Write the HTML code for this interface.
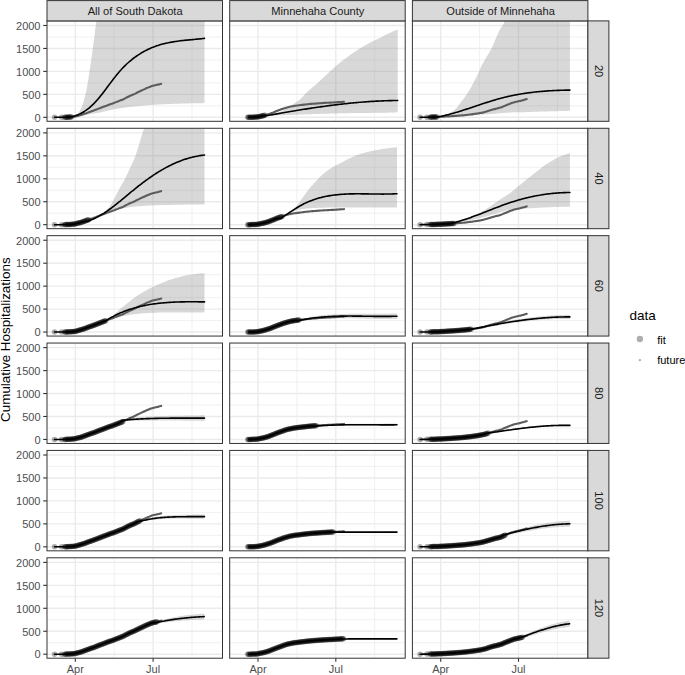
<!DOCTYPE html>
<html><head><meta charset="utf-8"><style>
html,body{margin:0;padding:0;background:#fff;width:685px;height:675px;overflow:hidden}
svg{display:block}
text{font-family:"Liberation Sans",sans-serif}
.st{font-size:11.1px;fill:#1A1A1A}
.ax{font-size:11px;fill:#4D4D4D}
.ti{font-size:13.4px;fill:#000}
.lt{font-size:13.5px;fill:#000}
.lx{font-size:11px;fill:#000}
</style></head><body>
<svg width="685" height="675" viewBox="0 0 685 675">
<defs><clipPath id="cp00"><rect x="47" y="20.9" width="175.5" height="100.4"/></clipPath><clipPath id="cp01"><rect x="229.7" y="20.9" width="175.5" height="100.4"/></clipPath><clipPath id="cp02"><rect x="412.4" y="20.9" width="175.5" height="100.4"/></clipPath><clipPath id="cp10"><rect x="47" y="128.28" width="175.5" height="100.4"/></clipPath><clipPath id="cp11"><rect x="229.7" y="128.28" width="175.5" height="100.4"/></clipPath><clipPath id="cp12"><rect x="412.4" y="128.28" width="175.5" height="100.4"/></clipPath><clipPath id="cp20"><rect x="47" y="235.66" width="175.5" height="100.4"/></clipPath><clipPath id="cp21"><rect x="229.7" y="235.66" width="175.5" height="100.4"/></clipPath><clipPath id="cp22"><rect x="412.4" y="235.66" width="175.5" height="100.4"/></clipPath><clipPath id="cp30"><rect x="47" y="343.04" width="175.5" height="100.4"/></clipPath><clipPath id="cp31"><rect x="229.7" y="343.04" width="175.5" height="100.4"/></clipPath><clipPath id="cp32"><rect x="412.4" y="343.04" width="175.5" height="100.4"/></clipPath><clipPath id="cp40"><rect x="47" y="450.42" width="175.5" height="100.4"/></clipPath><clipPath id="cp41"><rect x="229.7" y="450.42" width="175.5" height="100.4"/></clipPath><clipPath id="cp42"><rect x="412.4" y="450.42" width="175.5" height="100.4"/></clipPath><clipPath id="cp50"><rect x="47" y="557.8" width="175.5" height="100.4"/></clipPath><clipPath id="cp51"><rect x="229.7" y="557.8" width="175.5" height="100.4"/></clipPath><clipPath id="cp52"><rect x="412.4" y="557.8" width="175.5" height="100.4"/></clipPath></defs>
<rect width="685" height="675" fill="#fff"/>
<g clip-path="url(#cp00)">
<line x1="47" x2="222.5" y1="105.82" y2="105.82" stroke="#EBEBEB" stroke-width="0.7"/>
<line x1="47" x2="222.5" y1="82.87" y2="82.87" stroke="#EBEBEB" stroke-width="0.7"/>
<line x1="47" x2="222.5" y1="59.92" y2="59.92" stroke="#EBEBEB" stroke-width="0.7"/>
<line x1="47" x2="222.5" y1="36.97" y2="36.97" stroke="#EBEBEB" stroke-width="0.7"/>
<line x1="114.2" x2="114.2" y1="20.9" y2="121.3" stroke="#EBEBEB" stroke-width="0.7"/>
<line x1="192.01" x2="192.01" y1="20.9" y2="121.3" stroke="#EBEBEB" stroke-width="0.7"/>
<line x1="47" x2="222.5" y1="117.3" y2="117.3" stroke="#EBEBEB" stroke-width="1.4"/>
<line x1="47" x2="222.5" y1="94.35" y2="94.35" stroke="#EBEBEB" stroke-width="1.4"/>
<line x1="47" x2="222.5" y1="71.39" y2="71.39" stroke="#EBEBEB" stroke-width="1.4"/>
<line x1="47" x2="222.5" y1="48.44" y2="48.44" stroke="#EBEBEB" stroke-width="1.4"/>
<line x1="47" x2="222.5" y1="25.49" y2="25.49" stroke="#EBEBEB" stroke-width="1.4"/>
<line x1="75.3" x2="75.3" y1="20.9" y2="121.3" stroke="#EBEBEB" stroke-width="1.4"/>
<line x1="153.1" x2="153.1" y1="20.9" y2="121.3" stroke="#EBEBEB" stroke-width="1.4"/>
<path d="M71.5,116.9 L72.2,116.87 L72.91,116.78 L73.61,116.63 L74.31,116.44 L75.02,116.19 L75.72,115.91 L76.43,115.59 L77.13,115.09 L77.83,114.19 L78.54,113.06 L79.24,111.9 L79.94,110.56 L80.65,109.07 L81.35,107.48 L82.06,105.85 L82.76,104.1 L83.46,102.13 L84.17,99.82 L84.87,97.09 L85.57,94.04 L86.28,90.79 L86.98,87.22 L87.69,83.33 L88.39,79.15 L89.09,74.45 L89.8,69.51 L90.5,64.74 L91.2,59.96 L91.91,55.01 L92.61,49.89 L93.31,44.61 L94.02,39.15 L94.72,33.64 L95.43,27.99 L96.13,23.28 L96.83,11.81 L97.54,10 L98.24,10 L98.94,10 L99.65,10 L100.35,10 L101.06,10 L101.76,10 L102.46,10 L103.17,10 L103.87,10 L104.57,10 L105.28,10 L105.98,10 L106.69,10 L107.39,10 L108.09,10 L108.8,10 L109.5,10 L110.2,10 L110.91,10 L111.61,10 L112.31,10 L113.02,10 L113.72,10 L114.43,10 L115.13,10 L115.83,10 L116.54,10 L117.24,10 L117.94,10 L118.65,10 L119.35,10 L120.06,10 L120.76,10 L121.46,10 L122.17,10 L122.87,10 L123.57,10 L124.28,10 L124.98,10 L125.69,10 L126.39,10 L127.09,10 L127.8,10 L128.5,10 L129.2,10 L129.91,10 L130.61,10 L131.31,10 L132.02,10 L132.72,10 L133.43,10 L134.13,10 L134.83,10 L135.54,10 L136.24,10 L136.94,10 L137.65,10 L138.35,10 L139.06,10 L139.76,10 L140.46,10 L141.17,10 L141.87,10 L142.57,10 L143.28,10 L143.98,10 L144.69,10 L145.39,10 L146.09,10 L146.8,10 L147.5,10 L148.2,10 L148.91,10 L149.61,10 L150.31,10 L151.02,10 L151.72,10 L152.43,10 L153.13,10 L153.83,10 L154.54,10 L155.24,10 L155.94,10 L156.65,10 L157.35,10 L158.06,10 L158.76,10 L159.46,10 L160.17,10 L160.87,10 L161.57,10 L162.28,10 L162.98,10 L163.69,10 L164.39,10 L165.09,10 L165.8,10 L166.5,10 L167.2,10 L167.91,10 L168.61,10 L169.31,10 L170.02,10 L170.72,10 L171.43,10 L172.13,10 L172.83,10 L173.54,10 L174.24,10 L174.94,10 L175.65,10 L176.35,10 L177.06,10 L177.76,10 L178.46,10 L179.17,10 L179.87,10 L180.57,10 L181.28,10 L181.98,10 L182.69,10 L183.39,10 L184.09,10 L184.8,10 L185.5,10 L186.2,10 L186.91,10 L187.61,10 L188.31,10 L189.02,10 L189.72,10 L190.43,10 L191.13,10 L191.83,10 L192.54,10 L193.24,10 L193.94,10 L194.65,10 L195.35,10 L196.06,10 L196.76,10 L197.46,10 L198.17,10 L198.87,10 L199.57,10 L200.28,10 L200.98,10 L201.69,10 L202.39,10 L203.09,10 L203.8,10 L204.5,10 L204.5,103.1 L203.8,103.11 L203.09,103.12 L202.39,103.13 L201.69,103.14 L200.98,103.15 L200.28,103.16 L199.57,103.17 L198.87,103.18 L198.17,103.19 L197.46,103.21 L196.76,103.22 L196.06,103.23 L195.35,103.24 L194.65,103.26 L193.94,103.27 L193.24,103.29 L192.54,103.3 L191.83,103.32 L191.13,103.33 L190.43,103.35 L189.72,103.36 L189.02,103.38 L188.31,103.4 L187.61,103.42 L186.91,103.43 L186.2,103.45 L185.5,103.47 L184.8,103.49 L184.09,103.51 L183.39,103.53 L182.69,103.55 L181.98,103.57 L181.28,103.59 L180.57,103.62 L179.87,103.64 L179.17,103.66 L178.46,103.68 L177.76,103.71 L177.06,103.73 L176.35,103.75 L175.65,103.78 L174.94,103.8 L174.24,103.83 L173.54,103.85 L172.83,103.88 L172.13,103.9 L171.43,103.93 L170.72,103.96 L170.02,103.98 L169.31,104.01 L168.61,104.04 L167.91,104.06 L167.2,104.09 L166.5,104.12 L165.8,104.15 L165.09,104.18 L164.39,104.21 L163.69,104.25 L162.98,104.28 L162.28,104.31 L161.57,104.34 L160.87,104.38 L160.17,104.41 L159.46,104.45 L158.76,104.48 L158.06,104.52 L157.35,104.56 L156.65,104.6 L155.94,104.64 L155.24,104.68 L154.54,104.72 L153.83,104.76 L153.13,104.81 L152.43,104.85 L151.72,104.9 L151.02,104.95 L150.31,105 L149.61,105.06 L148.91,105.12 L148.2,105.18 L147.5,105.25 L146.8,105.31 L146.09,105.38 L145.39,105.45 L144.69,105.52 L143.98,105.58 L143.28,105.65 L142.57,105.71 L141.87,105.78 L141.17,105.85 L140.46,105.92 L139.76,105.98 L139.06,106.05 L138.35,106.12 L137.65,106.19 L136.94,106.26 L136.24,106.32 L135.54,106.39 L134.83,106.45 L134.13,106.52 L133.43,106.58 L132.72,106.64 L132.02,106.71 L131.31,106.77 L130.61,106.85 L129.91,106.92 L129.2,107 L128.5,107.09 L127.8,107.18 L127.09,107.28 L126.39,107.39 L125.69,107.5 L124.98,107.61 L124.28,107.72 L123.57,107.84 L122.87,107.95 L122.17,108.06 L121.46,108.17 L120.76,108.27 L120.06,108.37 L119.35,108.47 L118.65,108.57 L117.94,108.67 L117.24,108.78 L116.54,108.88 L115.83,108.99 L115.13,109.11 L114.43,109.23 L113.72,109.36 L113.02,109.49 L112.31,109.63 L111.61,109.77 L110.91,109.91 L110.2,110.06 L109.5,110.21 L108.8,110.37 L108.09,110.52 L107.39,110.68 L106.69,110.84 L105.98,111.02 L105.28,111.2 L104.57,111.38 L103.87,111.57 L103.17,111.75 L102.46,111.94 L101.76,112.11 L101.06,112.28 L100.35,112.43 L99.65,112.57 L98.94,112.7 L98.24,112.82 L97.54,112.93 L96.83,113.04 L96.13,113.15 L95.43,113.26 L94.72,113.36 L94.02,113.46 L93.31,113.57 L92.61,113.68 L91.91,113.8 L91.2,113.92 L90.5,114.04 L89.8,114.16 L89.09,114.29 L88.39,114.41 L87.69,114.54 L86.98,114.67 L86.28,114.79 L85.57,114.92 L84.87,115.05 L84.17,115.17 L83.46,115.3 L82.76,115.42 L82.06,115.55 L81.35,115.68 L80.65,115.81 L79.94,115.94 L79.24,116.06 L78.54,116.18 L77.83,116.3 L77.13,116.41 L76.43,116.51 L75.72,116.61 L75.02,116.7 L74.31,116.79 L73.61,116.87 L72.91,116.95 L72.2,117.03 L71.5,117.1 Z" fill="#7F7F7F" fill-opacity="0.3"/><path d="M71.62,116.95 C71.91,116.92 72.76,116.85 73.33,116.8 C73.9,116.74 74.47,116.74 75.04,116.64 C75.61,116.53 76.18,116.33 76.75,116.17 C77.32,116.01 77.89,115.84 78.46,115.68 C79.03,115.52 79.6,115.36 80.17,115.2 C80.74,115.04 81.31,114.89 81.88,114.72 C82.45,114.54 83.02,114.35 83.59,114.15 C84.16,113.96 84.73,113.76 85.3,113.55 C85.87,113.34 86.44,113.12 87.01,112.9 C87.58,112.69 88.15,112.46 88.72,112.26 C89.29,112.05 89.86,111.85 90.43,111.65 C91,111.45 91.57,111.26 92.14,111.06 C92.71,110.86 93.28,110.68 93.85,110.47 C94.42,110.27 94.99,110.07 95.56,109.85 C96.13,109.62 96.7,109.37 97.27,109.14 C97.84,108.92 98.41,108.7 98.98,108.48 C99.55,108.26 100.12,108.05 100.69,107.83 C101.26,107.61 101.83,107.39 102.4,107.17 C102.97,106.95 103.54,106.74 104.11,106.52 C104.68,106.31 105.25,106.12 105.82,105.9 C106.39,105.69 106.96,105.47 107.53,105.25 C108.1,105.02 108.67,104.76 109.24,104.55 C109.81,104.34 110.38,104.18 110.95,104 C111.52,103.82 112.09,103.66 112.66,103.46 C113.23,103.26 113.8,103.03 114.37,102.81 C114.94,102.59 115.51,102.37 116.08,102.14 C116.65,101.92 117.22,101.7 117.79,101.47 C118.36,101.24 118.93,101 119.5,100.77 C120.07,100.55 120.64,100.32 121.21,100.11 C121.78,99.9 122.35,99.78 122.92,99.52 C123.49,99.26 124.06,98.87 124.63,98.55 C125.2,98.24 125.77,97.94 126.34,97.65 C126.91,97.36 127.48,97.09 128.05,96.8 C128.62,96.52 129.19,96.2 129.76,95.94 C130.33,95.69 130.9,95.48 131.47,95.24 C132.04,95.01 132.61,94.79 133.18,94.55 C133.75,94.32 134.32,94.11 134.89,93.83 C135.46,93.55 136.03,93.18 136.6,92.88 C137.17,92.59 137.74,92.33 138.31,92.06 C138.88,91.79 139.45,91.52 140.02,91.25 C140.59,90.98 141.16,90.71 141.73,90.45 C142.3,90.18 142.87,89.91 143.44,89.65 C144.01,89.38 144.58,89.12 145.15,88.86 C145.72,88.59 146.29,88.32 146.86,88.07 C147.43,87.82 148,87.6 148.57,87.36 C149.14,87.13 149.71,86.88 150.28,86.66 C150.85,86.44 151.42,86.23 151.99,86.05 C152.56,85.86 153.13,85.7 153.7,85.56 C154.27,85.42 154.84,85.31 155.41,85.19 C155.98,85.07 156.55,84.97 157.12,84.84 C157.69,84.7 158.26,84.54 158.83,84.39 C159.4,84.23 160.14,84.03 160.54,83.93 C160.94,83.82 161.11,83.77 161.23,83.74" fill="none" stroke="#5C5C5C" stroke-width="2.1" stroke-linejoin="round" stroke-linecap="round"/><path d="M54.52,117.3 C54.95,117.3 56.23,117.3 57.09,117.3 C57.94,117.3 58.8,117.3 59.65,117.3 C60.51,117.3 61.36,117.3 62.22,117.29 C63.07,117.28 63.93,117.28 64.78,117.26 C65.64,117.24 66.26,117.24 67.35,117.16 C68.43,117.09 70.38,116.93 71.3,116.81 C72.22,116.69 72.34,116.58 72.85,116.46 C73.36,116.33 73.86,116.19 74.35,116.05 C74.85,115.9 75.34,115.75 75.82,115.59 C76.31,115.42 76.78,115.25 77.25,115.07 C77.72,114.89 78.19,114.7 78.65,114.5 C79.11,114.3 79.56,114.09 80.01,113.88 C80.46,113.66 80.9,113.44 81.34,113.21 C81.77,112.98 82.21,112.74 82.63,112.5 C83.06,112.25 83.48,112 83.9,111.74 C84.31,111.48 84.73,111.22 85.13,110.95 C85.54,110.67 85.94,110.39 86.34,110.11 C86.74,109.82 87.13,109.53 87.52,109.23 C87.91,108.94 88.3,108.63 88.68,108.32 C89.06,108.01 89.44,107.7 89.81,107.38 C90.19,107.06 90.56,106.73 90.92,106.4 C91.29,106.07 91.65,105.74 92.01,105.4 C92.37,105.06 92.73,104.71 93.08,104.37 C93.43,104.02 93.78,103.66 94.13,103.31 C94.48,102.95 94.82,102.59 95.16,102.23 C95.5,101.86 95.84,101.49 96.18,101.12 C96.52,100.75 96.85,100.38 97.18,100 C97.52,99.62 97.84,99.24 98.17,98.86 C98.5,98.48 98.83,98.09 99.15,97.7 C99.47,97.32 99.8,96.93 100.12,96.53 C100.44,96.14 100.76,95.75 101.07,95.35 C101.39,94.96 101.71,94.56 102.02,94.16 C102.34,93.76 102.65,93.36 102.96,92.95 C103.28,92.55 103.59,92.14 103.9,91.74 C104.21,91.33 104.52,90.92 104.83,90.52 C105.14,90.11 105.45,89.7 105.75,89.29 C106.06,88.88 106.37,88.47 106.68,88.06 C106.98,87.65 107.29,87.23 107.6,86.82 C107.9,86.41 108.21,86 108.52,85.58 C108.82,85.17 109.13,84.76 109.44,84.34 C109.74,83.93 110.05,83.52 110.36,83.11 C110.67,82.69 110.97,82.28 111.28,81.87 C111.59,81.46 111.9,81.05 112.21,80.64 C112.52,80.23 112.83,79.82 113.14,79.41 C113.45,79 113.77,78.6 114.08,78.19 C114.39,77.79 114.71,77.38 115.03,76.98 C115.34,76.57 115.66,76.17 115.98,75.77 C116.3,75.37 116.62,74.98 116.94,74.58 C117.26,74.18 117.59,73.79 117.91,73.4 C118.24,73.01 118.57,72.62 118.9,72.23 C119.23,71.84 119.56,71.46 119.9,71.07 C120.23,70.69 120.57,70.31 120.91,69.94 C121.24,69.56 121.59,69.19 121.93,68.81 C122.28,68.44 122.62,68.08 122.97,67.71 C123.32,67.35 123.67,66.99 124.03,66.63 C124.38,66.27 124.74,65.91 125.1,65.56 C125.46,65.21 125.82,64.86 126.19,64.52 C126.55,64.17 126.92,63.83 127.29,63.49 C127.66,63.15 128.03,62.82 128.41,62.49 C128.78,62.15 129.16,61.82 129.54,61.5 C129.92,61.17 130.31,60.85 130.69,60.53 C131.08,60.22 131.46,59.9 131.85,59.59 C132.24,59.28 132.64,58.97 133.03,58.66 C133.42,58.36 133.82,58.06 134.22,57.76 C134.62,57.46 135.02,57.17 135.43,56.88 C135.83,56.59 136.24,56.3 136.65,56.02 C137.06,55.74 137.47,55.46 137.88,55.18 C138.29,54.91 138.71,54.63 139.13,54.37 C139.54,54.1 139.97,53.83 140.39,53.57 C140.81,53.31 141.23,53.05 141.66,52.8 C142.09,52.55 142.52,52.3 142.95,52.05 C143.38,51.81 143.81,51.56 144.25,51.33 C144.68,51.09 145.12,50.85 145.56,50.62 C146,50.39 146.44,50.17 146.89,49.94 C147.33,49.72 147.78,49.5 148.23,49.29 C148.68,49.07 149.13,48.86 149.58,48.66 C150.03,48.45 150.49,48.25 150.94,48.05 C151.4,47.85 151.86,47.66 152.32,47.47 C152.78,47.28 153.24,47.09 153.71,46.91 C154.17,46.73 154.64,46.55 155.11,46.38 C155.57,46.2 156.05,46.04 156.52,45.87 C156.99,45.71 157.46,45.54 157.94,45.39 C158.42,45.23 158.9,45.08 159.38,44.93 C159.86,44.78 160.34,44.64 160.82,44.5 C161.3,44.36 161.79,44.23 162.28,44.1 C162.76,43.97 163.25,43.84 163.74,43.72 C164.23,43.59 164.73,43.48 165.22,43.36 C165.71,43.24 166.21,43.13 166.71,43.03 C167.2,42.92 167.7,42.81 168.2,42.71 C168.7,42.61 169.2,42.51 169.7,42.42 C170.2,42.32 170.7,42.23 171.2,42.14 C171.71,42.05 172.21,41.97 172.72,41.89 C173.22,41.8 173.73,41.72 174.23,41.64 C174.74,41.57 175.25,41.49 175.76,41.42 C176.26,41.34 176.77,41.27 177.28,41.21 C177.79,41.14 178.3,41.07 178.81,41.01 C179.32,40.94 179.83,40.88 180.34,40.82 C180.85,40.76 181.36,40.7 181.87,40.64 C182.38,40.58 182.89,40.53 183.4,40.47 C183.91,40.42 184.42,40.36 184.93,40.31 C185.45,40.26 185.96,40.21 186.47,40.16 C186.98,40.11 187.49,40.06 188,40.01 C188.5,39.96 189.01,39.91 189.52,39.86 C190.03,39.82 190.54,39.77 191.05,39.72 C191.55,39.68 192.06,39.63 192.57,39.58 C193.07,39.54 193.58,39.49 194.08,39.45 C194.59,39.4 195.09,39.35 195.59,39.31 C196.09,39.26 196.6,39.21 197.1,39.17 C197.6,39.12 198.1,39.07 198.59,39.02 C199.09,38.98 199.59,38.93 200.08,38.88 C200.58,38.83 201.07,38.78 201.56,38.73 C202.06,38.68 202.55,38.62 203.04,38.57 C203.53,38.52 204.26,38.43 204.5,38.4" fill="none" stroke="#000" stroke-width="1.6" stroke-linejoin="round" stroke-linecap="round"/><g fill="#000" fill-opacity="0.32"><circle cx="54.52" cy="117.3" r="2.75"/><circle cx="61.62" cy="117.3" r="2.75"/><circle cx="64.61" cy="117.26" r="2.75"/><circle cx="65.47" cy="117.24" r="2.75"/><circle cx="66.32" cy="117.2" r="2.75"/><circle cx="67.18" cy="117.17" r="2.75"/><circle cx="68.03" cy="117.13" r="2.75"/><circle cx="68.89" cy="117.09" r="2.75"/><circle cx="69.74" cy="117.05" r="2.75"/><circle cx="70.6" cy="117" r="2.75"/><circle cx="71.45" cy="116.96" r="2.75"/></g>
</g>
<rect x="47" y="20.9" width="175.5" height="100.4" fill="none" stroke="#333333" stroke-width="1.0"/>
<g clip-path="url(#cp01)">
<line x1="229.7" x2="405.2" y1="105.82" y2="105.82" stroke="#EBEBEB" stroke-width="0.7"/>
<line x1="229.7" x2="405.2" y1="82.87" y2="82.87" stroke="#EBEBEB" stroke-width="0.7"/>
<line x1="229.7" x2="405.2" y1="59.92" y2="59.92" stroke="#EBEBEB" stroke-width="0.7"/>
<line x1="229.7" x2="405.2" y1="36.97" y2="36.97" stroke="#EBEBEB" stroke-width="0.7"/>
<line x1="296.9" x2="296.9" y1="20.9" y2="121.3" stroke="#EBEBEB" stroke-width="0.7"/>
<line x1="374.71" x2="374.71" y1="20.9" y2="121.3" stroke="#EBEBEB" stroke-width="0.7"/>
<line x1="229.7" x2="405.2" y1="117.3" y2="117.3" stroke="#EBEBEB" stroke-width="1.4"/>
<line x1="229.7" x2="405.2" y1="94.35" y2="94.35" stroke="#EBEBEB" stroke-width="1.4"/>
<line x1="229.7" x2="405.2" y1="71.39" y2="71.39" stroke="#EBEBEB" stroke-width="1.4"/>
<line x1="229.7" x2="405.2" y1="48.44" y2="48.44" stroke="#EBEBEB" stroke-width="1.4"/>
<line x1="229.7" x2="405.2" y1="25.49" y2="25.49" stroke="#EBEBEB" stroke-width="1.4"/>
<line x1="258" x2="258" y1="20.9" y2="121.3" stroke="#EBEBEB" stroke-width="1.4"/>
<line x1="335.81" x2="335.81" y1="20.9" y2="121.3" stroke="#EBEBEB" stroke-width="1.4"/>
<path d="M265,116.6 L265.71,116.48 L266.41,116.35 L267.12,116.21 L267.82,116.06 L268.53,115.9 L269.24,115.73 L269.94,115.56 L270.65,115.37 L271.35,115.18 L272.06,114.98 L272.76,114.78 L273.47,114.56 L274.18,114.32 L274.88,114.08 L275.59,113.82 L276.29,113.56 L277,113.28 L277.71,112.99 L278.41,112.7 L279.12,112.39 L279.82,112.08 L280.53,111.75 L281.23,111.4 L281.94,111.02 L282.65,110.63 L283.35,110.22 L284.06,109.81 L284.76,109.39 L285.47,108.98 L286.18,108.56 L286.88,108.15 L287.59,107.73 L288.29,107.3 L289,106.87 L289.7,106.43 L290.41,105.99 L291.12,105.54 L291.82,105.09 L292.53,104.62 L293.23,104.15 L293.94,103.67 L294.65,103.18 L295.35,102.68 L296.06,102.19 L296.76,101.68 L297.47,101.19 L298.18,100.69 L298.88,100.18 L299.59,99.64 L300.29,99.05 L301,98.39 L301.7,97.69 L302.41,96.94 L303.12,96.18 L303.82,95.4 L304.53,94.63 L305.23,93.87 L305.94,93.14 L306.65,92.46 L307.35,91.81 L308.06,91.18 L308.76,90.56 L309.47,89.96 L310.17,89.36 L310.88,88.77 L311.59,88.19 L312.29,87.6 L313,87.02 L313.7,86.43 L314.41,85.84 L315.12,85.24 L315.82,84.62 L316.53,84 L317.23,83.36 L317.94,82.71 L318.64,82.06 L319.35,81.4 L320.06,80.74 L320.76,80.08 L321.47,79.42 L322.17,78.75 L322.88,78.09 L323.59,77.43 L324.29,76.76 L325,76.09 L325.7,75.42 L326.41,74.74 L327.11,74.07 L327.82,73.4 L328.53,72.73 L329.23,72.07 L329.94,71.42 L330.64,70.78 L331.35,70.14 L332.06,69.51 L332.76,68.88 L333.47,68.25 L334.17,67.63 L334.88,67.02 L335.59,66.4 L336.29,65.8 L337,65.19 L337.7,64.6 L338.41,64.01 L339.11,63.42 L339.82,62.84 L340.53,62.27 L341.23,61.7 L341.94,61.14 L342.64,60.58 L343.35,60.03 L344.06,59.49 L344.76,58.95 L345.47,58.43 L346.17,57.9 L346.88,57.38 L347.58,56.86 L348.29,56.35 L349,55.84 L349.7,55.33 L350.41,54.83 L351.11,54.34 L351.82,53.84 L352.53,53.35 L353.23,52.87 L353.94,52.39 L354.64,51.92 L355.35,51.45 L356.05,50.98 L356.76,50.53 L357.47,50.07 L358.17,49.62 L358.88,49.17 L359.58,48.73 L360.29,48.29 L361,47.85 L361.7,47.42 L362.41,46.99 L363.11,46.57 L363.82,46.15 L364.52,45.74 L365.23,45.33 L365.94,44.93 L366.64,44.53 L367.35,44.13 L368.05,43.74 L368.76,43.36 L369.47,42.98 L370.17,42.62 L370.88,42.25 L371.58,41.9 L372.29,41.55 L373,41.2 L373.7,40.85 L374.41,40.51 L375.11,40.17 L375.82,39.83 L376.52,39.49 L377.23,39.15 L377.94,38.81 L378.64,38.47 L379.35,38.12 L380.05,37.77 L380.76,37.42 L381.47,37.06 L382.17,36.7 L382.88,36.33 L383.58,35.96 L384.29,35.6 L384.99,35.23 L385.7,34.87 L386.41,34.51 L387.11,34.15 L387.82,33.8 L388.52,33.46 L389.23,33.13 L389.94,32.8 L390.64,32.48 L391.35,32.16 L392.05,31.85 L392.76,31.54 L393.46,31.23 L394.17,30.93 L394.88,30.64 L395.58,30.35 L396.29,30.06 L396.99,29.78 L397.7,29.5 L397.7,112.3 L396.99,112.33 L396.29,112.35 L395.58,112.38 L394.88,112.4 L394.17,112.43 L393.46,112.45 L392.76,112.48 L392.05,112.5 L391.35,112.53 L390.64,112.55 L389.94,112.57 L389.23,112.59 L388.52,112.61 L387.82,112.63 L387.11,112.65 L386.41,112.67 L385.7,112.69 L384.99,112.71 L384.29,112.73 L383.58,112.74 L382.88,112.76 L382.17,112.77 L381.47,112.78 L380.76,112.79 L380.05,112.8 L379.35,112.81 L378.64,112.82 L377.94,112.83 L377.23,112.84 L376.52,112.84 L375.82,112.85 L375.11,112.86 L374.41,112.86 L373.7,112.87 L373,112.87 L372.29,112.88 L371.58,112.88 L370.88,112.89 L370.17,112.89 L369.47,112.9 L368.76,112.9 L368.05,112.91 L367.35,112.91 L366.64,112.92 L365.94,112.92 L365.23,112.92 L364.52,112.93 L363.82,112.93 L363.11,112.94 L362.41,112.95 L361.7,112.95 L361,112.96 L360.29,112.96 L359.58,112.97 L358.88,112.98 L358.17,112.98 L357.47,112.99 L356.76,113 L356.05,113.01 L355.35,113.02 L354.64,113.03 L353.94,113.04 L353.23,113.05 L352.53,113.06 L351.82,113.08 L351.11,113.09 L350.41,113.1 L349.7,113.11 L349,113.13 L348.29,113.14 L347.58,113.16 L346.88,113.17 L346.17,113.19 L345.47,113.2 L344.76,113.22 L344.06,113.24 L343.35,113.25 L342.64,113.27 L341.94,113.29 L341.23,113.3 L340.53,113.32 L339.82,113.34 L339.11,113.36 L338.41,113.37 L337.7,113.39 L337,113.41 L336.29,113.43 L335.59,113.45 L334.88,113.46 L334.17,113.48 L333.47,113.5 L332.76,113.52 L332.06,113.53 L331.35,113.55 L330.64,113.57 L329.94,113.59 L329.23,113.61 L328.53,113.63 L327.82,113.65 L327.11,113.67 L326.41,113.69 L325.7,113.71 L325,113.73 L324.29,113.75 L323.59,113.77 L322.88,113.79 L322.17,113.81 L321.47,113.83 L320.76,113.85 L320.06,113.88 L319.35,113.9 L318.64,113.92 L317.94,113.94 L317.23,113.97 L316.53,113.99 L315.82,114.01 L315.12,114.03 L314.41,114.06 L313.7,114.08 L313,114.1 L312.29,114.13 L311.59,114.15 L310.88,114.17 L310.17,114.2 L309.47,114.22 L308.76,114.25 L308.06,114.27 L307.35,114.3 L306.65,114.32 L305.94,114.35 L305.23,114.37 L304.53,114.4 L303.82,114.43 L303.12,114.45 L302.41,114.48 L301.7,114.51 L301,114.54 L300.29,114.56 L299.59,114.59 L298.88,114.62 L298.18,114.65 L297.47,114.67 L296.76,114.7 L296.06,114.73 L295.35,114.76 L294.65,114.79 L293.94,114.82 L293.23,114.84 L292.53,114.87 L291.82,114.9 L291.12,114.93 L290.41,114.96 L289.7,114.98 L289,115.01 L288.29,115.04 L287.59,115.07 L286.88,115.09 L286.18,115.12 L285.47,115.14 L284.76,115.16 L284.06,115.19 L283.35,115.2 L282.65,115.22 L281.94,115.24 L281.23,115.25 L280.53,115.27 L279.82,115.29 L279.12,115.3 L278.41,115.32 L277.71,115.33 L277,115.35 L276.29,115.37 L275.59,115.39 L274.88,115.42 L274.18,115.44 L273.47,115.47 L272.76,115.5 L272.06,115.53 L271.35,115.57 L270.65,115.61 L269.94,115.66 L269.24,115.7 L268.53,115.76 L267.82,115.82 L267.12,115.98 L266.41,116.23 L265.71,116.52 L265,116.8 Z" fill="#7F7F7F" fill-opacity="0.3"/><path d="M264.84,115.37 C265.12,115.28 265.98,115.01 266.55,114.83 C267.12,114.65 267.69,114.48 268.26,114.29 C268.83,114.1 269.4,113.91 269.97,113.7 C270.54,113.49 271.11,113.26 271.68,113.04 C272.25,112.82 272.82,112.59 273.39,112.36 C273.96,112.13 274.53,111.89 275.1,111.66 C275.67,111.43 276.24,111.2 276.81,110.98 C277.38,110.76 277.95,110.56 278.52,110.35 C279.09,110.14 279.66,109.93 280.23,109.73 C280.8,109.52 281.37,109.31 281.94,109.11 C282.51,108.9 283.08,108.68 283.65,108.49 C284.22,108.3 284.79,108.13 285.36,107.96 C285.93,107.79 286.5,107.63 287.07,107.46 C287.64,107.3 288.21,107.11 288.78,106.97 C289.35,106.83 289.92,106.73 290.49,106.6 C291.06,106.48 291.63,106.35 292.2,106.24 C292.77,106.13 293.34,106.03 293.91,105.94 C294.48,105.85 295.05,105.79 295.62,105.71 C296.19,105.63 296.76,105.55 297.33,105.48 C297.9,105.4 298.47,105.33 299.04,105.26 C299.61,105.19 300.18,105.12 300.75,105.05 C301.32,104.98 301.89,104.91 302.46,104.84 C303.03,104.77 303.6,104.7 304.17,104.63 C304.74,104.56 305.31,104.51 305.88,104.45 C306.45,104.39 307.02,104.32 307.59,104.26 C308.16,104.2 308.73,104.14 309.3,104.08 C309.87,104.02 310.44,103.97 311.01,103.92 C311.58,103.87 312.15,103.83 312.72,103.79 C313.29,103.74 313.86,103.7 314.43,103.65 C315,103.61 315.57,103.56 316.14,103.52 C316.71,103.48 317.28,103.43 317.85,103.39 C318.42,103.34 318.99,103.29 319.56,103.25 C320.13,103.21 320.7,103.18 321.27,103.14 C321.84,103.1 322.41,103.07 322.98,103.03 C323.55,102.99 324.12,102.95 324.69,102.92 C325.26,102.88 325.83,102.84 326.4,102.8 C326.97,102.77 327.54,102.74 328.11,102.71 C328.68,102.68 329.25,102.65 329.82,102.63 C330.39,102.6 330.96,102.57 331.53,102.54 C332.1,102.52 332.67,102.49 333.24,102.46 C333.81,102.44 334.38,102.41 334.95,102.38 C335.52,102.35 336.09,102.31 336.66,102.27 C337.23,102.23 337.8,102.19 338.37,102.16 C338.94,102.12 339.51,102.08 340.08,102.04 C340.65,102.01 341.22,101.97 341.79,101.93 C342.36,101.89 343.13,101.84 343.5,101.82 C343.87,101.79 343.93,101.79 344.01,101.78" fill="none" stroke="#5C5C5C" stroke-width="2.1" stroke-linejoin="round" stroke-linecap="round"/><path d="M248.59,117.28 C249.02,117.28 250.31,117.26 251.16,117.24 C252.01,117.22 252.87,117.2 253.72,117.16 C254.58,117.13 255.44,117.11 256.29,117.02 C257.15,116.94 258,116.79 258.86,116.63 C259.71,116.48 260.43,116.22 261.42,116.12 C262.41,116.01 263.99,116.07 264.8,116 C265.61,115.94 265.8,115.82 266.3,115.73 C266.8,115.64 267.3,115.55 267.8,115.47 C268.3,115.38 268.8,115.29 269.29,115.2 C269.79,115.11 270.29,115.02 270.79,114.93 C271.29,114.84 271.79,114.75 272.29,114.66 C272.79,114.58 273.29,114.49 273.79,114.4 C274.29,114.31 274.79,114.22 275.29,114.13 C275.79,114.05 276.29,113.96 276.79,113.87 C277.29,113.78 277.79,113.69 278.29,113.61 C278.79,113.52 279.29,113.43 279.79,113.34 C280.29,113.26 280.79,113.17 281.29,113.08 C281.79,113 282.29,112.91 282.79,112.82 C283.29,112.74 283.79,112.65 284.29,112.56 C284.79,112.48 285.29,112.39 285.79,112.31 C286.29,112.22 286.79,112.14 287.29,112.05 C287.79,111.97 288.29,111.88 288.79,111.8 C289.29,111.71 289.79,111.63 290.29,111.54 C290.79,111.46 291.29,111.37 291.8,111.29 C292.3,111.21 292.8,111.12 293.3,111.04 C293.8,110.96 294.3,110.87 294.8,110.79 C295.3,110.71 295.8,110.62 296.3,110.54 C296.8,110.46 297.3,110.38 297.81,110.3 C298.31,110.21 298.81,110.13 299.31,110.05 C299.81,109.97 300.31,109.89 300.81,109.81 C301.31,109.73 301.81,109.65 302.31,109.57 C302.82,109.49 303.32,109.41 303.82,109.33 C304.32,109.25 304.82,109.17 305.32,109.09 C305.82,109.01 306.33,108.93 306.83,108.86 C307.33,108.78 307.83,108.7 308.33,108.62 C308.83,108.55 309.33,108.47 309.84,108.39 C310.34,108.32 310.84,108.24 311.34,108.16 C311.84,108.09 312.35,108.01 312.85,107.94 C313.35,107.86 313.85,107.79 314.35,107.71 C314.86,107.64 315.36,107.56 315.86,107.49 C316.36,107.42 316.86,107.34 317.37,107.27 C317.87,107.2 318.37,107.13 318.87,107.05 C319.37,106.98 319.88,106.91 320.38,106.84 C320.88,106.77 321.38,106.7 321.89,106.63 C322.39,106.56 322.89,106.49 323.39,106.42 C323.9,106.35 324.4,106.28 324.9,106.21 C325.4,106.14 325.91,106.07 326.41,106.01 C326.91,105.94 327.42,105.87 327.92,105.8 C328.42,105.74 328.92,105.67 329.43,105.61 C329.93,105.54 330.43,105.47 330.94,105.41 C331.44,105.35 331.94,105.28 332.45,105.22 C332.95,105.15 333.45,105.09 333.96,105.03 C334.46,104.96 334.96,104.9 335.47,104.84 C335.97,104.78 336.47,104.72 336.98,104.66 C337.48,104.6 337.98,104.54 338.49,104.48 C338.99,104.42 339.49,104.36 340,104.3 C340.5,104.24 341.01,104.18 341.51,104.12 C342.01,104.07 342.52,104.01 343.02,103.95 C343.53,103.9 344.03,103.84 344.53,103.79 C345.04,103.73 345.54,103.68 346.05,103.62 C346.55,103.57 347.05,103.52 347.56,103.46 C348.06,103.41 348.57,103.36 349.07,103.31 C349.58,103.25 350.08,103.2 350.59,103.15 C351.09,103.1 351.6,103.05 352.1,103 C352.6,102.95 353.11,102.9 353.61,102.86 C354.12,102.81 354.62,102.76 355.13,102.71 C355.63,102.67 356.14,102.62 356.64,102.58 C357.15,102.53 357.65,102.49 358.16,102.44 C358.66,102.4 359.17,102.35 359.68,102.31 C360.18,102.27 360.69,102.23 361.19,102.19 C361.7,102.14 362.2,102.1 362.71,102.06 C363.21,102.02 363.72,101.98 364.23,101.95 C364.73,101.91 365.24,101.87 365.74,101.83 C366.25,101.79 366.75,101.76 367.26,101.72 C367.77,101.69 368.27,101.65 368.78,101.62 C369.28,101.58 369.79,101.55 370.3,101.51 C370.8,101.48 371.31,101.45 371.82,101.42 C372.32,101.39 372.83,101.36 373.33,101.33 C373.84,101.3 374.35,101.27 374.85,101.24 C375.36,101.21 375.87,101.18 376.37,101.15 C376.88,101.13 377.39,101.1 377.9,101.08 C378.4,101.05 378.91,101.03 379.42,101 C379.92,100.98 380.43,100.96 380.94,100.93 C381.44,100.91 381.95,100.89 382.46,100.87 C382.97,100.85 383.47,100.83 383.98,100.81 C384.49,100.79 385,100.77 385.5,100.75 C386.01,100.74 386.52,100.72 387.03,100.71 C387.53,100.69 388.04,100.67 388.55,100.66 C389.06,100.65 389.57,100.63 390.07,100.62 C390.58,100.61 391.09,100.6 391.6,100.59 C392.11,100.58 392.62,100.57 393.12,100.56 C393.63,100.55 394.14,100.54 394.65,100.53 C395.16,100.53 395.67,100.52 396.17,100.52 C396.68,100.51 397.45,100.5 397.7,100.5" fill="none" stroke="#000" stroke-width="1.6" stroke-linejoin="round" stroke-linecap="round"/><g fill="#000" fill-opacity="0.32"><circle cx="247.74" cy="117.3" r="2.75"/><circle cx="248.59" cy="117.28" r="2.75"/><circle cx="249.45" cy="117.27" r="2.75"/><circle cx="250.31" cy="117.25" r="2.75"/><circle cx="251.16" cy="117.24" r="2.75"/><circle cx="252.01" cy="117.22" r="2.75"/><circle cx="252.87" cy="117.21" r="2.75"/><circle cx="253.72" cy="117.16" r="2.75"/><circle cx="254.58" cy="117.12" r="2.75"/><circle cx="255.44" cy="117.07" r="2.75"/><circle cx="256.29" cy="117.02" r="2.75"/><circle cx="257.14" cy="116.98" r="2.75"/><circle cx="258" cy="116.81" r="2.75"/><circle cx="258.86" cy="116.63" r="2.75"/><circle cx="259.71" cy="116.46" r="2.75"/><circle cx="260.56" cy="116.29" r="2.75"/><circle cx="261.42" cy="116.12" r="2.75"/><circle cx="262.27" cy="115.94" r="2.75"/><circle cx="263.13" cy="115.75" r="2.75"/><circle cx="263.99" cy="115.56" r="2.75"/><circle cx="264.84" cy="115.37" r="2.75"/></g>
</g>
<rect x="229.7" y="20.9" width="175.5" height="100.4" fill="none" stroke="#333333" stroke-width="1.0"/>
<g clip-path="url(#cp02)">
<line x1="412.4" x2="587.9" y1="105.82" y2="105.82" stroke="#EBEBEB" stroke-width="0.7"/>
<line x1="412.4" x2="587.9" y1="82.87" y2="82.87" stroke="#EBEBEB" stroke-width="0.7"/>
<line x1="412.4" x2="587.9" y1="59.92" y2="59.92" stroke="#EBEBEB" stroke-width="0.7"/>
<line x1="412.4" x2="587.9" y1="36.97" y2="36.97" stroke="#EBEBEB" stroke-width="0.7"/>
<line x1="479.6" x2="479.6" y1="20.9" y2="121.3" stroke="#EBEBEB" stroke-width="0.7"/>
<line x1="557.41" x2="557.41" y1="20.9" y2="121.3" stroke="#EBEBEB" stroke-width="0.7"/>
<line x1="412.4" x2="587.9" y1="117.3" y2="117.3" stroke="#EBEBEB" stroke-width="1.4"/>
<line x1="412.4" x2="587.9" y1="94.35" y2="94.35" stroke="#EBEBEB" stroke-width="1.4"/>
<line x1="412.4" x2="587.9" y1="71.39" y2="71.39" stroke="#EBEBEB" stroke-width="1.4"/>
<line x1="412.4" x2="587.9" y1="48.44" y2="48.44" stroke="#EBEBEB" stroke-width="1.4"/>
<line x1="412.4" x2="587.9" y1="25.49" y2="25.49" stroke="#EBEBEB" stroke-width="1.4"/>
<line x1="440.7" x2="440.7" y1="20.9" y2="121.3" stroke="#EBEBEB" stroke-width="1.4"/>
<line x1="518.5" x2="518.5" y1="20.9" y2="121.3" stroke="#EBEBEB" stroke-width="1.4"/>
<path d="M440,117 L440.71,116.73 L441.41,116.46 L442.12,116.19 L442.82,115.92 L443.53,115.64 L444.24,115.36 L444.94,115.08 L445.65,114.81 L446.35,114.54 L447.06,114.28 L447.77,114.01 L448.47,113.72 L449.18,113.4 L449.88,113.06 L450.59,112.68 L451.3,112.27 L452,111.83 L452.71,111.35 L453.41,110.84 L454.12,110.29 L454.83,109.69 L455.53,109.01 L456.24,108.23 L456.94,107.38 L457.65,106.49 L458.36,105.57 L459.06,104.66 L459.77,103.76 L460.47,102.87 L461.18,101.95 L461.89,101.03 L462.59,100.09 L463.3,99.13 L464,98.15 L464.71,97.17 L465.42,96.17 L466.12,95.16 L466.83,94.13 L467.53,93.08 L468.24,92 L468.95,90.88 L469.65,89.71 L470.36,88.5 L471.06,87.23 L471.77,85.93 L472.48,84.6 L473.18,83.26 L473.89,81.9 L474.59,80.54 L475.3,79.18 L476,77.79 L476.71,76.38 L477.42,74.94 L478.12,73.47 L478.83,71.95 L479.53,70.33 L480.24,68.69 L480.95,67.09 L481.65,65.59 L482.36,64.22 L483.06,62.93 L483.77,61.68 L484.48,60.46 L485.18,59.23 L485.89,58.02 L486.59,56.85 L487.3,55.71 L488.01,54.58 L488.71,53.44 L489.42,52.27 L490.12,51.06 L490.83,49.78 L491.54,48.43 L492.24,46.95 L492.95,45.35 L493.65,43.67 L494.36,41.95 L495.07,40.23 L495.77,38.57 L496.48,36.98 L497.18,35.42 L497.89,33.87 L498.6,32.35 L499.3,30.89 L500.01,29.48 L500.71,28.28 L501.42,27.3 L502.13,26.35 L502.83,25.28 L503.54,23.91 L504.24,22.07 L504.95,17.25 L505.66,11.09 L506.36,10 L507.07,10 L507.77,10 L508.48,10 L509.19,10 L509.89,10 L510.6,10 L511.3,10 L512.01,10 L512.72,10 L513.42,10 L514.13,10 L514.83,10 L515.54,10 L516.25,10 L516.95,10 L517.66,10 L518.36,10 L519.07,10 L519.78,10 L520.48,10 L521.19,10 L521.89,10 L522.6,10 L523.31,10 L524.01,10 L524.72,10 L525.42,10 L526.13,10 L526.84,10 L527.54,10 L528.25,10 L528.95,10 L529.66,10 L530.37,10 L531.07,10 L531.78,10 L532.48,10 L533.19,10 L533.9,10 L534.6,10 L535.31,10 L536.01,10 L536.72,10 L537.42,10 L538.13,10 L538.84,10 L539.54,10 L540.25,10 L540.95,10 L541.66,10 L542.37,10 L543.07,10 L543.78,10 L544.48,10 L545.19,10 L545.9,10 L546.6,10 L547.31,10 L548.01,10 L548.72,10 L549.43,10 L550.13,10 L550.84,10 L551.54,10 L552.25,10 L552.96,10 L553.66,10 L554.37,10 L555.07,10 L555.78,10 L556.49,10 L557.19,10 L557.9,10 L558.6,10 L559.31,10 L560.02,10 L560.72,10 L561.43,10 L562.13,10 L562.84,10 L563.55,10 L564.25,10 L564.96,10 L565.66,10 L566.37,10 L567.08,10 L567.78,10 L568.49,10 L569.19,10 L569.9,10 L569.9,110.8 L569.19,110.82 L568.49,110.84 L567.78,110.86 L567.08,110.88 L566.37,110.9 L565.66,110.92 L564.96,110.94 L564.25,110.96 L563.55,110.98 L562.84,111 L562.13,111.02 L561.43,111.04 L560.72,111.06 L560.02,111.08 L559.31,111.1 L558.6,111.11 L557.9,111.13 L557.19,111.15 L556.49,111.17 L555.78,111.19 L555.07,111.21 L554.37,111.23 L553.66,111.24 L552.96,111.26 L552.25,111.28 L551.54,111.3 L550.84,111.32 L550.13,111.33 L549.43,111.35 L548.72,111.37 L548.01,111.38 L547.31,111.4 L546.6,111.41 L545.9,111.43 L545.19,111.45 L544.48,111.46 L543.78,111.48 L543.07,111.49 L542.37,111.51 L541.66,111.53 L540.95,111.55 L540.25,111.57 L539.54,111.59 L538.84,111.61 L538.13,111.63 L537.42,111.66 L536.72,111.69 L536.01,111.72 L535.31,111.75 L534.6,111.78 L533.9,111.81 L533.19,111.85 L532.48,111.88 L531.78,111.91 L531.07,111.95 L530.37,111.98 L529.66,112 L528.95,112.03 L528.25,112.06 L527.54,112.08 L526.84,112.1 L526.13,112.11 L525.42,112.13 L524.72,112.14 L524.01,112.15 L523.31,112.16 L522.6,112.17 L521.89,112.18 L521.19,112.19 L520.48,112.2 L519.78,112.2 L519.07,112.21 L518.36,112.22 L517.66,112.23 L516.95,112.24 L516.25,112.26 L515.54,112.27 L514.83,112.29 L514.13,112.3 L513.42,112.33 L512.72,112.35 L512.01,112.39 L511.3,112.42 L510.6,112.46 L509.89,112.51 L509.19,112.55 L508.48,112.6 L507.77,112.65 L507.07,112.71 L506.36,112.76 L505.66,112.81 L504.95,112.87 L504.24,112.92 L503.54,112.98 L502.83,113.03 L502.13,113.08 L501.42,113.13 L500.71,113.19 L500.01,113.24 L499.3,113.3 L498.6,113.36 L497.89,113.42 L497.18,113.48 L496.48,113.54 L495.77,113.6 L495.07,113.66 L494.36,113.72 L493.65,113.78 L492.95,113.84 L492.24,113.9 L491.54,113.95 L490.83,114.01 L490.12,114.06 L489.42,114.11 L488.71,114.15 L488.01,114.19 L487.3,114.24 L486.59,114.28 L485.89,114.31 L485.18,114.35 L484.48,114.39 L483.77,114.43 L483.06,114.46 L482.36,114.5 L481.65,114.54 L480.95,114.57 L480.24,114.61 L479.53,114.65 L478.83,114.69 L478.12,114.73 L477.42,114.78 L476.71,114.83 L476,114.88 L475.3,114.93 L474.59,114.98 L473.89,115.04 L473.18,115.1 L472.48,115.16 L471.77,115.22 L471.06,115.28 L470.36,115.34 L469.65,115.4 L468.95,115.46 L468.24,115.52 L467.53,115.58 L466.83,115.64 L466.12,115.69 L465.42,115.74 L464.71,115.79 L464,115.84 L463.3,115.88 L462.59,115.93 L461.89,115.97 L461.18,116.01 L460.47,116.05 L459.77,116.09 L459.06,116.13 L458.36,116.17 L457.65,116.21 L456.94,116.25 L456.24,116.29 L455.53,116.33 L454.83,116.36 L454.12,116.4 L453.41,116.44 L452.71,116.47 L452,116.51 L451.3,116.55 L450.59,116.58 L449.88,116.62 L449.18,116.66 L448.47,116.69 L447.77,116.73 L447.06,116.76 L446.35,116.8 L445.65,116.83 L444.94,116.87 L444.24,116.9 L443.53,116.94 L442.82,116.97 L442.12,117 L441.41,117.04 L440.71,117.07 L440,117.1 Z" fill="#7F7F7F" fill-opacity="0.3"/><path d="M437.19,116.96 C437.48,116.95 438.33,116.92 438.9,116.9 C439.47,116.87 440.04,116.84 440.61,116.82 C441.18,116.79 441.75,116.76 442.32,116.74 C442.89,116.71 443.46,116.68 444.03,116.66 C444.6,116.63 445.17,116.6 445.74,116.56 C446.31,116.53 446.88,116.49 447.45,116.45 C448.02,116.41 448.59,116.38 449.16,116.34 C449.73,116.3 450.3,116.27 450.87,116.23 C451.44,116.19 452.01,116.15 452.58,116.11 C453.15,116.07 453.72,116.03 454.29,115.99 C454.86,115.95 455.43,115.91 456,115.87 C456.57,115.83 457.14,115.79 457.71,115.75 C458.28,115.7 458.85,115.65 459.42,115.61 C459.99,115.56 460.56,115.52 461.13,115.47 C461.7,115.42 462.27,115.38 462.84,115.33 C463.41,115.29 463.98,115.25 464.55,115.2 C465.12,115.14 465.69,115.06 466.26,114.99 C466.83,114.92 467.4,114.85 467.97,114.79 C468.54,114.72 469.11,114.65 469.68,114.58 C470.25,114.51 470.82,114.45 471.39,114.37 C471.96,114.3 472.53,114.21 473.1,114.12 C473.67,114.04 474.24,113.96 474.81,113.87 C475.38,113.78 475.95,113.7 476.52,113.61 C477.09,113.52 477.66,113.44 478.23,113.35 C478.8,113.26 479.37,113.19 479.94,113.09 C480.51,112.99 481.08,112.85 481.65,112.73 C482.22,112.61 482.79,112.49 483.36,112.36 C483.93,112.23 484.5,112.08 485.07,111.92 C485.64,111.76 486.21,111.57 486.78,111.4 C487.35,111.22 487.92,111.04 488.49,110.86 C489.06,110.69 489.63,110.5 490.2,110.33 C490.77,110.15 491.34,109.98 491.91,109.81 C492.48,109.64 493.05,109.47 493.62,109.31 C494.19,109.16 494.76,109.01 495.33,108.87 C495.9,108.74 496.47,108.64 497.04,108.5 C497.61,108.37 498.18,108.23 498.75,108.07 C499.32,107.91 499.89,107.73 500.46,107.55 C501.03,107.37 501.6,107.22 502.17,106.99 C502.74,106.75 503.31,106.42 503.88,106.16 C504.45,105.91 505.02,105.68 505.59,105.45 C506.16,105.22 506.73,105 507.3,104.78 C507.87,104.56 508.44,104.33 509.01,104.11 C509.58,103.89 510.15,103.68 510.72,103.47 C511.29,103.25 511.86,103.04 512.43,102.83 C513,102.61 513.57,102.35 514.14,102.18 C514.71,102.01 515.28,101.93 515.85,101.8 C516.42,101.68 516.99,101.56 517.56,101.43 C518.13,101.31 518.7,101.18 519.27,101.05 C519.84,100.93 520.41,100.82 520.98,100.68 C521.55,100.54 522.12,100.38 522.69,100.22 C523.26,100.06 523.83,99.88 524.4,99.71 C524.97,99.54 525.73,99.32 526.11,99.21 C526.5,99.09 526.61,99.06 526.71,99.03" fill="none" stroke="#5C5C5C" stroke-width="2.1" stroke-linejoin="round" stroke-linecap="round"/><path d="M420.09,117.3 C420.52,117.29 421.8,117.28 422.66,117.27 C423.51,117.25 424.37,117.24 425.22,117.23 C426.08,117.22 426.93,117.21 427.79,117.19 C428.64,117.18 429.5,117.17 430.35,117.15 C431.21,117.13 432.06,117.12 432.92,117.09 C433.77,117.07 434.54,117.06 435.48,117.01 C436.43,116.97 437.83,116.89 438.6,116.81 C439.37,116.72 439.6,116.61 440.1,116.5 C440.6,116.4 441.09,116.3 441.59,116.19 C442.09,116.08 442.58,115.97 443.08,115.86 C443.57,115.74 444.07,115.63 444.56,115.51 C445.06,115.39 445.55,115.27 446.05,115.15 C446.54,115.03 447.03,114.91 447.53,114.78 C448.02,114.66 448.51,114.53 449,114.4 C449.5,114.27 449.99,114.14 450.48,114.01 C450.97,113.87 451.46,113.74 451.95,113.6 C452.44,113.47 452.93,113.33 453.42,113.19 C453.91,113.05 454.4,112.91 454.89,112.77 C455.38,112.62 455.87,112.48 456.36,112.34 C456.84,112.19 457.33,112.04 457.82,111.9 C458.31,111.75 458.79,111.6 459.28,111.45 C459.77,111.3 460.26,111.15 460.74,111 C461.23,110.84 461.72,110.69 462.2,110.54 C462.69,110.38 463.17,110.23 463.66,110.07 C464.15,109.91 464.63,109.76 465.12,109.6 C465.6,109.44 466.09,109.28 466.57,109.13 C467.06,108.97 467.55,108.81 468.03,108.65 C468.52,108.49 469,108.33 469.48,108.17 C469.97,108.01 470.45,107.84 470.94,107.68 C471.42,107.52 471.91,107.36 472.39,107.2 C472.88,107.03 473.36,106.87 473.85,106.71 C474.33,106.55 474.82,106.39 475.3,106.22 C475.79,106.06 476.27,105.9 476.75,105.74 C477.24,105.57 477.72,105.41 478.21,105.25 C478.69,105.09 479.18,104.93 479.66,104.76 C480.15,104.6 480.63,104.44 481.12,104.28 C481.6,104.12 482.09,103.96 482.57,103.8 C483.06,103.64 483.54,103.48 484.03,103.32 C484.51,103.16 485,103 485.49,102.85 C485.97,102.69 486.46,102.53 486.94,102.38 C487.43,102.22 487.92,102.07 488.4,101.91 C488.89,101.76 489.38,101.61 489.86,101.45 C490.35,101.3 490.84,101.15 491.33,101 C491.81,100.85 492.3,100.7 492.79,100.56 C493.28,100.41 493.77,100.26 494.26,100.12 C494.74,99.97 495.23,99.83 495.72,99.69 C496.21,99.55 496.7,99.4 497.19,99.27 C497.68,99.13 498.17,98.99 498.66,98.85 C499.15,98.72 499.65,98.58 500.14,98.45 C500.63,98.32 501.12,98.19 501.61,98.06 C502.11,97.93 502.6,97.8 503.09,97.68 C503.59,97.55 504.08,97.43 504.58,97.31 C505.07,97.19 505.56,97.07 506.06,96.95 C506.56,96.83 507.05,96.72 507.55,96.6 C508.04,96.49 508.54,96.38 509.04,96.27 C509.53,96.16 510.03,96.05 510.53,95.94 C511.03,95.84 511.52,95.73 512.02,95.63 C512.52,95.52 513.02,95.42 513.52,95.32 C514.02,95.22 514.52,95.12 515.02,95.03 C515.52,94.93 516.02,94.84 516.52,94.74 C517.02,94.65 517.52,94.56 518.02,94.47 C518.52,94.38 519.02,94.29 519.52,94.2 C520.03,94.12 520.53,94.03 521.03,93.95 C521.53,93.87 522.04,93.79 522.54,93.71 C523.04,93.62 523.55,93.55 524.05,93.47 C524.55,93.39 525.06,93.32 525.56,93.24 C526.07,93.17 526.57,93.1 527.08,93.03 C527.58,92.95 528.09,92.89 528.59,92.82 C529.1,92.75 529.6,92.68 530.11,92.62 C530.61,92.55 531.12,92.49 531.63,92.43 C532.13,92.37 532.64,92.31 533.15,92.25 C533.65,92.19 534.16,92.13 534.67,92.07 C535.18,92.02 535.68,91.96 536.19,91.91 C536.7,91.85 537.21,91.8 537.71,91.75 C538.22,91.7 538.73,91.65 539.24,91.6 C539.75,91.55 540.26,91.51 540.77,91.46 C541.27,91.42 541.78,91.37 542.29,91.33 C542.8,91.28 543.31,91.24 543.82,91.2 C544.33,91.16 544.84,91.12 545.35,91.08 C545.86,91.05 546.37,91.01 546.88,90.97 C547.39,90.94 547.9,90.9 548.41,90.87 C548.92,90.84 549.43,90.8 549.94,90.77 C550.45,90.74 550.97,90.71 551.48,90.68 C551.99,90.66 552.5,90.63 553.01,90.6 C553.52,90.58 554.03,90.55 554.54,90.53 C555.06,90.5 555.57,90.48 556.08,90.46 C556.59,90.43 557.1,90.41 557.61,90.39 C558.12,90.37 558.64,90.36 559.15,90.34 C559.66,90.32 560.17,90.3 560.68,90.29 C561.2,90.27 561.71,90.26 562.22,90.24 C562.73,90.23 563.24,90.22 563.76,90.2 C564.27,90.19 564.78,90.18 565.29,90.17 C565.8,90.16 566.32,90.15 566.83,90.14 C567.34,90.14 567.85,90.13 568.36,90.12 C568.88,90.12 569.64,90.11 569.9,90.11" fill="none" stroke="#000" stroke-width="1.6" stroke-linejoin="round" stroke-linecap="round"/><g fill="#000" fill-opacity="0.32"><circle cx="420.09" cy="117.3" r="2.75"/><circle cx="427.02" cy="117.21" r="2.75"/><circle cx="430.01" cy="117.15" r="2.75"/><circle cx="430.87" cy="117.14" r="2.75"/><circle cx="431.72" cy="117.12" r="2.75"/><circle cx="432.58" cy="117.1" r="2.75"/><circle cx="433.43" cy="117.08" r="2.75"/><circle cx="434.29" cy="117.05" r="2.75"/><circle cx="435.14" cy="117.02" r="2.75"/><circle cx="436" cy="117" r="2.75"/><circle cx="436.85" cy="116.97" r="2.75"/></g>
</g>
<rect x="412.4" y="20.9" width="175.5" height="100.4" fill="none" stroke="#333333" stroke-width="1.0"/>
<g clip-path="url(#cp10)">
<line x1="47" x2="222.5" y1="213.2" y2="213.2" stroke="#EBEBEB" stroke-width="0.7"/>
<line x1="47" x2="222.5" y1="190.25" y2="190.25" stroke="#EBEBEB" stroke-width="0.7"/>
<line x1="47" x2="222.5" y1="167.3" y2="167.3" stroke="#EBEBEB" stroke-width="0.7"/>
<line x1="47" x2="222.5" y1="144.35" y2="144.35" stroke="#EBEBEB" stroke-width="0.7"/>
<line x1="114.2" x2="114.2" y1="128.28" y2="228.68" stroke="#EBEBEB" stroke-width="0.7"/>
<line x1="192.01" x2="192.01" y1="128.28" y2="228.68" stroke="#EBEBEB" stroke-width="0.7"/>
<line x1="47" x2="222.5" y1="224.68" y2="224.68" stroke="#EBEBEB" stroke-width="1.4"/>
<line x1="47" x2="222.5" y1="201.73" y2="201.73" stroke="#EBEBEB" stroke-width="1.4"/>
<line x1="47" x2="222.5" y1="178.78" y2="178.78" stroke="#EBEBEB" stroke-width="1.4"/>
<line x1="47" x2="222.5" y1="155.82" y2="155.82" stroke="#EBEBEB" stroke-width="1.4"/>
<line x1="47" x2="222.5" y1="132.87" y2="132.87" stroke="#EBEBEB" stroke-width="1.4"/>
<line x1="75.3" x2="75.3" y1="128.28" y2="228.68" stroke="#EBEBEB" stroke-width="1.4"/>
<line x1="153.1" x2="153.1" y1="128.28" y2="228.68" stroke="#EBEBEB" stroke-width="1.4"/>
<path d="M88,221.3 L88.71,221.02 L89.41,220.73 L90.12,220.44 L90.82,220.13 L91.53,219.81 L92.24,219.49 L92.94,219.16 L93.65,218.82 L94.35,218.47 L95.06,218.11 L95.77,217.73 L96.47,217.32 L97.18,216.89 L97.88,216.43 L98.59,215.96 L99.3,215.51 L100,215.07 L100.71,214.62 L101.42,214.17 L102.12,213.69 L102.83,213.2 L103.53,212.69 L104.24,212.17 L104.95,211.62 L105.65,211.01 L106.36,210.35 L107.06,209.6 L107.77,208.77 L108.48,207.88 L109.18,206.94 L109.89,205.98 L110.59,204.96 L111.3,203.89 L112.01,202.75 L112.71,201.57 L113.42,200.34 L114.12,199.04 L114.83,197.63 L115.54,196.17 L116.24,194.7 L116.95,193.28 L117.65,191.94 L118.36,190.64 L119.07,189.37 L119.77,188.11 L120.48,186.85 L121.18,185.6 L121.89,184.37 L122.6,183.16 L123.3,181.95 L124.01,180.69 L124.72,179.37 L125.42,177.96 L126.13,176.47 L126.83,174.95 L127.54,173.43 L128.25,171.93 L128.95,170.44 L129.66,168.93 L130.36,167.4 L131.07,165.86 L131.78,164.36 L132.48,162.85 L133.19,161.32 L133.89,159.72 L134.6,158.04 L135.31,156.25 L136.01,154.28 L136.72,152.11 L137.42,149.82 L138.13,147.47 L138.84,145.13 L139.54,142.83 L140.25,140.49 L140.95,138.13 L141.66,135.8 L142.37,133.64 L143.07,131.48 L143.78,128.99 L144.48,124.96 L145.19,120.63 L145.9,120 L146.6,120 L147.31,120 L148.02,120 L148.72,120 L149.43,120 L150.13,120 L150.84,120 L151.55,120 L152.25,120 L152.96,120 L153.66,120 L154.37,120 L155.08,120 L155.78,120 L156.49,120 L157.19,120 L157.9,120 L158.61,120 L159.31,120 L160.02,120 L160.72,120 L161.43,120 L162.14,120 L162.84,120 L163.55,120 L164.25,120 L164.96,120 L165.67,120 L166.37,120 L167.08,120 L167.78,120 L168.49,120 L169.2,120 L169.9,120 L170.61,120 L171.32,120 L172.02,120 L172.73,120 L173.43,120 L174.14,120 L174.85,120 L175.55,120 L176.26,120 L176.96,120 L177.67,120 L178.38,120 L179.08,120 L179.79,120 L180.49,120 L181.2,120 L181.91,120 L182.61,120 L183.32,120 L184.02,120 L184.73,120 L185.44,120 L186.14,120 L186.85,120 L187.55,120 L188.26,120 L188.97,120 L189.67,120 L190.38,120 L191.08,120 L191.79,120 L192.5,120 L193.2,120 L193.91,120 L194.62,120 L195.32,120 L196.03,120 L196.73,120 L197.44,120 L198.15,120 L198.85,120 L199.56,120 L200.26,120 L200.97,120 L201.68,120 L202.38,120 L203.09,120 L203.79,120 L204.5,120 L204.5,204.5 L203.79,204.5 L203.09,204.5 L202.38,204.5 L201.68,204.5 L200.97,204.5 L200.26,204.5 L199.56,204.5 L198.85,204.5 L198.15,204.5 L197.44,204.5 L196.73,204.5 L196.03,204.5 L195.32,204.5 L194.62,204.5 L193.91,204.5 L193.2,204.5 L192.5,204.5 L191.79,204.5 L191.08,204.5 L190.38,204.51 L189.67,204.51 L188.97,204.52 L188.26,204.53 L187.55,204.54 L186.85,204.55 L186.14,204.56 L185.44,204.58 L184.73,204.59 L184.02,204.61 L183.32,204.62 L182.61,204.64 L181.91,204.66 L181.2,204.67 L180.49,204.69 L179.79,204.71 L179.08,204.73 L178.38,204.75 L177.67,204.77 L176.96,204.78 L176.26,204.8 L175.55,204.82 L174.85,204.84 L174.14,204.86 L173.43,204.87 L172.73,204.89 L172.02,204.9 L171.32,204.92 L170.61,204.93 L169.9,204.95 L169.2,204.96 L168.49,204.98 L167.78,204.99 L167.08,205.01 L166.37,205.02 L165.67,205.03 L164.96,205.05 L164.25,205.06 L163.55,205.08 L162.84,205.09 L162.14,205.11 L161.43,205.12 L160.72,205.14 L160.02,205.16 L159.31,205.17 L158.61,205.19 L157.9,205.21 L157.19,205.23 L156.49,205.25 L155.78,205.27 L155.08,205.29 L154.37,205.31 L153.66,205.33 L152.96,205.36 L152.25,205.38 L151.55,205.41 L150.84,205.43 L150.13,205.46 L149.43,205.5 L148.72,205.53 L148.02,205.57 L147.31,205.61 L146.6,205.65 L145.9,205.7 L145.19,205.74 L144.48,205.79 L143.78,205.84 L143.07,205.89 L142.37,205.94 L141.66,205.99 L140.95,206.04 L140.25,206.1 L139.54,206.15 L138.84,206.21 L138.13,206.27 L137.42,206.34 L136.72,206.4 L136.01,206.47 L135.31,206.54 L134.6,206.62 L133.89,206.69 L133.19,206.77 L132.48,206.86 L131.78,206.94 L131.07,207.03 L130.36,207.12 L129.66,207.22 L128.95,207.33 L128.25,207.44 L127.54,207.55 L126.83,207.67 L126.13,207.79 L125.42,207.92 L124.72,208.05 L124.01,208.19 L123.3,208.33 L122.6,208.48 L121.89,208.63 L121.18,208.78 L120.48,208.94 L119.77,209.11 L119.07,209.29 L118.36,209.47 L117.65,209.66 L116.95,209.86 L116.24,210.07 L115.54,210.28 L114.83,210.5 L114.12,210.73 L113.42,210.95 L112.71,211.19 L112.01,211.42 L111.3,211.66 L110.59,211.91 L109.89,212.16 L109.18,212.42 L108.48,212.69 L107.77,212.97 L107.06,213.26 L106.36,213.56 L105.65,213.85 L104.95,214.16 L104.24,214.46 L103.53,214.77 L102.83,215.08 L102.12,215.39 L101.42,215.69 L100.71,216 L100,216.3 L99.3,216.61 L98.59,216.92 L97.88,217.24 L97.18,217.56 L96.47,217.88 L95.77,218.2 L95.06,218.52 L94.35,218.84 L93.65,219.16 L92.94,219.48 L92.24,219.8 L91.53,220.11 L90.82,220.42 L90.12,220.72 L89.41,221.02 L88.71,221.31 L88,221.6 Z" fill="#7F7F7F" fill-opacity="0.3"/><path d="M88.72,219.64 C89.01,219.54 89.86,219.23 90.43,219.03 C91,218.83 91.57,218.64 92.14,218.44 C92.71,218.24 93.28,218.06 93.85,217.85 C94.42,217.65 94.99,217.45 95.56,217.23 C96.13,217 96.7,216.75 97.27,216.52 C97.84,216.3 98.41,216.08 98.98,215.86 C99.55,215.64 100.12,215.43 100.69,215.21 C101.26,214.99 101.83,214.77 102.4,214.55 C102.97,214.33 103.54,214.12 104.11,213.9 C104.68,213.69 105.25,213.5 105.82,213.28 C106.39,213.07 106.96,212.85 107.53,212.63 C108.1,212.4 108.67,212.14 109.24,211.93 C109.81,211.72 110.38,211.56 110.95,211.38 C111.52,211.2 112.09,211.04 112.66,210.84 C113.23,210.64 113.8,210.41 114.37,210.19 C114.94,209.97 115.51,209.75 116.08,209.52 C116.65,209.3 117.22,209.08 117.79,208.85 C118.36,208.62 118.93,208.38 119.5,208.15 C120.07,207.93 120.64,207.7 121.21,207.49 C121.78,207.28 122.35,207.16 122.92,206.9 C123.49,206.64 124.06,206.25 124.63,205.93 C125.2,205.62 125.77,205.32 126.34,205.03 C126.91,204.74 127.48,204.47 128.05,204.18 C128.62,203.9 129.19,203.58 129.76,203.32 C130.33,203.07 130.9,202.86 131.47,202.62 C132.04,202.39 132.61,202.17 133.18,201.93 C133.75,201.7 134.32,201.49 134.89,201.21 C135.46,200.93 136.03,200.56 136.6,200.26 C137.17,199.97 137.74,199.71 138.31,199.44 C138.88,199.17 139.45,198.9 140.02,198.63 C140.59,198.36 141.16,198.09 141.73,197.83 C142.3,197.56 142.87,197.29 143.44,197.03 C144.01,196.76 144.58,196.5 145.15,196.24 C145.72,195.97 146.29,195.7 146.86,195.45 C147.43,195.2 148,194.98 148.57,194.74 C149.14,194.51 149.71,194.26 150.28,194.04 C150.85,193.82 151.42,193.61 151.99,193.43 C152.56,193.24 153.13,193.08 153.7,192.94 C154.27,192.8 154.84,192.69 155.41,192.57 C155.98,192.45 156.55,192.35 157.12,192.22 C157.69,192.08 158.26,191.92 158.83,191.77 C159.4,191.61 160.14,191.41 160.54,191.31 C160.94,191.2 161.11,191.15 161.23,191.12" fill="none" stroke="#5C5C5C" stroke-width="2.1" stroke-linejoin="round" stroke-linecap="round"/><path d="M54.52,224.68 C54.95,224.68 56.23,224.68 57.09,224.68 C57.94,224.68 58.8,224.68 59.65,224.68 C60.51,224.68 61.36,224.68 62.22,224.67 C63.07,224.66 63.93,224.66 64.78,224.64 C65.64,224.62 66.49,224.58 67.35,224.54 C68.2,224.5 69.06,224.47 69.91,224.42 C70.77,224.37 71.62,224.32 72.48,224.26 C73.33,224.19 74.19,224.18 75.04,224.02 C75.9,223.86 76.75,223.54 77.61,223.3 C78.46,223.06 79.32,222.83 80.17,222.58 C81.03,222.34 81.47,222.03 82.74,221.81 C84.01,221.6 86.72,221.48 87.8,221.3 C88.89,221.12 88.77,220.94 89.25,220.75 C89.73,220.57 90.2,220.37 90.68,220.18 C91.15,219.98 91.62,219.78 92.09,219.57 C92.55,219.37 93.02,219.16 93.48,218.94 C93.94,218.73 94.4,218.51 94.86,218.29 C95.31,218.06 95.77,217.84 96.22,217.61 C96.67,217.38 97.12,217.14 97.56,216.9 C98.01,216.66 98.45,216.42 98.9,216.17 C99.34,215.93 99.78,215.68 100.21,215.43 C100.65,215.17 101.08,214.92 101.52,214.66 C101.95,214.4 102.38,214.13 102.81,213.87 C103.24,213.6 103.66,213.33 104.09,213.06 C104.51,212.78 104.94,212.51 105.36,212.23 C105.78,211.95 106.2,211.67 106.62,211.39 C107.03,211.1 107.45,210.82 107.87,210.53 C108.28,210.24 108.69,209.95 109.1,209.65 C109.52,209.36 109.93,209.06 110.34,208.76 C110.74,208.47 111.15,208.17 111.56,207.86 C111.96,207.56 112.37,207.26 112.77,206.95 C113.18,206.64 113.58,206.33 113.98,206.02 C114.38,205.71 114.78,205.4 115.18,205.09 C115.58,204.78 115.98,204.46 116.38,204.15 C116.78,203.83 117.18,203.51 117.58,203.19 C117.97,202.88 118.37,202.56 118.76,202.23 C119.16,201.91 119.55,201.59 119.95,201.27 C120.34,200.95 120.74,200.62 121.13,200.3 C121.53,199.97 121.92,199.65 122.31,199.32 C122.71,199 123.1,198.67 123.49,198.34 C123.88,198.02 124.28,197.69 124.67,197.36 C125.06,197.04 125.46,196.71 125.85,196.38 C126.24,196.05 126.63,195.73 127.03,195.4 C127.42,195.07 127.81,194.74 128.21,194.42 C128.6,194.09 128.99,193.76 129.39,193.44 C129.78,193.11 130.18,192.78 130.57,192.46 C130.97,192.13 131.36,191.81 131.76,191.48 C132.16,191.16 132.55,190.83 132.95,190.51 C133.35,190.19 133.75,189.87 134.14,189.54 C134.54,189.22 134.94,188.9 135.34,188.58 C135.74,188.26 136.14,187.94 136.54,187.62 C136.94,187.3 137.34,186.99 137.74,186.67 C138.15,186.35 138.55,186.04 138.95,185.72 C139.36,185.41 139.76,185.09 140.16,184.78 C140.57,184.47 140.97,184.16 141.38,183.85 C141.79,183.54 142.19,183.23 142.6,182.92 C143.01,182.61 143.42,182.31 143.83,182 C144.23,181.69 144.64,181.39 145.05,181.09 C145.47,180.78 145.88,180.48 146.29,180.18 C146.7,179.88 147.11,179.58 147.53,179.29 C147.94,178.99 148.36,178.69 148.77,178.4 C149.19,178.11 149.6,177.81 150.02,177.52 C150.44,177.23 150.86,176.94 151.28,176.65 C151.7,176.37 152.12,176.08 152.54,175.8 C152.96,175.51 153.38,175.23 153.8,174.95 C154.23,174.67 154.65,174.39 155.07,174.11 C155.5,173.84 155.93,173.56 156.35,173.29 C156.78,173.02 157.21,172.75 157.64,172.48 C158.07,172.21 158.5,171.94 158.93,171.68 C159.36,171.41 159.79,171.15 160.22,170.89 C160.66,170.63 161.09,170.37 161.53,170.11 C161.96,169.86 162.4,169.61 162.84,169.35 C163.28,169.1 163.71,168.85 164.16,168.61 C164.6,168.36 165.04,168.12 165.48,167.87 C165.92,167.63 166.37,167.39 166.81,167.16 C167.26,166.92 167.7,166.68 168.15,166.45 C168.6,166.22 169.05,165.99 169.5,165.77 C169.95,165.54 170.4,165.32 170.85,165.09 C171.3,164.87 171.76,164.65 172.21,164.44 C172.67,164.22 173.13,164.01 173.59,163.8 C174.04,163.59 174.5,163.38 174.96,163.18 C175.42,162.98 175.89,162.77 176.35,162.58 C176.81,162.38 177.28,162.18 177.75,161.99 C178.21,161.8 178.68,161.61 179.15,161.42 C179.62,161.24 180.09,161.06 180.56,160.88 C181.04,160.7 181.51,160.52 181.99,160.35 C182.46,160.17 182.94,160 183.42,159.84 C183.9,159.67 184.38,159.51 184.86,159.35 C185.34,159.19 185.82,159.03 186.31,158.88 C186.79,158.73 187.28,158.58 187.77,158.43 C188.26,158.29 188.75,158.14 189.24,158.01 C189.73,157.87 190.22,157.73 190.72,157.6 C191.21,157.47 191.71,157.34 192.21,157.22 C192.71,157.1 193.21,156.98 193.71,156.86 C194.21,156.74 194.71,156.63 195.22,156.52 C195.72,156.41 196.23,156.31 196.74,156.21 C197.25,156.11 197.76,156.01 198.27,155.92 C198.78,155.83 199.3,155.74 199.81,155.65 C200.33,155.57 200.85,155.49 201.37,155.41 C201.88,155.34 202.41,155.26 202.93,155.2 C203.45,155.13 204.24,155.04 204.51,155.01" fill="none" stroke="#000" stroke-width="1.6" stroke-linejoin="round" stroke-linecap="round"/><g fill="#000" fill-opacity="0.32"><circle cx="54.52" cy="224.68" r="2.75"/><circle cx="61.62" cy="224.68" r="2.75"/><circle cx="64.61" cy="224.64" r="2.75"/><circle cx="65.47" cy="224.62" r="2.75"/><circle cx="66.32" cy="224.58" r="2.75"/><circle cx="67.18" cy="224.55" r="2.75"/><circle cx="68.03" cy="224.51" r="2.75"/><circle cx="68.89" cy="224.47" r="2.75"/><circle cx="69.74" cy="224.43" r="2.75"/><circle cx="70.6" cy="224.38" r="2.75"/><circle cx="71.45" cy="224.34" r="2.75"/><circle cx="72.31" cy="224.27" r="2.75"/><circle cx="73.16" cy="224.19" r="2.75"/><circle cx="74.02" cy="224.11" r="2.75"/><circle cx="74.87" cy="224.03" r="2.75"/><circle cx="75.73" cy="223.86" r="2.75"/><circle cx="76.58" cy="223.6" r="2.75"/><circle cx="77.44" cy="223.35" r="2.75"/><circle cx="78.29" cy="223.11" r="2.75"/><circle cx="79.15" cy="222.87" r="2.75"/><circle cx="80" cy="222.63" r="2.75"/><circle cx="80.86" cy="222.39" r="2.75"/><circle cx="81.71" cy="222.16" r="2.75"/><circle cx="82.57" cy="221.87" r="2.75"/><circle cx="83.42" cy="221.59" r="2.75"/><circle cx="84.28" cy="221.3" r="2.75"/><circle cx="85.13" cy="221" r="2.75"/><circle cx="85.99" cy="220.67" r="2.75"/><circle cx="86.84" cy="220.35" r="2.75"/><circle cx="87.7" cy="220.02" r="2.75"/><circle cx="88.55" cy="219.7" r="2.75"/></g>
</g>
<rect x="47" y="128.28" width="175.5" height="100.4" fill="none" stroke="#333333" stroke-width="1.0"/>
<g clip-path="url(#cp11)">
<line x1="229.7" x2="405.2" y1="213.2" y2="213.2" stroke="#EBEBEB" stroke-width="0.7"/>
<line x1="229.7" x2="405.2" y1="190.25" y2="190.25" stroke="#EBEBEB" stroke-width="0.7"/>
<line x1="229.7" x2="405.2" y1="167.3" y2="167.3" stroke="#EBEBEB" stroke-width="0.7"/>
<line x1="229.7" x2="405.2" y1="144.35" y2="144.35" stroke="#EBEBEB" stroke-width="0.7"/>
<line x1="296.9" x2="296.9" y1="128.28" y2="228.68" stroke="#EBEBEB" stroke-width="0.7"/>
<line x1="374.71" x2="374.71" y1="128.28" y2="228.68" stroke="#EBEBEB" stroke-width="0.7"/>
<line x1="229.7" x2="405.2" y1="224.68" y2="224.68" stroke="#EBEBEB" stroke-width="1.4"/>
<line x1="229.7" x2="405.2" y1="201.73" y2="201.73" stroke="#EBEBEB" stroke-width="1.4"/>
<line x1="229.7" x2="405.2" y1="178.78" y2="178.78" stroke="#EBEBEB" stroke-width="1.4"/>
<line x1="229.7" x2="405.2" y1="155.82" y2="155.82" stroke="#EBEBEB" stroke-width="1.4"/>
<line x1="229.7" x2="405.2" y1="132.87" y2="132.87" stroke="#EBEBEB" stroke-width="1.4"/>
<line x1="258" x2="258" y1="128.28" y2="228.68" stroke="#EBEBEB" stroke-width="1.4"/>
<line x1="335.81" x2="335.81" y1="128.28" y2="228.68" stroke="#EBEBEB" stroke-width="1.4"/>
<path d="M281,218 L281.71,217.88 L282.41,217.72 L283.12,217.52 L283.83,217.29 L284.54,217.02 L285.24,216.68 L285.95,216.3 L286.66,215.87 L287.37,215.4 L288.07,214.89 L288.78,214.36 L289.49,213.81 L290.2,213.24 L290.9,212.61 L291.61,211.92 L292.32,211.17 L293.02,210.38 L293.73,209.54 L294.44,208.67 L295.15,207.78 L295.85,206.87 L296.56,205.95 L297.27,205.04 L297.98,204.13 L298.68,203.21 L299.39,202.26 L300.1,201.28 L300.8,200.27 L301.51,199.25 L302.22,198.23 L302.93,197.2 L303.63,196.18 L304.34,195.18 L305.05,194.2 L305.76,193.25 L306.46,192.33 L307.17,191.43 L307.88,190.55 L308.59,189.67 L309.29,188.81 L310,187.95 L310.71,187.11 L311.41,186.28 L312.12,185.46 L312.83,184.64 L313.54,183.84 L314.24,183.04 L314.95,182.24 L315.66,181.45 L316.37,180.67 L317.07,179.9 L317.78,179.14 L318.49,178.39 L319.2,177.67 L319.9,176.97 L320.61,176.3 L321.32,175.65 L322.02,175.01 L322.73,174.39 L323.44,173.79 L324.15,173.2 L324.85,172.62 L325.56,172.06 L326.27,171.52 L326.98,171 L327.68,170.49 L328.39,169.99 L329.1,169.5 L329.8,169.03 L330.51,168.57 L331.22,168.12 L331.93,167.68 L332.63,167.26 L333.34,166.84 L334.05,166.44 L334.76,166.06 L335.46,165.68 L336.17,165.31 L336.88,164.95 L337.59,164.6 L338.29,164.24 L339,163.89 L339.71,163.53 L340.41,163.16 L341.12,162.79 L341.83,162.42 L342.54,162.03 L343.24,161.64 L343.95,161.25 L344.66,160.86 L345.37,160.47 L346.07,160.09 L346.78,159.72 L347.49,159.36 L348.2,159.01 L348.9,158.66 L349.61,158.32 L350.32,157.99 L351.02,157.66 L351.73,157.34 L352.44,157.03 L353.15,156.72 L353.85,156.42 L354.56,156.13 L355.27,155.84 L355.98,155.55 L356.68,155.27 L357.39,155 L358.1,154.73 L358.8,154.48 L359.51,154.23 L360.22,153.99 L360.93,153.77 L361.63,153.55 L362.34,153.33 L363.05,153.13 L363.76,152.93 L364.46,152.73 L365.17,152.54 L365.88,152.36 L366.59,152.18 L367.29,152.01 L368,151.84 L368.71,151.68 L369.41,151.52 L370.12,151.36 L370.83,151.21 L371.54,151.06 L372.24,150.91 L372.95,150.77 L373.66,150.63 L374.37,150.48 L375.07,150.34 L375.78,150.21 L376.49,150.07 L377.2,149.94 L377.9,149.81 L378.61,149.69 L379.32,149.56 L380.02,149.44 L380.73,149.32 L381.44,149.21 L382.15,149.09 L382.85,148.98 L383.56,148.87 L384.27,148.76 L384.98,148.66 L385.68,148.56 L386.39,148.46 L387.1,148.37 L387.8,148.28 L388.51,148.19 L389.22,148.1 L389.93,148.01 L390.63,147.93 L391.34,147.84 L392.05,147.76 L392.76,147.68 L393.46,147.59 L394.17,147.51 L394.88,147.43 L395.59,147.35 L396.29,147.28 L397,147.2 L397,207.4 L396.29,207.4 L395.59,207.4 L394.88,207.4 L394.17,207.4 L393.46,207.4 L392.76,207.4 L392.05,207.4 L391.34,207.4 L390.63,207.4 L389.93,207.4 L389.22,207.4 L388.51,207.4 L387.8,207.4 L387.1,207.4 L386.39,207.4 L385.68,207.4 L384.98,207.4 L384.27,207.4 L383.56,207.4 L382.85,207.4 L382.15,207.4 L381.44,207.4 L380.73,207.4 L380.02,207.4 L379.32,207.4 L378.61,207.4 L377.9,207.4 L377.2,207.4 L376.49,207.4 L375.78,207.4 L375.07,207.4 L374.37,207.4 L373.66,207.4 L372.95,207.4 L372.24,207.4 L371.54,207.4 L370.83,207.4 L370.12,207.4 L369.41,207.4 L368.71,207.4 L368,207.4 L367.29,207.4 L366.59,207.4 L365.88,207.4 L365.17,207.4 L364.46,207.4 L363.76,207.4 L363.05,207.4 L362.34,207.4 L361.63,207.4 L360.93,207.4 L360.22,207.4 L359.51,207.4 L358.8,207.4 L358.1,207.4 L357.39,207.4 L356.68,207.4 L355.98,207.4 L355.27,207.4 L354.56,207.4 L353.85,207.4 L353.15,207.4 L352.44,207.4 L351.73,207.4 L351.02,207.4 L350.32,207.4 L349.61,207.4 L348.9,207.4 L348.2,207.4 L347.49,207.4 L346.78,207.4 L346.07,207.4 L345.37,207.4 L344.66,207.4 L343.95,207.4 L343.24,207.4 L342.54,207.4 L341.83,207.4 L341.12,207.4 L340.41,207.4 L339.71,207.4 L339,207.4 L338.29,207.4 L337.59,207.41 L336.88,207.41 L336.17,207.42 L335.46,207.42 L334.76,207.43 L334.05,207.44 L333.34,207.45 L332.63,207.46 L331.93,207.47 L331.22,207.48 L330.51,207.49 L329.8,207.51 L329.1,207.52 L328.39,207.54 L327.68,207.55 L326.98,207.57 L326.27,207.59 L325.56,207.61 L324.85,207.63 L324.15,207.65 L323.44,207.67 L322.73,207.69 L322.02,207.71 L321.32,207.73 L320.61,207.76 L319.9,207.78 L319.2,207.81 L318.49,207.83 L317.78,207.86 L317.07,207.88 L316.37,207.91 L315.66,207.94 L314.95,207.97 L314.24,207.99 L313.54,208.02 L312.83,208.06 L312.12,208.1 L311.41,208.15 L310.71,208.2 L310,208.26 L309.29,208.32 L308.59,208.39 L307.88,208.46 L307.17,208.53 L306.46,208.62 L305.76,208.7 L305.05,208.79 L304.34,208.88 L303.63,208.98 L302.93,209.08 L302.22,209.19 L301.51,209.3 L300.8,209.42 L300.1,209.57 L299.39,209.74 L298.68,209.92 L297.98,210.12 L297.27,210.34 L296.56,210.56 L295.85,210.79 L295.15,211.02 L294.44,211.26 L293.73,211.51 L293.02,211.78 L292.32,212.06 L291.61,212.36 L290.9,212.68 L290.2,213.01 L289.49,213.35 L288.78,213.72 L288.07,214.13 L287.37,214.59 L286.66,215.07 L285.95,215.57 L285.24,216.05 L284.54,216.51 L283.83,216.95 L283.12,217.37 L282.41,217.79 L281.71,218.2 L281,218.6 Z" fill="#7F7F7F" fill-opacity="0.3"/><path d="M281.94,216.49 C282.23,216.38 283.08,216.06 283.65,215.87 C284.22,215.68 284.79,215.51 285.36,215.34 C285.93,215.17 286.5,215.01 287.07,214.84 C287.64,214.68 288.21,214.49 288.78,214.35 C289.35,214.21 289.92,214.11 290.49,213.98 C291.06,213.86 291.63,213.73 292.2,213.62 C292.77,213.51 293.34,213.41 293.91,213.32 C294.48,213.23 295.05,213.17 295.62,213.09 C296.19,213.01 296.76,212.93 297.33,212.86 C297.9,212.78 298.47,212.71 299.04,212.64 C299.61,212.57 300.18,212.5 300.75,212.43 C301.32,212.36 301.89,212.29 302.46,212.22 C303.03,212.15 303.6,212.08 304.17,212.01 C304.74,211.94 305.31,211.89 305.88,211.83 C306.45,211.77 307.02,211.7 307.59,211.64 C308.16,211.58 308.73,211.52 309.3,211.46 C309.87,211.4 310.44,211.35 311.01,211.3 C311.58,211.25 312.15,211.21 312.72,211.17 C313.29,211.12 313.86,211.08 314.43,211.03 C315,210.99 315.57,210.94 316.14,210.9 C316.71,210.86 317.28,210.81 317.85,210.77 C318.42,210.72 318.99,210.67 319.56,210.63 C320.13,210.59 320.7,210.56 321.27,210.52 C321.84,210.48 322.41,210.45 322.98,210.41 C323.55,210.37 324.12,210.33 324.69,210.3 C325.26,210.26 325.83,210.22 326.4,210.18 C326.97,210.15 327.54,210.12 328.11,210.09 C328.68,210.06 329.25,210.03 329.82,210.01 C330.39,209.98 330.96,209.95 331.53,209.92 C332.1,209.9 332.67,209.87 333.24,209.84 C333.81,209.82 334.38,209.79 334.95,209.76 C335.52,209.73 336.09,209.69 336.66,209.65 C337.23,209.61 337.8,209.57 338.37,209.54 C338.94,209.5 339.51,209.46 340.08,209.42 C340.65,209.39 341.22,209.35 341.79,209.31 C342.36,209.27 343.13,209.22 343.5,209.2 C343.87,209.17 343.93,209.17 344.01,209.16" fill="none" stroke="#5C5C5C" stroke-width="2.1" stroke-linejoin="round" stroke-linecap="round"/><path d="M248.59,224.66 C249.02,224.66 250.31,224.64 251.16,224.62 C252.01,224.6 252.87,224.58 253.72,224.54 C254.58,224.51 255.44,224.49 256.29,224.4 C257.15,224.32 258,224.17 258.86,224.01 C259.71,223.86 260.56,223.68 261.42,223.5 C262.28,223.32 263.13,223.16 263.99,222.94 C264.84,222.73 265.69,222.47 266.55,222.21 C267.41,221.96 268.26,221.7 269.12,221.4 C269.97,221.1 270.82,220.75 271.68,220.42 C272.54,220.08 273.39,219.73 274.25,219.39 C275.1,219.05 275.75,218.51 276.81,218.36 C277.87,218.21 279.76,218.62 280.6,218.5 C281.44,218.39 281.45,217.94 281.87,217.66 C282.29,217.38 282.71,217.09 283.13,216.81 C283.55,216.52 283.98,216.24 284.4,215.95 C284.82,215.66 285.24,215.38 285.67,215.09 C286.09,214.8 286.51,214.52 286.94,214.23 C287.36,213.94 287.78,213.66 288.21,213.37 C288.63,213.08 289.06,212.8 289.48,212.51 C289.91,212.23 290.34,211.94 290.76,211.66 C291.19,211.38 291.62,211.1 292.05,210.82 C292.48,210.54 292.91,210.26 293.34,209.98 C293.77,209.7 294.2,209.43 294.63,209.15 C295.07,208.88 295.5,208.61 295.94,208.34 C296.37,208.07 296.81,207.8 297.24,207.54 C297.68,207.27 298.12,207.01 298.56,206.75 C299,206.5 299.44,206.24 299.88,205.99 C300.33,205.74 300.77,205.49 301.21,205.24 C301.66,205 302.11,204.75 302.56,204.52 C303.01,204.28 303.46,204.05 303.91,203.82 C304.36,203.59 304.81,203.36 305.27,203.14 C305.72,202.92 306.18,202.7 306.64,202.49 C307.1,202.28 307.56,202.08 308.02,201.87 C308.49,201.67 308.95,201.47 309.42,201.28 C309.89,201.09 310.35,200.9 310.82,200.72 C311.29,200.53 311.77,200.36 312.24,200.18 C312.71,200.01 313.19,199.84 313.66,199.67 C314.14,199.5 314.62,199.34 315.09,199.19 C315.57,199.03 316.05,198.88 316.54,198.73 C317.02,198.58 317.5,198.43 317.98,198.29 C318.47,198.15 318.95,198.02 319.44,197.88 C319.93,197.75 320.42,197.62 320.91,197.5 C321.39,197.37 321.88,197.25 322.38,197.14 C322.87,197.02 323.36,196.91 323.85,196.8 C324.35,196.69 324.84,196.58 325.34,196.48 C325.83,196.38 326.33,196.28 326.82,196.18 C327.32,196.09 327.82,196 328.32,195.91 C328.81,195.82 329.31,195.74 329.81,195.66 C330.31,195.58 330.81,195.5 331.31,195.42 C331.81,195.35 332.32,195.28 332.82,195.21 C333.32,195.14 333.82,195.08 334.33,195.01 C334.83,194.95 335.33,194.89 335.84,194.84 C336.34,194.78 336.85,194.73 337.35,194.68 C337.86,194.63 338.36,194.58 338.87,194.53 C339.38,194.49 339.88,194.45 340.39,194.41 C340.9,194.37 341.4,194.33 341.91,194.29 C342.42,194.26 342.93,194.22 343.44,194.19 C343.95,194.16 344.46,194.13 344.97,194.11 C345.48,194.08 345.99,194.06 346.5,194.04 C347.01,194.01 347.52,193.99 348.03,193.97 C348.54,193.96 349.05,193.94 349.56,193.92 C350.07,193.91 350.58,193.9 351.1,193.88 C351.61,193.87 352.12,193.86 352.63,193.85 C353.14,193.85 353.66,193.84 354.17,193.83 C354.68,193.83 355.2,193.82 355.71,193.82 C356.22,193.82 356.74,193.81 357.25,193.81 C357.76,193.81 358.28,193.81 358.79,193.81 C359.3,193.82 359.82,193.82 360.33,193.82 C360.84,193.82 361.36,193.83 361.87,193.83 C362.38,193.84 362.9,193.84 363.41,193.85 C363.93,193.85 364.44,193.86 364.95,193.87 C365.47,193.87 365.98,193.88 366.49,193.89 C367.01,193.89 367.52,193.9 368.03,193.91 C368.55,193.92 369.06,193.93 369.57,193.93 C370.09,193.94 370.6,193.95 371.11,193.96 C371.63,193.97 372.14,193.98 372.65,193.98 C373.17,193.99 373.68,194 374.19,194.01 C374.7,194.01 375.21,194.02 375.73,194.03 C376.24,194.03 376.75,194.04 377.26,194.05 C377.77,194.05 378.28,194.06 378.79,194.06 C379.3,194.07 379.81,194.07 380.32,194.07 C380.83,194.08 381.34,194.08 381.85,194.08 C382.36,194.08 382.87,194.08 383.38,194.08 C383.89,194.08 384.4,194.08 384.91,194.07 C385.41,194.07 385.92,194.07 386.43,194.06 C386.94,194.05 387.44,194.05 387.95,194.04 C388.45,194.03 388.96,194.02 389.46,194.01 C389.97,194 390.47,193.98 390.98,193.97 C391.48,193.95 391.99,193.94 392.49,193.92 C392.99,193.9 393.49,193.88 394,193.86 C394.5,193.83 395,193.81 395.5,193.78 C396,193.76 396.75,193.71 397,193.7" fill="none" stroke="#000" stroke-width="1.6" stroke-linejoin="round" stroke-linecap="round"/><g fill="#000" fill-opacity="0.32"><circle cx="247.74" cy="224.68" r="2.75"/><circle cx="248.59" cy="224.66" r="2.75"/><circle cx="249.45" cy="224.65" r="2.75"/><circle cx="250.31" cy="224.63" r="2.75"/><circle cx="251.16" cy="224.62" r="2.75"/><circle cx="252.01" cy="224.6" r="2.75"/><circle cx="252.87" cy="224.59" r="2.75"/><circle cx="253.72" cy="224.54" r="2.75"/><circle cx="254.58" cy="224.5" r="2.75"/><circle cx="255.44" cy="224.45" r="2.75"/><circle cx="256.29" cy="224.4" r="2.75"/><circle cx="257.14" cy="224.36" r="2.75"/><circle cx="258" cy="224.19" r="2.75"/><circle cx="258.86" cy="224.01" r="2.75"/><circle cx="259.71" cy="223.84" r="2.75"/><circle cx="260.56" cy="223.67" r="2.75"/><circle cx="261.42" cy="223.5" r="2.75"/><circle cx="262.27" cy="223.32" r="2.75"/><circle cx="263.13" cy="223.13" r="2.75"/><circle cx="263.99" cy="222.94" r="2.75"/><circle cx="264.84" cy="222.75" r="2.75"/><circle cx="265.69" cy="222.48" r="2.75"/><circle cx="266.55" cy="222.21" r="2.75"/><circle cx="267.4" cy="221.94" r="2.75"/><circle cx="268.26" cy="221.67" r="2.75"/><circle cx="269.12" cy="221.4" r="2.75"/><circle cx="269.97" cy="221.08" r="2.75"/><circle cx="270.82" cy="220.75" r="2.75"/><circle cx="271.68" cy="220.42" r="2.75"/><circle cx="272.54" cy="220.09" r="2.75"/><circle cx="273.39" cy="219.74" r="2.75"/><circle cx="274.25" cy="219.39" r="2.75"/><circle cx="275.1" cy="219.04" r="2.75"/><circle cx="275.95" cy="218.69" r="2.75"/><circle cx="276.81" cy="218.36" r="2.75"/><circle cx="277.67" cy="218.04" r="2.75"/><circle cx="278.52" cy="217.73" r="2.75"/><circle cx="279.38" cy="217.42" r="2.75"/><circle cx="280.23" cy="217.11" r="2.75"/><circle cx="281.08" cy="216.8" r="2.75"/><circle cx="281.94" cy="216.49" r="2.75"/></g>
</g>
<rect x="229.7" y="128.28" width="175.5" height="100.4" fill="none" stroke="#333333" stroke-width="1.0"/>
<g clip-path="url(#cp12)">
<line x1="412.4" x2="587.9" y1="213.2" y2="213.2" stroke="#EBEBEB" stroke-width="0.7"/>
<line x1="412.4" x2="587.9" y1="190.25" y2="190.25" stroke="#EBEBEB" stroke-width="0.7"/>
<line x1="412.4" x2="587.9" y1="167.3" y2="167.3" stroke="#EBEBEB" stroke-width="0.7"/>
<line x1="412.4" x2="587.9" y1="144.35" y2="144.35" stroke="#EBEBEB" stroke-width="0.7"/>
<line x1="479.6" x2="479.6" y1="128.28" y2="228.68" stroke="#EBEBEB" stroke-width="0.7"/>
<line x1="557.41" x2="557.41" y1="128.28" y2="228.68" stroke="#EBEBEB" stroke-width="0.7"/>
<line x1="412.4" x2="587.9" y1="224.68" y2="224.68" stroke="#EBEBEB" stroke-width="1.4"/>
<line x1="412.4" x2="587.9" y1="201.73" y2="201.73" stroke="#EBEBEB" stroke-width="1.4"/>
<line x1="412.4" x2="587.9" y1="178.78" y2="178.78" stroke="#EBEBEB" stroke-width="1.4"/>
<line x1="412.4" x2="587.9" y1="155.82" y2="155.82" stroke="#EBEBEB" stroke-width="1.4"/>
<line x1="412.4" x2="587.9" y1="132.87" y2="132.87" stroke="#EBEBEB" stroke-width="1.4"/>
<line x1="440.7" x2="440.7" y1="128.28" y2="228.68" stroke="#EBEBEB" stroke-width="1.4"/>
<line x1="518.5" x2="518.5" y1="128.28" y2="228.68" stroke="#EBEBEB" stroke-width="1.4"/>
<path d="M454,222.5 L454.71,222.3 L455.41,222.1 L456.12,221.89 L456.83,221.68 L457.53,221.47 L458.24,221.26 L458.95,221.05 L459.65,220.83 L460.36,220.61 L461.07,220.39 L461.77,220.16 L462.48,219.94 L463.19,219.71 L463.89,219.49 L464.6,219.27 L465.31,219.05 L466.01,218.82 L466.72,218.6 L467.43,218.38 L468.13,218.15 L468.84,217.92 L469.55,217.69 L470.25,217.44 L470.96,217.19 L471.67,216.94 L472.37,216.67 L473.08,216.4 L473.79,216.11 L474.49,215.81 L475.2,215.5 L475.91,215.16 L476.61,214.79 L477.32,214.39 L478.03,213.96 L478.73,213.52 L479.44,213.08 L480.15,212.63 L480.85,212.19 L481.56,211.76 L482.27,211.34 L482.98,210.93 L483.68,210.51 L484.39,210.1 L485.1,209.68 L485.8,209.25 L486.51,208.82 L487.22,208.37 L487.92,207.92 L488.63,207.45 L489.34,206.97 L490.04,206.48 L490.75,205.98 L491.46,205.47 L492.16,204.97 L492.87,204.46 L493.58,203.96 L494.28,203.47 L494.99,202.99 L495.7,202.5 L496.4,202.01 L497.11,201.52 L497.82,201.04 L498.52,200.56 L499.23,200.08 L499.94,199.61 L500.64,199.14 L501.35,198.68 L502.06,198.23 L502.76,197.79 L503.47,197.35 L504.18,196.9 L504.88,196.46 L505.59,196.01 L506.3,195.56 L507,195.1 L507.71,194.65 L508.42,194.19 L509.12,193.72 L509.83,193.22 L510.54,192.7 L511.24,192.15 L511.95,191.58 L512.66,190.99 L513.36,190.39 L514.07,189.78 L514.78,189.18 L515.48,188.58 L516.19,187.99 L516.9,187.41 L517.6,186.84 L518.31,186.27 L519.02,185.69 L519.72,185.12 L520.43,184.55 L521.14,183.98 L521.84,183.41 L522.55,182.84 L523.26,182.27 L523.96,181.69 L524.67,181.12 L525.38,180.55 L526.08,179.97 L526.79,179.4 L527.5,178.83 L528.2,178.26 L528.91,177.69 L529.62,177.13 L530.32,176.56 L531.03,176 L531.74,175.44 L532.44,174.88 L533.15,174.32 L533.86,173.76 L534.56,173.2 L535.27,172.64 L535.98,172.08 L536.68,171.51 L537.39,170.94 L538.1,170.36 L538.8,169.79 L539.51,169.23 L540.22,168.68 L540.92,168.13 L541.63,167.6 L542.34,167.08 L543.05,166.57 L543.75,166.06 L544.46,165.56 L545.17,165.07 L545.87,164.58 L546.58,164.1 L547.29,163.64 L547.99,163.18 L548.7,162.72 L549.41,162.28 L550.11,161.84 L550.82,161.4 L551.53,160.98 L552.23,160.56 L552.94,160.15 L553.65,159.75 L554.35,159.36 L555.06,158.97 L555.77,158.58 L556.47,158.2 L557.18,157.83 L557.89,157.47 L558.59,157.12 L559.3,156.78 L560.01,156.47 L560.71,156.17 L561.42,155.9 L562.13,155.64 L562.83,155.39 L563.54,155.15 L564.25,154.92 L564.95,154.68 L565.66,154.45 L566.37,154.21 L567.07,153.97 L567.78,153.73 L568.49,153.48 L569.19,153.24 L569.9,153 L569.9,206.7 L569.19,206.71 L568.49,206.72 L567.78,206.73 L567.07,206.74 L566.37,206.76 L565.66,206.77 L564.95,206.79 L564.25,206.8 L563.54,206.82 L562.83,206.83 L562.13,206.85 L561.42,206.87 L560.71,206.89 L560.01,206.9 L559.3,206.92 L558.59,206.94 L557.89,206.96 L557.18,206.99 L556.47,207.01 L555.77,207.03 L555.06,207.05 L554.35,207.07 L553.65,207.1 L552.94,207.12 L552.23,207.14 L551.53,207.17 L550.82,207.19 L550.11,207.22 L549.41,207.24 L548.7,207.27 L547.99,207.29 L547.29,207.32 L546.58,207.35 L545.87,207.38 L545.17,207.41 L544.46,207.44 L543.75,207.47 L543.05,207.51 L542.34,207.55 L541.63,207.58 L540.92,207.62 L540.22,207.66 L539.51,207.7 L538.8,207.74 L538.1,207.78 L537.39,207.82 L536.68,207.86 L535.98,207.91 L535.27,207.95 L534.56,207.99 L533.86,208.03 L533.15,208.07 L532.44,208.11 L531.74,208.15 L531.03,208.19 L530.32,208.23 L529.62,208.26 L528.91,208.3 L528.2,208.33 L527.5,208.37 L526.79,208.4 L526.08,208.42 L525.38,208.45 L524.67,208.48 L523.96,208.51 L523.26,208.53 L522.55,208.56 L521.84,208.59 L521.14,208.61 L520.43,208.64 L519.72,208.67 L519.02,208.71 L518.31,208.74 L517.6,208.78 L516.9,208.82 L516.19,208.86 L515.48,208.91 L514.78,208.96 L514.07,209.02 L513.36,209.09 L512.66,209.19 L511.95,209.3 L511.24,209.42 L510.54,209.56 L509.83,209.71 L509.12,209.88 L508.42,210.05 L507.71,210.23 L507,210.42 L506.3,210.61 L505.59,210.8 L504.88,211 L504.18,211.19 L503.47,211.39 L502.76,211.58 L502.06,211.76 L501.35,211.94 L500.64,212.13 L499.94,212.32 L499.23,212.52 L498.52,212.73 L497.82,212.93 L497.11,213.14 L496.4,213.36 L495.7,213.57 L494.99,213.79 L494.28,214 L493.58,214.22 L492.87,214.43 L492.16,214.64 L491.46,214.85 L490.75,215.05 L490.04,215.25 L489.34,215.44 L488.63,215.64 L487.92,215.83 L487.22,216.02 L486.51,216.21 L485.8,216.4 L485.1,216.59 L484.39,216.77 L483.68,216.96 L482.98,217.14 L482.27,217.32 L481.56,217.5 L480.85,217.68 L480.15,217.86 L479.44,218.03 L478.73,218.21 L478.03,218.38 L477.32,218.55 L476.61,218.72 L475.91,218.88 L475.2,219.05 L474.49,219.23 L473.79,219.39 L473.08,219.56 L472.37,219.73 L471.67,219.89 L470.96,220.05 L470.25,220.2 L469.55,220.35 L468.84,220.49 L468.13,220.62 L467.43,220.75 L466.72,220.86 L466.01,220.97 L465.31,221.06 L464.6,221.16 L463.89,221.24 L463.19,221.32 L462.48,221.4 L461.77,221.48 L461.07,221.57 L460.36,221.65 L459.65,221.74 L458.95,221.83 L458.24,221.93 L457.53,222.04 L456.83,222.17 L456.12,222.31 L455.41,222.46 L454.71,222.63 L454,222.8 Z" fill="#7F7F7F" fill-opacity="0.3"/><path d="M454.29,223.37 C454.58,223.35 455.43,223.29 456,223.25 C456.57,223.21 457.14,223.17 457.71,223.13 C458.28,223.08 458.85,223.03 459.42,222.99 C459.99,222.94 460.56,222.9 461.13,222.85 C461.7,222.8 462.27,222.76 462.84,222.71 C463.41,222.67 463.98,222.63 464.55,222.58 C465.12,222.52 465.69,222.44 466.26,222.37 C466.83,222.3 467.4,222.23 467.97,222.17 C468.54,222.1 469.11,222.03 469.68,221.96 C470.25,221.89 470.82,221.83 471.39,221.75 C471.96,221.68 472.53,221.59 473.1,221.5 C473.67,221.42 474.24,221.34 474.81,221.25 C475.38,221.16 475.95,221.08 476.52,220.99 C477.09,220.9 477.66,220.82 478.23,220.73 C478.8,220.64 479.37,220.57 479.94,220.47 C480.51,220.37 481.08,220.23 481.65,220.11 C482.22,219.99 482.79,219.87 483.36,219.74 C483.93,219.61 484.5,219.46 485.07,219.3 C485.64,219.14 486.21,218.95 486.78,218.78 C487.35,218.6 487.92,218.42 488.49,218.24 C489.06,218.07 489.63,217.88 490.2,217.71 C490.77,217.53 491.34,217.36 491.91,217.19 C492.48,217.02 493.05,216.85 493.62,216.69 C494.19,216.54 494.76,216.39 495.33,216.25 C495.9,216.12 496.47,216.02 497.04,215.88 C497.61,215.75 498.18,215.61 498.75,215.45 C499.32,215.29 499.89,215.11 500.46,214.93 C501.03,214.75 501.6,214.6 502.17,214.37 C502.74,214.13 503.31,213.8 503.88,213.54 C504.45,213.29 505.02,213.06 505.59,212.83 C506.16,212.6 506.73,212.38 507.3,212.16 C507.87,211.94 508.44,211.71 509.01,211.49 C509.58,211.27 510.15,211.06 510.72,210.85 C511.29,210.63 511.86,210.42 512.43,210.21 C513,209.99 513.57,209.73 514.14,209.56 C514.71,209.39 515.28,209.31 515.85,209.18 C516.42,209.06 516.99,208.94 517.56,208.81 C518.13,208.69 518.7,208.56 519.27,208.43 C519.84,208.31 520.41,208.2 520.98,208.06 C521.55,207.92 522.12,207.76 522.69,207.6 C523.26,207.44 523.83,207.26 524.4,207.09 C524.97,206.92 525.73,206.7 526.11,206.59 C526.5,206.47 526.61,206.44 526.71,206.41" fill="none" stroke="#5C5C5C" stroke-width="2.1" stroke-linejoin="round" stroke-linecap="round"/><path d="M420.09,224.68 C420.52,224.67 421.8,224.66 422.66,224.65 C423.51,224.63 424.37,224.62 425.22,224.61 C426.08,224.6 426.93,224.59 427.79,224.57 C428.64,224.56 429.5,224.55 430.35,224.53 C431.21,224.51 432.06,224.5 432.92,224.47 C433.77,224.45 434.63,224.42 435.48,224.39 C436.34,224.37 437.19,224.35 438.05,224.32 C438.9,224.28 439.76,224.24 440.61,224.2 C441.47,224.16 442.32,224.12 443.18,224.08 C444.03,224.03 444.89,223.99 445.74,223.94 C446.6,223.89 447.45,223.83 448.31,223.78 C449.16,223.72 450.03,223.77 450.87,223.61 C451.72,223.45 452.74,223.01 453.4,222.81 C454.07,222.61 454.39,222.56 454.88,222.43 C455.37,222.3 455.86,222.16 456.35,222.03 C456.84,221.9 457.33,221.76 457.82,221.62 C458.31,221.48 458.8,221.34 459.28,221.19 C459.77,221.05 460.26,220.9 460.74,220.75 C461.23,220.61 461.72,220.46 462.2,220.3 C462.69,220.15 463.17,220 463.66,219.84 C464.14,219.69 464.62,219.53 465.11,219.37 C465.59,219.21 466.07,219.05 466.56,218.89 C467.04,218.72 467.52,218.56 468,218.39 C468.48,218.23 468.96,218.06 469.44,217.89 C469.93,217.72 470.41,217.55 470.89,217.38 C471.37,217.21 471.85,217.04 472.33,216.87 C472.81,216.69 473.28,216.52 473.76,216.34 C474.24,216.17 474.72,215.99 475.2,215.81 C475.68,215.63 476.16,215.45 476.63,215.27 C477.11,215.09 477.59,214.91 478.07,214.73 C478.55,214.55 479.02,214.37 479.5,214.19 C479.98,214 480.45,213.82 480.93,213.64 C481.41,213.45 481.89,213.27 482.36,213.08 C482.84,212.9 483.32,212.71 483.79,212.53 C484.27,212.34 484.75,212.15 485.22,211.97 C485.7,211.78 486.18,211.59 486.65,211.41 C487.13,211.22 487.6,211.04 488.08,210.85 C488.56,210.66 489.03,210.47 489.51,210.29 C489.99,210.1 490.46,209.92 490.94,209.73 C491.42,209.54 491.89,209.36 492.37,209.17 C492.85,208.99 493.33,208.8 493.8,208.61 C494.28,208.43 494.76,208.25 495.24,208.06 C495.71,207.88 496.19,207.69 496.67,207.51 C497.15,207.33 497.63,207.15 498.1,206.96 C498.58,206.78 499.06,206.6 499.54,206.42 C500.02,206.24 500.5,206.06 500.98,205.88 C501.46,205.71 501.94,205.53 502.42,205.35 C502.9,205.18 503.38,205 503.86,204.83 C504.34,204.65 504.82,204.48 505.3,204.31 C505.79,204.14 506.27,203.97 506.75,203.8 C507.23,203.63 507.72,203.46 508.2,203.3 C508.68,203.13 509.17,202.97 509.65,202.8 C510.13,202.64 510.62,202.48 511.11,202.32 C511.59,202.16 512.08,202 512.56,201.85 C513.05,201.69 513.54,201.54 514.02,201.38 C514.51,201.23 515,201.08 515.49,200.93 C515.98,200.78 516.47,200.64 516.96,200.49 C517.44,200.35 517.93,200.2 518.43,200.06 C518.92,199.92 519.41,199.78 519.9,199.64 C520.39,199.5 520.88,199.37 521.37,199.23 C521.87,199.1 522.36,198.97 522.85,198.84 C523.35,198.7 523.84,198.58 524.34,198.45 C524.83,198.32 525.33,198.2 525.82,198.07 C526.32,197.95 526.81,197.83 527.31,197.71 C527.81,197.59 528.3,197.48 528.8,197.36 C529.3,197.24 529.79,197.13 530.29,197.02 C530.79,196.91 531.29,196.8 531.79,196.69 C532.29,196.58 532.79,196.48 533.29,196.37 C533.79,196.27 534.29,196.17 534.79,196.07 C535.29,195.97 535.79,195.87 536.29,195.78 C536.79,195.68 537.29,195.59 537.8,195.49 C538.3,195.4 538.8,195.31 539.31,195.23 C539.81,195.14 540.31,195.05 540.82,194.97 C541.32,194.89 541.82,194.8 542.33,194.72 C542.83,194.64 543.34,194.57 543.84,194.49 C544.35,194.42 544.86,194.34 545.36,194.27 C545.87,194.2 546.37,194.13 546.88,194.06 C547.39,194 547.9,193.93 548.4,193.87 C548.91,193.81 549.42,193.75 549.93,193.69 C550.43,193.63 550.94,193.57 551.45,193.52 C551.96,193.46 552.47,193.41 552.98,193.36 C553.49,193.31 554,193.26 554.51,193.22 C555.02,193.17 555.53,193.13 556.04,193.09 C556.55,193.04 557.06,193 557.57,192.97 C558.09,192.93 558.6,192.9 559.11,192.86 C559.62,192.83 560.13,192.8 560.65,192.77 C561.16,192.74 561.67,192.72 562.19,192.69 C562.7,192.67 563.21,192.65 563.73,192.63 C564.24,192.61 564.75,192.59 565.27,192.58 C565.78,192.56 566.3,192.55 566.81,192.54 C567.33,192.53 567.84,192.52 568.36,192.51 C568.87,192.51 569.64,192.51 569.9,192.5" fill="none" stroke="#000" stroke-width="1.6" stroke-linejoin="round" stroke-linecap="round"/><g fill="#000" fill-opacity="0.32"><circle cx="420.09" cy="224.68" r="2.75"/><circle cx="427.02" cy="224.59" r="2.75"/><circle cx="430.01" cy="224.53" r="2.75"/><circle cx="430.87" cy="224.52" r="2.75"/><circle cx="431.72" cy="224.5" r="2.75"/><circle cx="432.58" cy="224.48" r="2.75"/><circle cx="433.43" cy="224.46" r="2.75"/><circle cx="434.29" cy="224.43" r="2.75"/><circle cx="435.14" cy="224.4" r="2.75"/><circle cx="436" cy="224.38" r="2.75"/><circle cx="436.85" cy="224.35" r="2.75"/><circle cx="437.71" cy="224.33" r="2.75"/><circle cx="438.56" cy="224.29" r="2.75"/><circle cx="439.42" cy="224.25" r="2.75"/><circle cx="440.27" cy="224.21" r="2.75"/><circle cx="441.13" cy="224.17" r="2.75"/><circle cx="441.98" cy="224.13" r="2.75"/><circle cx="442.84" cy="224.09" r="2.75"/><circle cx="443.69" cy="224.05" r="2.75"/><circle cx="444.55" cy="224.01" r="2.75"/><circle cx="445.4" cy="223.96" r="2.75"/><circle cx="446.26" cy="223.91" r="2.75"/><circle cx="447.11" cy="223.85" r="2.75"/><circle cx="447.97" cy="223.8" r="2.75"/><circle cx="448.82" cy="223.74" r="2.75"/><circle cx="449.68" cy="223.69" r="2.75"/><circle cx="450.53" cy="223.63" r="2.75"/><circle cx="451.39" cy="223.58" r="2.75"/><circle cx="452.24" cy="223.52" r="2.75"/><circle cx="453.1" cy="223.46" r="2.75"/><circle cx="453.95" cy="223.39" r="2.75"/></g>
</g>
<rect x="412.4" y="128.28" width="175.5" height="100.4" fill="none" stroke="#333333" stroke-width="1.0"/>
<g clip-path="url(#cp20)">
<line x1="47" x2="222.5" y1="320.58" y2="320.58" stroke="#EBEBEB" stroke-width="0.7"/>
<line x1="47" x2="222.5" y1="297.63" y2="297.63" stroke="#EBEBEB" stroke-width="0.7"/>
<line x1="47" x2="222.5" y1="274.68" y2="274.68" stroke="#EBEBEB" stroke-width="0.7"/>
<line x1="47" x2="222.5" y1="251.73" y2="251.73" stroke="#EBEBEB" stroke-width="0.7"/>
<line x1="114.2" x2="114.2" y1="235.66" y2="336.06" stroke="#EBEBEB" stroke-width="0.7"/>
<line x1="192.01" x2="192.01" y1="235.66" y2="336.06" stroke="#EBEBEB" stroke-width="0.7"/>
<line x1="47" x2="222.5" y1="332.06" y2="332.06" stroke="#EBEBEB" stroke-width="1.4"/>
<line x1="47" x2="222.5" y1="309.11" y2="309.11" stroke="#EBEBEB" stroke-width="1.4"/>
<line x1="47" x2="222.5" y1="286.15" y2="286.15" stroke="#EBEBEB" stroke-width="1.4"/>
<line x1="47" x2="222.5" y1="263.2" y2="263.2" stroke="#EBEBEB" stroke-width="1.4"/>
<line x1="47" x2="222.5" y1="240.25" y2="240.25" stroke="#EBEBEB" stroke-width="1.4"/>
<line x1="75.3" x2="75.3" y1="235.66" y2="336.06" stroke="#EBEBEB" stroke-width="1.4"/>
<line x1="153.1" x2="153.1" y1="235.66" y2="336.06" stroke="#EBEBEB" stroke-width="1.4"/>
<path d="M106,320.5 L106.71,320.17 L107.42,319.81 L108.13,319.42 L108.83,319 L109.54,318.54 L110.25,318.02 L110.96,317.46 L111.67,316.86 L112.38,316.22 L113.09,315.57 L113.79,314.9 L114.5,314.23 L115.21,313.57 L115.92,312.93 L116.63,312.32 L117.34,311.71 L118.05,311.09 L118.76,310.48 L119.46,309.87 L120.17,309.27 L120.88,308.66 L121.59,308.06 L122.3,307.46 L123.01,306.86 L123.72,306.26 L124.42,305.67 L125.13,305.09 L125.84,304.51 L126.55,303.92 L127.26,303.34 L127.97,302.76 L128.68,302.18 L129.38,301.6 L130.09,301.03 L130.8,300.47 L131.51,299.92 L132.22,299.37 L132.93,298.84 L133.64,298.32 L134.35,297.81 L135.05,297.31 L135.76,296.81 L136.47,296.32 L137.18,295.84 L137.89,295.37 L138.6,294.9 L139.31,294.44 L140.01,293.99 L140.72,293.54 L141.43,293.1 L142.14,292.67 L142.85,292.25 L143.56,291.84 L144.27,291.43 L144.97,291.03 L145.68,290.63 L146.39,290.24 L147.1,289.86 L147.81,289.48 L148.52,289.11 L149.23,288.74 L149.94,288.38 L150.64,288.03 L151.35,287.67 L152.06,287.33 L152.77,286.99 L153.48,286.65 L154.19,286.32 L154.9,285.99 L155.6,285.67 L156.31,285.35 L157.02,285.04 L157.73,284.72 L158.44,284.41 L159.15,284.11 L159.86,283.8 L160.56,283.5 L161.27,283.2 L161.98,282.9 L162.69,282.6 L163.4,282.3 L164.11,282.01 L164.82,281.72 L165.53,281.43 L166.23,281.15 L166.94,280.88 L167.65,280.61 L168.36,280.36 L169.07,280.11 L169.78,279.86 L170.49,279.63 L171.19,279.39 L171.9,279.17 L172.61,278.94 L173.32,278.73 L174.03,278.51 L174.74,278.3 L175.45,278.1 L176.15,277.9 L176.86,277.7 L177.57,277.51 L178.28,277.32 L178.99,277.13 L179.7,276.95 L180.41,276.76 L181.12,276.58 L181.82,276.41 L182.53,276.24 L183.24,276.07 L183.95,275.91 L184.66,275.76 L185.37,275.61 L186.08,275.46 L186.78,275.33 L187.49,275.19 L188.2,275.06 L188.91,274.94 L189.62,274.81 L190.33,274.69 L191.04,274.58 L191.74,274.46 L192.45,274.36 L193.16,274.25 L193.87,274.16 L194.58,274.06 L195.29,273.98 L196,273.89 L196.71,273.81 L197.41,273.73 L198.12,273.65 L198.83,273.58 L199.54,273.51 L200.25,273.44 L200.96,273.37 L201.67,273.31 L202.37,273.25 L203.08,273.2 L203.79,273.15 L204.5,273.1 L204.5,312.6 L203.79,312.6 L203.08,312.6 L202.37,312.6 L201.67,312.6 L200.96,312.6 L200.25,312.6 L199.54,312.6 L198.83,312.6 L198.12,312.6 L197.41,312.6 L196.71,312.6 L196,312.6 L195.29,312.6 L194.58,312.6 L193.87,312.6 L193.16,312.6 L192.45,312.6 L191.74,312.6 L191.04,312.6 L190.33,312.6 L189.62,312.6 L188.91,312.6 L188.2,312.6 L187.49,312.6 L186.78,312.6 L186.08,312.6 L185.37,312.6 L184.66,312.6 L183.95,312.6 L183.24,312.6 L182.53,312.6 L181.82,312.6 L181.12,312.6 L180.41,312.6 L179.7,312.6 L178.99,312.6 L178.28,312.6 L177.57,312.6 L176.86,312.6 L176.15,312.6 L175.45,312.6 L174.74,312.6 L174.03,312.6 L173.32,312.6 L172.61,312.6 L171.9,312.6 L171.19,312.6 L170.49,312.6 L169.78,312.6 L169.07,312.6 L168.36,312.6 L167.65,312.6 L166.94,312.6 L166.23,312.6 L165.53,312.6 L164.82,312.6 L164.11,312.6 L163.4,312.6 L162.69,312.6 L161.98,312.6 L161.27,312.6 L160.56,312.6 L159.86,312.6 L159.15,312.6 L158.44,312.61 L157.73,312.62 L157.02,312.64 L156.31,312.65 L155.6,312.67 L154.9,312.7 L154.19,312.73 L153.48,312.75 L152.77,312.79 L152.06,312.82 L151.35,312.86 L150.64,312.89 L149.94,312.93 L149.23,312.97 L148.52,313.02 L147.81,313.06 L147.1,313.1 L146.39,313.15 L145.68,313.2 L144.97,313.24 L144.27,313.29 L143.56,313.34 L142.85,313.38 L142.14,313.43 L141.43,313.48 L140.72,313.54 L140.01,313.61 L139.31,313.67 L138.6,313.74 L137.89,313.82 L137.18,313.9 L136.47,313.98 L135.76,314.06 L135.05,314.15 L134.35,314.23 L133.64,314.32 L132.93,314.41 L132.22,314.51 L131.51,314.61 L130.8,314.72 L130.09,314.83 L129.38,314.94 L128.68,315.06 L127.97,315.18 L127.26,315.3 L126.55,315.42 L125.84,315.55 L125.13,315.68 L124.42,315.8 L123.72,315.94 L123.01,316.07 L122.3,316.21 L121.59,316.36 L120.88,316.5 L120.17,316.65 L119.46,316.8 L118.76,316.96 L118.05,317.11 L117.34,317.27 L116.63,317.43 L115.92,317.58 L115.21,317.74 L114.5,317.88 L113.79,318.03 L113.09,318.18 L112.38,318.34 L111.67,318.51 L110.96,318.69 L110.25,318.89 L109.54,319.12 L108.83,319.38 L108.13,319.7 L107.42,320.07 L106.71,320.48 L106,320.9 Z" fill="#7F7F7F" fill-opacity="0.3"/><path d="M105.82,320.66 C106.11,320.55 106.96,320.23 107.53,320.01 C108.1,319.78 108.67,319.52 109.24,319.31 C109.81,319.1 110.38,318.94 110.95,318.76 C111.52,318.58 112.09,318.42 112.66,318.22 C113.23,318.02 113.8,317.79 114.37,317.57 C114.94,317.35 115.51,317.13 116.08,316.9 C116.65,316.68 117.22,316.46 117.79,316.23 C118.36,316 118.93,315.76 119.5,315.53 C120.07,315.31 120.64,315.08 121.21,314.87 C121.78,314.66 122.35,314.54 122.92,314.28 C123.49,314.02 124.06,313.63 124.63,313.31 C125.2,313 125.77,312.7 126.34,312.41 C126.91,312.12 127.48,311.85 128.05,311.56 C128.62,311.28 129.19,310.96 129.76,310.7 C130.33,310.45 130.9,310.24 131.47,310 C132.04,309.77 132.61,309.55 133.18,309.31 C133.75,309.08 134.32,308.87 134.89,308.59 C135.46,308.31 136.03,307.94 136.6,307.64 C137.17,307.35 137.74,307.09 138.31,306.82 C138.88,306.55 139.45,306.28 140.02,306.01 C140.59,305.74 141.16,305.47 141.73,305.21 C142.3,304.94 142.87,304.67 143.44,304.41 C144.01,304.14 144.58,303.88 145.15,303.62 C145.72,303.35 146.29,303.08 146.86,302.83 C147.43,302.58 148,302.36 148.57,302.12 C149.14,301.89 149.71,301.64 150.28,301.42 C150.85,301.2 151.42,300.99 151.99,300.81 C152.56,300.62 153.13,300.46 153.7,300.32 C154.27,300.18 154.84,300.07 155.41,299.95 C155.98,299.83 156.55,299.73 157.12,299.6 C157.69,299.46 158.26,299.3 158.83,299.15 C159.4,298.99 160.14,298.79 160.54,298.69 C160.94,298.58 161.11,298.53 161.23,298.5" fill="none" stroke="#5C5C5C" stroke-width="2.1" stroke-linejoin="round" stroke-linecap="round"/><path d="M54.52,332.06 C54.95,332.06 56.23,332.06 57.09,332.06 C57.94,332.06 58.8,332.06 59.65,332.06 C60.51,332.06 61.36,332.06 62.22,332.05 C63.07,332.04 63.93,332.04 64.78,332.02 C65.64,332 66.49,331.96 67.35,331.92 C68.2,331.88 69.06,331.85 69.91,331.8 C70.77,331.75 71.62,331.7 72.48,331.64 C73.33,331.57 74.19,331.56 75.04,331.4 C75.9,331.24 76.75,330.92 77.61,330.68 C78.46,330.44 79.32,330.21 80.17,329.96 C81.03,329.72 81.88,329.47 82.74,329.19 C83.59,328.92 84.45,328.62 85.3,328.31 C86.16,328 87.01,327.66 87.87,327.34 C88.72,327.02 89.58,326.72 90.43,326.41 C91.29,326.11 92.14,325.83 93,325.53 C93.85,325.23 94.71,324.93 95.56,324.61 C96.42,324.28 97.27,323.9 98.13,323.57 C98.98,323.23 99.84,322.92 100.69,322.59 C101.55,322.26 102.41,321.9 103.26,321.6 C104.11,321.3 105.16,321.08 105.8,320.8 C106.44,320.53 106.67,320.23 107.11,319.96 C107.55,319.68 107.99,319.4 108.43,319.13 C108.87,318.86 109.32,318.6 109.76,318.34 C110.2,318.08 110.65,317.82 111.1,317.57 C111.54,317.31 111.99,317.06 112.44,316.82 C112.89,316.57 113.34,316.33 113.8,316.09 C114.25,315.85 114.7,315.62 115.16,315.39 C115.61,315.16 116.07,314.93 116.53,314.71 C116.98,314.49 117.44,314.27 117.9,314.05 C118.36,313.84 118.82,313.63 119.29,313.42 C119.75,313.21 120.21,313.01 120.68,312.81 C121.14,312.61 121.61,312.41 122.08,312.22 C122.54,312.02 123.01,311.83 123.48,311.65 C123.95,311.46 124.42,311.28 124.89,311.1 C125.37,310.92 125.84,310.74 126.31,310.57 C126.79,310.39 127.26,310.22 127.74,310.06 C128.21,309.89 128.69,309.73 129.17,309.57 C129.64,309.41 130.12,309.25 130.6,309.1 C131.08,308.94 131.56,308.79 132.05,308.64 C132.53,308.5 133.01,308.35 133.49,308.21 C133.98,308.07 134.46,307.93 134.95,307.79 C135.43,307.66 135.92,307.53 136.41,307.4 C136.89,307.27 137.38,307.14 137.87,307.02 C138.36,306.89 138.85,306.77 139.34,306.65 C139.83,306.53 140.32,306.42 140.81,306.31 C141.3,306.19 141.79,306.08 142.29,305.97 C142.78,305.87 143.27,305.76 143.77,305.66 C144.26,305.56 144.76,305.46 145.26,305.36 C145.75,305.26 146.25,305.17 146.75,305.08 C147.24,304.98 147.74,304.89 148.24,304.81 C148.74,304.72 149.24,304.63 149.74,304.55 C150.24,304.47 150.74,304.39 151.24,304.31 C151.74,304.23 152.24,304.16 152.74,304.08 C153.24,304.01 153.74,303.94 154.25,303.87 C154.75,303.8 155.25,303.73 155.76,303.67 C156.26,303.6 156.76,303.54 157.27,303.48 C157.77,303.42 158.28,303.36 158.78,303.3 C159.29,303.25 159.8,303.19 160.3,303.14 C160.81,303.09 161.31,303.04 161.82,302.99 C162.33,302.94 162.83,302.89 163.34,302.85 C163.85,302.8 164.36,302.76 164.87,302.72 C165.37,302.67 165.88,302.63 166.39,302.59 C166.9,302.56 167.41,302.52 167.92,302.48 C168.43,302.45 168.93,302.42 169.44,302.38 C169.95,302.35 170.46,302.32 170.97,302.29 C171.48,302.26 171.99,302.24 172.5,302.21 C173.01,302.18 173.52,302.16 174.03,302.14 C174.54,302.11 175.05,302.09 175.56,302.07 C176.07,302.05 176.58,302.03 177.09,302.01 C177.6,301.99 178.11,301.98 178.62,301.96 C179.13,301.95 179.64,301.93 180.15,301.92 C180.66,301.91 181.18,301.89 181.69,301.88 C182.2,301.87 182.71,301.86 183.22,301.85 C183.73,301.84 184.24,301.84 184.75,301.83 C185.26,301.82 185.76,301.82 186.27,301.81 C186.78,301.81 187.29,301.8 187.8,301.8 C188.31,301.79 188.82,301.79 189.33,301.79 C189.84,301.79 190.35,301.79 190.86,301.79 C191.36,301.79 191.87,301.79 192.38,301.79 C192.89,301.79 193.4,301.79 193.9,301.79 C194.41,301.79 194.92,301.8 195.42,301.8 C195.93,301.8 196.44,301.81 196.94,301.81 C197.45,301.82 197.95,301.82 198.46,301.83 C198.96,301.83 199.47,301.84 199.97,301.84 C200.48,301.85 200.98,301.85 201.48,301.86 C201.99,301.87 202.49,301.87 202.99,301.88 C203.5,301.89 204.25,301.9 204.5,301.9" fill="none" stroke="#000" stroke-width="1.6" stroke-linejoin="round" stroke-linecap="round"/><g fill="#000" fill-opacity="0.32"><circle cx="54.52" cy="332.06" r="2.75"/><circle cx="61.62" cy="332.06" r="2.75"/><circle cx="64.61" cy="332.02" r="2.75"/><circle cx="65.47" cy="332" r="2.75"/><circle cx="66.32" cy="331.96" r="2.75"/><circle cx="67.18" cy="331.93" r="2.75"/><circle cx="68.03" cy="331.89" r="2.75"/><circle cx="68.89" cy="331.85" r="2.75"/><circle cx="69.74" cy="331.81" r="2.75"/><circle cx="70.6" cy="331.76" r="2.75"/><circle cx="71.45" cy="331.72" r="2.75"/><circle cx="72.31" cy="331.65" r="2.75"/><circle cx="73.16" cy="331.57" r="2.75"/><circle cx="74.02" cy="331.49" r="2.75"/><circle cx="74.87" cy="331.41" r="2.75"/><circle cx="75.73" cy="331.24" r="2.75"/><circle cx="76.58" cy="330.98" r="2.75"/><circle cx="77.44" cy="330.73" r="2.75"/><circle cx="78.29" cy="330.49" r="2.75"/><circle cx="79.15" cy="330.25" r="2.75"/><circle cx="80" cy="330.01" r="2.75"/><circle cx="80.86" cy="329.77" r="2.75"/><circle cx="81.71" cy="329.54" r="2.75"/><circle cx="82.57" cy="329.25" r="2.75"/><circle cx="83.42" cy="328.97" r="2.75"/><circle cx="84.28" cy="328.68" r="2.75"/><circle cx="85.13" cy="328.38" r="2.75"/><circle cx="85.99" cy="328.05" r="2.75"/><circle cx="86.84" cy="327.73" r="2.75"/><circle cx="87.7" cy="327.4" r="2.75"/><circle cx="88.55" cy="327.08" r="2.75"/><circle cx="89.41" cy="326.77" r="2.75"/><circle cx="90.26" cy="326.47" r="2.75"/><circle cx="91.12" cy="326.18" r="2.75"/><circle cx="91.97" cy="325.88" r="2.75"/><circle cx="92.83" cy="325.59" r="2.75"/><circle cx="93.68" cy="325.29" r="2.75"/><circle cx="94.54" cy="325" r="2.75"/><circle cx="95.39" cy="324.68" r="2.75"/><circle cx="96.25" cy="324.33" r="2.75"/><circle cx="97.1" cy="323.97" r="2.75"/><circle cx="97.96" cy="323.63" r="2.75"/><circle cx="98.81" cy="323.31" r="2.75"/><circle cx="99.67" cy="322.98" r="2.75"/><circle cx="100.52" cy="322.66" r="2.75"/><circle cx="101.38" cy="322.33" r="2.75"/><circle cx="102.23" cy="322" r="2.75"/><circle cx="103.09" cy="321.67" r="2.75"/><circle cx="103.94" cy="321.35" r="2.75"/><circle cx="104.8" cy="321.04" r="2.75"/><circle cx="105.65" cy="320.73" r="2.75"/></g>
</g>
<rect x="47" y="235.66" width="175.5" height="100.4" fill="none" stroke="#333333" stroke-width="1.0"/>
<g clip-path="url(#cp21)">
<line x1="229.7" x2="405.2" y1="320.58" y2="320.58" stroke="#EBEBEB" stroke-width="0.7"/>
<line x1="229.7" x2="405.2" y1="297.63" y2="297.63" stroke="#EBEBEB" stroke-width="0.7"/>
<line x1="229.7" x2="405.2" y1="274.68" y2="274.68" stroke="#EBEBEB" stroke-width="0.7"/>
<line x1="229.7" x2="405.2" y1="251.73" y2="251.73" stroke="#EBEBEB" stroke-width="0.7"/>
<line x1="296.9" x2="296.9" y1="235.66" y2="336.06" stroke="#EBEBEB" stroke-width="0.7"/>
<line x1="374.71" x2="374.71" y1="235.66" y2="336.06" stroke="#EBEBEB" stroke-width="0.7"/>
<line x1="229.7" x2="405.2" y1="332.06" y2="332.06" stroke="#EBEBEB" stroke-width="1.4"/>
<line x1="229.7" x2="405.2" y1="309.11" y2="309.11" stroke="#EBEBEB" stroke-width="1.4"/>
<line x1="229.7" x2="405.2" y1="286.15" y2="286.15" stroke="#EBEBEB" stroke-width="1.4"/>
<line x1="229.7" x2="405.2" y1="263.2" y2="263.2" stroke="#EBEBEB" stroke-width="1.4"/>
<line x1="229.7" x2="405.2" y1="240.25" y2="240.25" stroke="#EBEBEB" stroke-width="1.4"/>
<line x1="258" x2="258" y1="235.66" y2="336.06" stroke="#EBEBEB" stroke-width="1.4"/>
<line x1="335.81" x2="335.81" y1="235.66" y2="336.06" stroke="#EBEBEB" stroke-width="1.4"/>
<path d="M298.1,320.5 C298.35,320.33 299.1,319.74 299.6,319.5 C300.1,319.26 300.6,319.21 301.09,319.07 C301.59,318.93 302.09,318.8 302.59,318.68 C303.09,318.55 303.6,318.43 304.1,318.31 C304.6,318.2 305.1,318.08 305.6,317.98 C306.1,317.87 306.6,317.76 307.1,317.66 C307.61,317.55 308.11,317.45 308.61,317.36 C309.11,317.26 309.61,317.16 310.12,317.07 C310.62,316.98 311.12,316.89 311.62,316.81 C312.13,316.72 312.63,316.64 313.13,316.55 C313.64,316.47 314.14,316.4 314.65,316.32 C315.15,316.24 315.65,316.17 316.16,316.1 C316.66,316.03 317.17,315.96 317.67,315.89 C318.18,315.82 318.68,315.76 319.19,315.69 C319.69,315.63 320.2,315.57 320.7,315.51 C321.21,315.45 321.71,315.4 322.22,315.34 C322.72,315.29 323.23,315.23 323.74,315.18 C324.24,315.13 324.75,315.08 325.25,315.03 C325.76,314.99 326.27,314.94 326.77,314.9 C327.28,314.85 327.79,314.81 328.29,314.77 C328.8,314.73 329.31,314.69 329.82,314.65 C330.32,314.62 330.83,314.58 331.34,314.55 C331.85,314.51 332.35,314.48 332.86,314.45 C333.37,314.42 333.88,314.39 334.38,314.36 C334.89,314.33 335.4,314.3 335.91,314.28 C336.42,314.25 336.93,314.23 337.43,314.2 C337.94,314.18 338.45,314.16 338.96,314.14 C339.47,314.12 339.98,314.1 340.49,314.08 C340.99,314.06 341.5,314.04 342.01,314.03 C342.52,314.01 343.03,314 343.54,313.98 C344.05,313.97 344.56,313.95 345.07,313.94 C345.58,313.93 346.09,313.92 346.6,313.91 C347.1,313.9 347.61,313.89 348.12,313.88 C348.63,313.87 349.14,313.86 349.65,313.85 C350.16,313.85 350.67,313.84 351.18,313.83 C351.69,313.83 352.2,313.82 352.71,313.82 C353.22,313.81 353.73,313.81 354.24,313.8 C354.75,313.8 355.26,313.8 355.77,313.79 C356.28,313.79 356.79,313.79 357.3,313.79 C357.81,313.79 358.32,313.79 358.83,313.78 C359.34,313.78 359.85,313.78 360.36,313.78 C360.87,313.78 361.38,313.78 361.89,313.78 C362.4,313.78 362.91,313.78 363.42,313.78 C363.93,313.78 364.44,313.78 364.95,313.79 C365.46,313.79 365.97,313.79 366.48,313.79 C366.99,313.79 367.5,313.79 368.01,313.79 C368.52,313.79 369.03,313.79 369.54,313.79 C370.05,313.8 370.56,313.8 371.07,313.8 C371.58,313.8 372.09,313.8 372.6,313.8 C373.11,313.8 373.62,313.8 374.13,313.8 C374.64,313.8 375.15,313.8 375.66,313.8 C376.17,313.8 376.68,313.8 377.18,313.79 C377.69,313.79 378.2,313.79 378.71,313.79 C379.22,313.79 379.73,313.78 380.24,313.78 C380.75,313.78 381.26,313.77 381.77,313.77 C382.28,313.76 382.78,313.76 383.29,313.75 C383.8,313.75 384.31,313.74 384.82,313.73 C385.33,313.73 385.84,313.72 386.34,313.71 C386.85,313.7 387.36,313.69 387.87,313.68 C388.38,313.67 388.88,313.66 389.39,313.65 C389.9,313.64 390.41,313.63 390.92,313.61 C391.42,313.6 391.93,313.58 392.44,313.57 C392.95,313.55 393.45,313.54 393.96,313.52 C394.47,313.5 394.97,313.48 395.48,313.46 C395.99,313.44 396.75,313.41 397,313.4 L397,319 C396.75,319 395.99,319.02 395.48,319.03 C394.97,319.04 394.47,319.05 393.96,319.05 C393.45,319.06 392.95,319.07 392.44,319.07 C391.93,319.07 391.42,319.08 390.92,319.08 C390.41,319.08 389.9,319.08 389.39,319.09 C388.88,319.09 388.38,319.09 387.87,319.08 C387.36,319.08 386.85,319.08 386.34,319.08 C385.84,319.07 385.33,319.07 384.82,319.07 C384.31,319.06 383.8,319.06 383.29,319.05 C382.78,319.04 382.28,319.04 381.77,319.03 C381.26,319.02 380.75,319.02 380.24,319.01 C379.73,319 379.22,318.99 378.71,318.98 C378.2,318.97 377.69,318.96 377.18,318.95 C376.68,318.94 376.17,318.93 375.66,318.92 C375.15,318.9 374.64,318.89 374.13,318.88 C373.62,318.87 373.11,318.86 372.6,318.84 C372.09,318.83 371.58,318.82 371.07,318.8 C370.56,318.79 370.05,318.78 369.54,318.76 C369.03,318.75 368.52,318.74 368.01,318.72 C367.5,318.71 366.99,318.69 366.48,318.68 C365.97,318.67 365.46,318.65 364.95,318.64 C364.44,318.62 363.93,318.61 363.42,318.6 C362.91,318.58 362.4,318.57 361.89,318.56 C361.38,318.54 360.87,318.53 360.36,318.51 C359.85,318.5 359.34,318.49 358.83,318.48 C358.32,318.46 357.81,318.45 357.3,318.44 C356.79,318.43 356.28,318.41 355.77,318.4 C355.26,318.39 354.75,318.38 354.24,318.37 C353.73,318.36 353.22,318.35 352.71,318.34 C352.2,318.33 351.69,318.32 351.18,318.31 C350.67,318.3 350.16,318.29 349.65,318.29 C349.14,318.28 348.63,318.27 348.12,318.26 C347.61,318.26 347.1,318.25 346.6,318.25 C346.09,318.24 345.58,318.24 345.07,318.24 C344.56,318.23 344.05,318.23 343.54,318.23 C343.03,318.23 342.52,318.23 342.01,318.23 C341.5,318.23 340.99,318.23 340.49,318.23 C339.98,318.23 339.47,318.23 338.96,318.24 C338.45,318.24 337.94,318.25 337.43,318.25 C336.93,318.26 336.42,318.27 335.91,318.27 C335.4,318.28 334.89,318.29 334.38,318.3 C333.88,318.31 333.37,318.33 332.86,318.34 C332.35,318.35 331.85,318.37 331.34,318.38 C330.83,318.4 330.32,318.41 329.82,318.43 C329.31,318.45 328.8,318.47 328.29,318.49 C327.79,318.51 327.28,318.53 326.77,318.56 C326.27,318.58 325.76,318.61 325.25,318.63 C324.75,318.66 324.24,318.69 323.74,318.72 C323.23,318.75 322.72,318.78 322.22,318.81 C321.71,318.85 321.21,318.88 320.7,318.92 C320.2,318.95 319.69,318.99 319.19,319.03 C318.68,319.07 318.18,319.11 317.67,319.16 C317.17,319.2 316.66,319.24 316.16,319.29 C315.65,319.34 315.15,319.39 314.65,319.44 C314.14,319.49 313.64,319.54 313.13,319.59 C312.63,319.65 312.13,319.7 311.62,319.76 C311.12,319.82 310.62,319.88 310.12,319.94 C309.61,320 309.11,320.06 308.61,320.12 C308.11,320.19 307.61,320.26 307.1,320.32 C306.6,320.39 306.1,320.46 305.6,320.53 C305.1,320.6 304.6,320.68 304.1,320.75 C303.6,320.82 303.09,320.9 302.59,320.97 C302.09,321.05 301.59,321.13 301.09,321.2 C300.6,321.27 300.1,321.43 299.6,321.42 C299.1,321.4 298.35,321.15 298.1,321.1 Z" fill="#7F7F7F" fill-opacity="0.3"/><path d="M299.04,320.02 C299.33,319.98 300.18,319.88 300.75,319.81 C301.32,319.74 301.89,319.67 302.46,319.6 C303.03,319.53 303.6,319.46 304.17,319.39 C304.74,319.32 305.31,319.27 305.88,319.21 C306.45,319.15 307.02,319.08 307.59,319.02 C308.16,318.96 308.73,318.9 309.3,318.84 C309.87,318.78 310.44,318.73 311.01,318.68 C311.58,318.63 312.15,318.59 312.72,318.55 C313.29,318.5 313.86,318.46 314.43,318.41 C315,318.37 315.57,318.32 316.14,318.28 C316.71,318.24 317.28,318.19 317.85,318.15 C318.42,318.1 318.99,318.05 319.56,318.01 C320.13,317.97 320.7,317.94 321.27,317.9 C321.84,317.86 322.41,317.83 322.98,317.79 C323.55,317.75 324.12,317.71 324.69,317.68 C325.26,317.64 325.83,317.6 326.4,317.56 C326.97,317.53 327.54,317.5 328.11,317.47 C328.68,317.44 329.25,317.41 329.82,317.39 C330.39,317.36 330.96,317.33 331.53,317.3 C332.1,317.28 332.67,317.25 333.24,317.22 C333.81,317.2 334.38,317.17 334.95,317.14 C335.52,317.11 336.09,317.07 336.66,317.03 C337.23,316.99 337.8,316.95 338.37,316.92 C338.94,316.88 339.51,316.84 340.08,316.8 C340.65,316.77 341.22,316.73 341.79,316.69 C342.36,316.65 343.13,316.6 343.5,316.58 C343.87,316.55 343.93,316.55 344.01,316.54" fill="none" stroke="#5C5C5C" stroke-width="2.1" stroke-linejoin="round" stroke-linecap="round"/><path d="M248.59,332.04 C249.02,332.04 250.31,332.02 251.16,332 C252.01,331.98 252.87,331.96 253.72,331.92 C254.58,331.89 255.44,331.87 256.29,331.78 C257.15,331.7 258,331.55 258.86,331.39 C259.71,331.24 260.56,331.06 261.42,330.88 C262.28,330.7 263.13,330.54 263.99,330.32 C264.84,330.11 265.69,329.85 266.55,329.59 C267.41,329.34 268.26,329.08 269.12,328.78 C269.97,328.48 270.82,328.13 271.68,327.8 C272.54,327.46 273.39,327.11 274.25,326.77 C275.1,326.43 275.95,326.07 276.81,325.74 C277.67,325.41 278.52,325.11 279.38,324.8 C280.23,324.49 281.08,324.17 281.94,323.87 C282.8,323.56 283.65,323.24 284.5,322.96 C285.36,322.69 286.21,322.46 287.07,322.22 C287.93,321.99 288.78,321.75 289.63,321.55 C290.49,321.34 291.34,321.16 292.2,321 C293.06,320.84 293.78,320.62 294.76,320.58 C295.75,320.55 297.29,320.82 298.1,320.8 C298.91,320.78 299.1,320.57 299.6,320.46 C300.1,320.35 300.6,320.24 301.09,320.13 C301.59,320.03 302.09,319.93 302.59,319.83 C303.09,319.73 303.6,319.63 304.1,319.53 C304.6,319.44 305.1,319.34 305.6,319.25 C306.1,319.16 306.6,319.08 307.1,318.99 C307.61,318.9 308.11,318.82 308.61,318.74 C309.11,318.66 309.61,318.58 310.12,318.5 C310.62,318.43 311.12,318.35 311.62,318.28 C312.13,318.21 312.63,318.14 313.13,318.07 C313.64,318.01 314.14,317.94 314.65,317.88 C315.15,317.81 315.65,317.75 316.16,317.69 C316.66,317.63 317.17,317.58 317.67,317.52 C318.18,317.47 318.68,317.41 319.19,317.36 C319.69,317.31 320.2,317.26 320.7,317.21 C321.21,317.17 321.71,317.12 322.22,317.08 C322.72,317.03 323.23,316.99 323.74,316.95 C324.24,316.91 324.75,316.87 325.25,316.83 C325.76,316.8 326.27,316.76 326.77,316.73 C327.28,316.69 327.79,316.66 328.29,316.63 C328.8,316.6 329.31,316.57 329.82,316.54 C330.32,316.52 330.83,316.49 331.34,316.46 C331.85,316.44 332.35,316.42 332.86,316.39 C333.37,316.37 333.88,316.35 334.38,316.33 C334.89,316.31 335.4,316.29 335.91,316.28 C336.42,316.26 336.93,316.24 337.43,316.23 C337.94,316.21 338.45,316.2 338.96,316.19 C339.47,316.18 339.98,316.16 340.49,316.15 C340.99,316.14 341.5,316.13 342.01,316.13 C342.52,316.12 343.03,316.11 343.54,316.1 C344.05,316.1 344.56,316.09 345.07,316.09 C345.58,316.08 346.09,316.08 346.6,316.08 C347.1,316.07 347.61,316.07 348.12,316.07 C348.63,316.07 349.14,316.07 349.65,316.07 C350.16,316.07 350.67,316.07 351.18,316.07 C351.69,316.07 352.2,316.07 352.71,316.08 C353.22,316.08 353.73,316.08 354.24,316.09 C354.75,316.09 355.26,316.09 355.77,316.1 C356.28,316.1 356.79,316.11 357.3,316.11 C357.81,316.12 358.32,316.12 358.83,316.13 C359.34,316.14 359.85,316.14 360.36,316.15 C360.87,316.16 361.38,316.16 361.89,316.17 C362.4,316.18 362.91,316.18 363.42,316.19 C363.93,316.2 364.44,316.2 364.95,316.21 C365.46,316.22 365.97,316.23 366.48,316.23 C366.99,316.24 367.5,316.25 368.01,316.26 C368.52,316.26 369.03,316.27 369.54,316.28 C370.05,316.29 370.56,316.29 371.07,316.3 C371.58,316.31 372.09,316.31 372.6,316.32 C373.11,316.33 373.62,316.33 374.13,316.34 C374.64,316.35 375.15,316.35 375.66,316.36 C376.17,316.36 376.68,316.37 377.18,316.37 C377.69,316.38 378.2,316.38 378.71,316.38 C379.22,316.39 379.73,316.39 380.24,316.39 C380.75,316.4 381.26,316.4 381.77,316.4 C382.28,316.4 382.78,316.4 383.29,316.4 C383.8,316.4 384.31,316.4 384.82,316.4 C385.33,316.4 385.84,316.4 386.34,316.39 C386.85,316.39 387.36,316.39 387.87,316.38 C388.38,316.38 388.88,316.37 389.39,316.37 C389.9,316.36 390.41,316.35 390.92,316.35 C391.42,316.34 391.93,316.33 392.44,316.32 C392.95,316.31 393.45,316.3 393.96,316.29 C394.47,316.27 394.97,316.26 395.48,316.25 C395.99,316.23 396.75,316.21 397,316.2" fill="none" stroke="#000" stroke-width="1.6" stroke-linejoin="round" stroke-linecap="round"/><g fill="#000" fill-opacity="0.32"><circle cx="247.74" cy="332.06" r="2.75"/><circle cx="248.59" cy="332.04" r="2.75"/><circle cx="249.45" cy="332.03" r="2.75"/><circle cx="250.31" cy="332.01" r="2.75"/><circle cx="251.16" cy="332" r="2.75"/><circle cx="252.01" cy="331.98" r="2.75"/><circle cx="252.87" cy="331.97" r="2.75"/><circle cx="253.72" cy="331.92" r="2.75"/><circle cx="254.58" cy="331.88" r="2.75"/><circle cx="255.44" cy="331.83" r="2.75"/><circle cx="256.29" cy="331.78" r="2.75"/><circle cx="257.14" cy="331.74" r="2.75"/><circle cx="258" cy="331.57" r="2.75"/><circle cx="258.86" cy="331.39" r="2.75"/><circle cx="259.71" cy="331.22" r="2.75"/><circle cx="260.56" cy="331.05" r="2.75"/><circle cx="261.42" cy="330.88" r="2.75"/><circle cx="262.27" cy="330.7" r="2.75"/><circle cx="263.13" cy="330.51" r="2.75"/><circle cx="263.99" cy="330.32" r="2.75"/><circle cx="264.84" cy="330.13" r="2.75"/><circle cx="265.69" cy="329.86" r="2.75"/><circle cx="266.55" cy="329.59" r="2.75"/><circle cx="267.4" cy="329.32" r="2.75"/><circle cx="268.26" cy="329.05" r="2.75"/><circle cx="269.12" cy="328.78" r="2.75"/><circle cx="269.97" cy="328.46" r="2.75"/><circle cx="270.82" cy="328.13" r="2.75"/><circle cx="271.68" cy="327.8" r="2.75"/><circle cx="272.54" cy="327.47" r="2.75"/><circle cx="273.39" cy="327.12" r="2.75"/><circle cx="274.25" cy="326.77" r="2.75"/><circle cx="275.1" cy="326.42" r="2.75"/><circle cx="275.95" cy="326.07" r="2.75"/><circle cx="276.81" cy="325.74" r="2.75"/><circle cx="277.67" cy="325.42" r="2.75"/><circle cx="278.52" cy="325.11" r="2.75"/><circle cx="279.38" cy="324.8" r="2.75"/><circle cx="280.23" cy="324.49" r="2.75"/><circle cx="281.08" cy="324.18" r="2.75"/><circle cx="281.94" cy="323.87" r="2.75"/><circle cx="282.8" cy="323.56" r="2.75"/><circle cx="283.65" cy="323.25" r="2.75"/><circle cx="284.5" cy="322.96" r="2.75"/><circle cx="285.36" cy="322.72" r="2.75"/><circle cx="286.21" cy="322.47" r="2.75"/><circle cx="287.07" cy="322.22" r="2.75"/><circle cx="287.93" cy="321.98" r="2.75"/><circle cx="288.78" cy="321.73" r="2.75"/><circle cx="289.63" cy="321.55" r="2.75"/><circle cx="290.49" cy="321.36" r="2.75"/><circle cx="291.35" cy="321.18" r="2.75"/><circle cx="292.2" cy="321" r="2.75"/><circle cx="293.06" cy="320.81" r="2.75"/><circle cx="293.91" cy="320.7" r="2.75"/><circle cx="294.76" cy="320.58" r="2.75"/><circle cx="295.62" cy="320.47" r="2.75"/><circle cx="296.48" cy="320.35" r="2.75"/><circle cx="297.33" cy="320.24" r="2.75"/><circle cx="298.19" cy="320.12" r="2.75"/><circle cx="299.04" cy="320.02" r="2.75"/></g>
</g>
<rect x="229.7" y="235.66" width="175.5" height="100.4" fill="none" stroke="#333333" stroke-width="1.0"/>
<g clip-path="url(#cp22)">
<line x1="412.4" x2="587.9" y1="320.58" y2="320.58" stroke="#EBEBEB" stroke-width="0.7"/>
<line x1="412.4" x2="587.9" y1="297.63" y2="297.63" stroke="#EBEBEB" stroke-width="0.7"/>
<line x1="412.4" x2="587.9" y1="274.68" y2="274.68" stroke="#EBEBEB" stroke-width="0.7"/>
<line x1="412.4" x2="587.9" y1="251.73" y2="251.73" stroke="#EBEBEB" stroke-width="0.7"/>
<line x1="479.6" x2="479.6" y1="235.66" y2="336.06" stroke="#EBEBEB" stroke-width="0.7"/>
<line x1="557.41" x2="557.41" y1="235.66" y2="336.06" stroke="#EBEBEB" stroke-width="0.7"/>
<line x1="412.4" x2="587.9" y1="332.06" y2="332.06" stroke="#EBEBEB" stroke-width="1.4"/>
<line x1="412.4" x2="587.9" y1="309.11" y2="309.11" stroke="#EBEBEB" stroke-width="1.4"/>
<line x1="412.4" x2="587.9" y1="286.15" y2="286.15" stroke="#EBEBEB" stroke-width="1.4"/>
<line x1="412.4" x2="587.9" y1="263.2" y2="263.2" stroke="#EBEBEB" stroke-width="1.4"/>
<line x1="412.4" x2="587.9" y1="240.25" y2="240.25" stroke="#EBEBEB" stroke-width="1.4"/>
<line x1="440.7" x2="440.7" y1="235.66" y2="336.06" stroke="#EBEBEB" stroke-width="1.4"/>
<line x1="518.5" x2="518.5" y1="235.66" y2="336.06" stroke="#EBEBEB" stroke-width="1.4"/>
<path d="M470.7,329.1 C470.95,328.99 471.71,328.59 472.21,328.41 C472.71,328.23 473.22,328.15 473.72,328.02 C474.22,327.9 474.72,327.78 475.23,327.66 C475.73,327.54 476.23,327.42 476.74,327.3 C477.24,327.18 477.74,327.07 478.25,326.95 C478.75,326.84 479.26,326.72 479.76,326.61 C480.26,326.5 480.77,326.38 481.27,326.27 C481.77,326.16 482.28,326.05 482.78,325.94 C483.29,325.83 483.79,325.72 484.29,325.61 C484.8,325.5 485.3,325.39 485.81,325.29 C486.31,325.18 486.82,325.07 487.32,324.96 C487.83,324.86 488.33,324.75 488.83,324.65 C489.34,324.54 489.84,324.44 490.35,324.33 C490.85,324.23 491.36,324.12 491.86,324.02 C492.37,323.92 492.87,323.82 493.38,323.71 C493.88,323.61 494.39,323.51 494.89,323.41 C495.4,323.31 495.91,323.21 496.41,323.11 C496.92,323.01 497.42,322.91 497.93,322.82 C498.43,322.72 498.94,322.62 499.44,322.52 C499.95,322.43 500.46,322.33 500.96,322.24 C501.47,322.14 501.97,322.05 502.48,321.95 C502.99,321.86 503.49,321.76 504,321.67 C504.51,321.58 505.01,321.49 505.52,321.4 C506.03,321.31 506.53,321.21 507.04,321.12 C507.55,321.03 508.05,320.95 508.56,320.86 C509.07,320.77 509.57,320.68 510.08,320.59 C510.59,320.51 511.1,320.42 511.6,320.34 C512.11,320.25 512.62,320.17 513.13,320.08 C513.63,320 514.14,319.91 514.65,319.83 C515.16,319.75 515.66,319.67 516.17,319.59 C516.68,319.51 517.19,319.43 517.7,319.35 C518.2,319.27 518.71,319.19 519.22,319.11 C519.73,319.04 520.24,318.96 520.75,318.88 C521.25,318.81 521.76,318.73 522.27,318.66 C522.78,318.59 523.29,318.51 523.8,318.44 C524.31,318.37 524.82,318.3 525.32,318.23 C525.83,318.16 526.34,318.09 526.85,318.02 C527.36,317.95 527.87,317.88 528.38,317.82 C528.89,317.75 529.4,317.69 529.91,317.62 C530.42,317.56 530.93,317.49 531.44,317.43 C531.95,317.37 532.46,317.31 532.97,317.25 C533.48,317.19 533.99,317.13 534.5,317.07 C535.01,317.01 535.52,316.95 536.03,316.9 C536.54,316.84 537.05,316.78 537.56,316.73 C538.07,316.67 538.59,316.62 539.1,316.57 C539.61,316.52 540.12,316.47 540.63,316.42 C541.14,316.37 541.65,316.32 542.16,316.27 C542.68,316.22 543.19,316.18 543.7,316.13 C544.21,316.09 544.72,316.04 545.23,316 C545.75,315.95 546.26,315.91 546.77,315.87 C547.28,315.83 547.8,315.79 548.31,315.75 C548.82,315.71 549.33,315.68 549.85,315.64 C550.36,315.61 550.87,315.57 551.38,315.54 C551.9,315.5 552.41,315.47 552.92,315.44 C553.44,315.41 553.95,315.38 554.46,315.35 C554.98,315.32 555.49,315.3 556,315.27 C556.52,315.24 557.03,315.22 557.54,315.2 C558.06,315.17 558.57,315.15 559.09,315.13 C559.6,315.11 560.11,315.09 560.63,315.07 C561.14,315.05 561.66,315.04 562.17,315.02 C562.69,315.01 563.2,314.99 563.72,314.98 C564.23,314.97 564.75,314.96 565.26,314.95 C565.78,314.94 566.29,314.93 566.81,314.92 C567.32,314.92 567.84,314.91 568.35,314.91 C568.87,314.9 569.64,314.9 569.9,314.9 L569.9,318.9 C569.64,318.9 568.87,318.89 568.35,318.88 C567.84,318.88 567.32,318.88 566.81,318.88 C566.29,318.88 565.78,318.88 565.26,318.88 C564.75,318.88 564.23,318.88 563.72,318.89 C563.2,318.89 562.69,318.9 562.17,318.9 C561.66,318.91 561.14,318.92 560.63,318.93 C560.11,318.94 559.6,318.95 559.09,318.96 C558.57,318.97 558.06,318.99 557.54,319 C557.03,319.02 556.52,319.03 556,319.05 C555.49,319.07 554.98,319.09 554.46,319.11 C553.95,319.13 553.44,319.15 552.92,319.17 C552.41,319.19 551.9,319.22 551.38,319.24 C550.87,319.27 550.36,319.29 549.85,319.32 C549.33,319.35 548.82,319.38 548.31,319.41 C547.8,319.44 547.28,319.47 546.77,319.5 C546.26,319.53 545.75,319.56 545.23,319.6 C544.72,319.63 544.21,319.67 543.7,319.7 C543.19,319.74 542.68,319.78 542.16,319.82 C541.65,319.86 541.14,319.89 540.63,319.94 C540.12,319.98 539.61,320.02 539.1,320.06 C538.59,320.1 538.07,320.15 537.56,320.19 C537.05,320.24 536.54,320.28 536.03,320.33 C535.52,320.38 535.01,320.42 534.5,320.47 C533.99,320.52 533.48,320.57 532.97,320.62 C532.46,320.67 531.95,320.73 531.44,320.78 C530.93,320.83 530.42,320.88 529.91,320.94 C529.4,320.99 528.89,321.05 528.38,321.11 C527.87,321.16 527.36,321.22 526.85,321.28 C526.34,321.34 525.83,321.39 525.32,321.45 C524.82,321.51 524.31,321.57 523.8,321.64 C523.29,321.7 522.78,321.76 522.27,321.82 C521.76,321.89 521.25,321.95 520.75,322.02 C520.24,322.08 519.73,322.15 519.22,322.21 C518.71,322.28 518.2,322.35 517.7,322.41 C517.19,322.48 516.68,322.55 516.17,322.62 C515.66,322.69 515.16,322.76 514.65,322.83 C514.14,322.9 513.63,322.97 513.13,323.04 C512.62,323.12 512.11,323.19 511.6,323.26 C511.1,323.34 510.59,323.41 510.08,323.48 C509.57,323.56 509.07,323.63 508.56,323.71 C508.05,323.79 507.55,323.86 507.04,323.94 C506.53,324.02 506.03,324.1 505.52,324.17 C505.01,324.25 504.51,324.33 504,324.41 C503.49,324.49 502.99,324.57 502.48,324.65 C501.97,324.73 501.47,324.81 500.96,324.89 C500.46,324.97 499.95,325.06 499.44,325.14 C498.94,325.22 498.43,325.3 497.93,325.39 C497.42,325.47 496.92,325.56 496.41,325.64 C495.91,325.72 495.4,325.81 494.89,325.89 C494.39,325.98 493.88,326.06 493.38,326.15 C492.87,326.23 492.37,326.32 491.86,326.41 C491.36,326.49 490.85,326.58 490.35,326.67 C489.84,326.75 489.34,326.84 488.83,326.93 C488.33,327.02 487.83,327.1 487.32,327.19 C486.82,327.28 486.31,327.37 485.81,327.46 C485.3,327.54 484.8,327.63 484.29,327.72 C483.79,327.81 483.29,327.9 482.78,327.99 C482.28,328.07 481.77,328.16 481.27,328.25 C480.77,328.34 480.26,328.43 479.76,328.52 C479.26,328.6 478.75,328.69 478.25,328.78 C477.74,328.87 477.24,328.95 476.74,329.04 C476.23,329.13 475.73,329.21 475.23,329.3 C474.72,329.38 474.22,329.47 473.72,329.55 C473.22,329.63 472.71,329.75 472.21,329.78 C471.71,329.8 470.95,329.72 470.7,329.7 Z" fill="#7F7F7F" fill-opacity="0.3"/><path d="M471.39,329.13 C471.68,329.09 472.53,328.97 473.1,328.88 C473.67,328.8 474.24,328.72 474.81,328.63 C475.38,328.54 475.95,328.46 476.52,328.37 C477.09,328.28 477.66,328.2 478.23,328.11 C478.8,328.02 479.37,327.95 479.94,327.85 C480.51,327.75 481.08,327.61 481.65,327.49 C482.22,327.37 482.79,327.25 483.36,327.12 C483.93,326.99 484.5,326.84 485.07,326.68 C485.64,326.52 486.21,326.33 486.78,326.16 C487.35,325.98 487.92,325.8 488.49,325.62 C489.06,325.45 489.63,325.26 490.2,325.09 C490.77,324.91 491.34,324.74 491.91,324.57 C492.48,324.4 493.05,324.23 493.62,324.07 C494.19,323.92 494.76,323.77 495.33,323.63 C495.9,323.5 496.47,323.4 497.04,323.26 C497.61,323.13 498.18,322.99 498.75,322.83 C499.32,322.67 499.89,322.49 500.46,322.31 C501.03,322.13 501.6,321.98 502.17,321.75 C502.74,321.51 503.31,321.18 503.88,320.92 C504.45,320.67 505.02,320.44 505.59,320.21 C506.16,319.98 506.73,319.76 507.3,319.54 C507.87,319.32 508.44,319.09 509.01,318.87 C509.58,318.65 510.15,318.44 510.72,318.23 C511.29,318.01 511.86,317.8 512.43,317.59 C513,317.37 513.57,317.11 514.14,316.94 C514.71,316.77 515.28,316.69 515.85,316.56 C516.42,316.44 516.99,316.32 517.56,316.19 C518.13,316.07 518.7,315.94 519.27,315.81 C519.84,315.69 520.41,315.58 520.98,315.44 C521.55,315.3 522.12,315.14 522.69,314.98 C523.26,314.82 523.83,314.64 524.4,314.47 C524.97,314.3 525.73,314.08 526.11,313.97 C526.5,313.85 526.61,313.82 526.71,313.79" fill="none" stroke="#5C5C5C" stroke-width="2.1" stroke-linejoin="round" stroke-linecap="round"/><path d="M420.09,332.06 C420.52,332.05 421.8,332.04 422.66,332.03 C423.51,332.01 424.37,332 425.22,331.99 C426.08,331.98 426.93,331.97 427.79,331.95 C428.64,331.94 429.5,331.93 430.35,331.91 C431.21,331.89 432.06,331.88 432.92,331.85 C433.77,331.83 434.63,331.8 435.48,331.77 C436.34,331.75 437.19,331.73 438.05,331.7 C438.9,331.66 439.76,331.62 440.61,331.58 C441.47,331.54 442.32,331.5 443.18,331.46 C444.03,331.41 444.89,331.37 445.74,331.32 C446.6,331.27 447.45,331.21 448.31,331.16 C449.16,331.1 450.02,331.05 450.87,330.99 C451.73,330.93 452.58,330.87 453.44,330.81 C454.29,330.75 455.15,330.69 456,330.63 C456.86,330.57 457.71,330.5 458.57,330.44 C459.42,330.37 460.28,330.3 461.13,330.23 C461.99,330.16 462.84,330.1 463.7,330.02 C464.55,329.94 465.1,329.86 466.26,329.75 C467.43,329.65 469.71,329.51 470.7,329.4 C471.69,329.29 471.71,329.2 472.21,329.09 C472.71,328.99 473.22,328.89 473.72,328.78 C474.22,328.68 474.72,328.58 475.23,328.48 C475.73,328.37 476.23,328.27 476.74,328.17 C477.24,328.07 477.74,327.97 478.25,327.87 C478.75,327.76 479.26,327.66 479.76,327.56 C480.26,327.46 480.77,327.36 481.27,327.26 C481.77,327.16 482.28,327.06 482.78,326.96 C483.29,326.86 483.79,326.76 484.29,326.67 C484.8,326.57 485.3,326.47 485.81,326.37 C486.31,326.27 486.82,326.18 487.32,326.08 C487.83,325.98 488.33,325.88 488.83,325.79 C489.34,325.69 489.84,325.6 490.35,325.5 C490.85,325.4 491.36,325.31 491.86,325.21 C492.37,325.12 492.87,325.03 493.38,324.93 C493.88,324.84 494.39,324.75 494.89,324.65 C495.4,324.56 495.91,324.47 496.41,324.38 C496.92,324.28 497.42,324.19 497.93,324.1 C498.43,324.01 498.94,323.92 499.44,323.83 C499.95,323.74 500.46,323.65 500.96,323.56 C501.47,323.48 501.97,323.39 502.48,323.3 C502.99,323.21 503.49,323.13 504,323.04 C504.51,322.96 505.01,322.87 505.52,322.78 C506.03,322.7 506.53,322.62 507.04,322.53 C507.55,322.45 508.05,322.37 508.56,322.28 C509.07,322.2 509.57,322.12 510.08,322.04 C510.59,321.96 511.1,321.88 511.6,321.8 C512.11,321.72 512.62,321.64 513.13,321.56 C513.63,321.48 514.14,321.41 514.65,321.33 C515.16,321.25 515.66,321.18 516.17,321.1 C516.68,321.03 517.19,320.95 517.7,320.88 C518.2,320.81 518.71,320.73 519.22,320.66 C519.73,320.59 520.24,320.52 520.75,320.45 C521.25,320.38 521.76,320.31 522.27,320.24 C522.78,320.17 523.29,320.11 523.8,320.04 C524.31,319.97 524.82,319.91 525.32,319.84 C525.83,319.78 526.34,319.71 526.85,319.65 C527.36,319.59 527.87,319.52 528.38,319.46 C528.89,319.4 529.4,319.34 529.91,319.28 C530.42,319.22 530.93,319.16 531.44,319.1 C531.95,319.05 532.46,318.99 532.97,318.93 C533.48,318.88 533.99,318.82 534.5,318.77 C535.01,318.72 535.52,318.66 536.03,318.61 C536.54,318.56 537.05,318.51 537.56,318.46 C538.07,318.41 538.59,318.36 539.1,318.32 C539.61,318.27 540.12,318.22 540.63,318.18 C541.14,318.13 541.65,318.09 542.16,318.04 C542.68,318 543.19,317.96 543.7,317.92 C544.21,317.88 544.72,317.84 545.23,317.8 C545.75,317.76 546.26,317.72 546.77,317.69 C547.28,317.65 547.8,317.61 548.31,317.58 C548.82,317.55 549.33,317.51 549.85,317.48 C550.36,317.45 550.87,317.42 551.38,317.39 C551.9,317.36 552.41,317.33 552.92,317.31 C553.44,317.28 553.95,317.25 554.46,317.23 C554.98,317.21 555.49,317.18 556,317.16 C556.52,317.14 557.03,317.12 557.54,317.1 C558.06,317.08 558.57,317.06 559.09,317.05 C559.6,317.03 560.11,317.01 560.63,317 C561.14,316.99 561.66,316.97 562.17,316.96 C562.69,316.95 563.2,316.94 563.72,316.93 C564.23,316.93 564.75,316.92 565.26,316.91 C565.78,316.91 566.29,316.9 566.81,316.9 C567.32,316.9 567.84,316.9 568.35,316.9 C568.87,316.9 569.64,316.9 569.9,316.9" fill="none" stroke="#000" stroke-width="1.6" stroke-linejoin="round" stroke-linecap="round"/><g fill="#000" fill-opacity="0.32"><circle cx="420.09" cy="332.06" r="2.75"/><circle cx="427.02" cy="331.97" r="2.75"/><circle cx="430.01" cy="331.91" r="2.75"/><circle cx="430.87" cy="331.9" r="2.75"/><circle cx="431.72" cy="331.88" r="2.75"/><circle cx="432.58" cy="331.86" r="2.75"/><circle cx="433.43" cy="331.84" r="2.75"/><circle cx="434.29" cy="331.81" r="2.75"/><circle cx="435.14" cy="331.78" r="2.75"/><circle cx="436" cy="331.76" r="2.75"/><circle cx="436.85" cy="331.73" r="2.75"/><circle cx="437.71" cy="331.71" r="2.75"/><circle cx="438.56" cy="331.67" r="2.75"/><circle cx="439.42" cy="331.63" r="2.75"/><circle cx="440.27" cy="331.59" r="2.75"/><circle cx="441.13" cy="331.55" r="2.75"/><circle cx="441.98" cy="331.51" r="2.75"/><circle cx="442.84" cy="331.47" r="2.75"/><circle cx="443.69" cy="331.43" r="2.75"/><circle cx="444.55" cy="331.39" r="2.75"/><circle cx="445.4" cy="331.34" r="2.75"/><circle cx="446.26" cy="331.29" r="2.75"/><circle cx="447.11" cy="331.23" r="2.75"/><circle cx="447.97" cy="331.18" r="2.75"/><circle cx="448.82" cy="331.12" r="2.75"/><circle cx="449.68" cy="331.07" r="2.75"/><circle cx="450.53" cy="331.01" r="2.75"/><circle cx="451.39" cy="330.96" r="2.75"/><circle cx="452.24" cy="330.9" r="2.75"/><circle cx="453.1" cy="330.84" r="2.75"/><circle cx="453.95" cy="330.77" r="2.75"/><circle cx="454.81" cy="330.71" r="2.75"/><circle cx="455.66" cy="330.65" r="2.75"/><circle cx="456.52" cy="330.59" r="2.75"/><circle cx="457.37" cy="330.53" r="2.75"/><circle cx="458.23" cy="330.46" r="2.75"/><circle cx="459.08" cy="330.4" r="2.75"/><circle cx="459.94" cy="330.33" r="2.75"/><circle cx="460.79" cy="330.26" r="2.75"/><circle cx="461.65" cy="330.19" r="2.75"/><circle cx="462.5" cy="330.12" r="2.75"/><circle cx="463.36" cy="330.05" r="2.75"/><circle cx="464.21" cy="329.98" r="2.75"/><circle cx="465.07" cy="329.9" r="2.75"/><circle cx="465.92" cy="329.79" r="2.75"/><circle cx="466.78" cy="329.69" r="2.75"/><circle cx="467.63" cy="329.59" r="2.75"/><circle cx="468.49" cy="329.48" r="2.75"/><circle cx="469.34" cy="329.38" r="2.75"/><circle cx="470.2" cy="329.28" r="2.75"/><circle cx="471.05" cy="329.17" r="2.75"/></g>
</g>
<rect x="412.4" y="235.66" width="175.5" height="100.4" fill="none" stroke="#333333" stroke-width="1.0"/>
<g clip-path="url(#cp30)">
<line x1="47" x2="222.5" y1="427.96" y2="427.96" stroke="#EBEBEB" stroke-width="0.7"/>
<line x1="47" x2="222.5" y1="405.01" y2="405.01" stroke="#EBEBEB" stroke-width="0.7"/>
<line x1="47" x2="222.5" y1="382.06" y2="382.06" stroke="#EBEBEB" stroke-width="0.7"/>
<line x1="47" x2="222.5" y1="359.11" y2="359.11" stroke="#EBEBEB" stroke-width="0.7"/>
<line x1="114.2" x2="114.2" y1="343.04" y2="443.44" stroke="#EBEBEB" stroke-width="0.7"/>
<line x1="192.01" x2="192.01" y1="343.04" y2="443.44" stroke="#EBEBEB" stroke-width="0.7"/>
<line x1="47" x2="222.5" y1="439.44" y2="439.44" stroke="#EBEBEB" stroke-width="1.4"/>
<line x1="47" x2="222.5" y1="416.49" y2="416.49" stroke="#EBEBEB" stroke-width="1.4"/>
<line x1="47" x2="222.5" y1="393.53" y2="393.53" stroke="#EBEBEB" stroke-width="1.4"/>
<line x1="47" x2="222.5" y1="370.58" y2="370.58" stroke="#EBEBEB" stroke-width="1.4"/>
<line x1="47" x2="222.5" y1="347.63" y2="347.63" stroke="#EBEBEB" stroke-width="1.4"/>
<line x1="75.3" x2="75.3" y1="343.04" y2="443.44" stroke="#EBEBEB" stroke-width="1.4"/>
<line x1="153.1" x2="153.1" y1="343.04" y2="443.44" stroke="#EBEBEB" stroke-width="1.4"/>
<path d="M122.5,420 C122.76,419.86 123.53,419.34 124.04,419.16 C124.55,418.97 125.07,418.98 125.58,418.89 C126.09,418.81 126.61,418.74 127.12,418.66 C127.64,418.59 128.15,418.52 128.66,418.45 C129.18,418.39 129.69,418.32 130.2,418.26 C130.72,418.2 131.23,418.14 131.75,418.08 C132.26,418.02 132.78,417.97 133.29,417.91 C133.81,417.86 134.32,417.81 134.83,417.76 C135.35,417.71 135.86,417.66 136.38,417.61 C136.89,417.56 137.41,417.51 137.92,417.47 C138.44,417.42 138.95,417.38 139.47,417.34 C139.98,417.29 140.5,417.25 141.01,417.21 C141.53,417.17 142.04,417.13 142.56,417.1 C143.07,417.06 143.59,417.02 144.1,416.99 C144.62,416.95 145.14,416.91 145.65,416.88 C146.17,416.85 146.68,416.81 147.2,416.78 C147.71,416.75 148.23,416.72 148.74,416.69 C149.26,416.66 149.78,416.63 150.29,416.6 C150.81,416.58 151.32,416.55 151.84,416.52 C152.36,416.5 152.87,416.47 153.39,416.45 C153.9,416.42 154.42,416.4 154.94,416.38 C155.45,416.35 155.97,416.33 156.48,416.31 C157,416.29 157.52,416.27 158.03,416.25 C158.55,416.23 159.06,416.21 159.58,416.19 C160.1,416.17 160.61,416.15 161.13,416.13 C161.65,416.11 162.16,416.1 162.68,416.08 C163.2,416.06 163.71,416.05 164.23,416.03 C164.74,416.02 165.26,416 165.78,415.99 C166.29,415.97 166.81,415.96 167.33,415.94 C167.84,415.93 168.36,415.92 168.88,415.91 C169.39,415.89 169.91,415.88 170.43,415.87 C170.94,415.86 171.46,415.85 171.98,415.83 C172.49,415.82 173.01,415.81 173.53,415.8 C174.04,415.79 174.56,415.78 175.08,415.77 C175.59,415.76 176.11,415.75 176.62,415.74 C177.14,415.73 177.66,415.72 178.17,415.72 C178.69,415.71 179.21,415.7 179.72,415.69 C180.24,415.68 180.76,415.67 181.27,415.67 C181.79,415.66 182.31,415.65 182.82,415.64 C183.34,415.63 183.86,415.63 184.37,415.62 C184.89,415.61 185.41,415.6 185.92,415.6 C186.44,415.59 186.95,415.58 187.47,415.57 C187.99,415.57 188.5,415.56 189.02,415.55 C189.54,415.55 190.05,415.54 190.57,415.53 C191.09,415.52 191.6,415.52 192.12,415.51 C192.63,415.5 193.15,415.49 193.67,415.49 C194.18,415.48 194.7,415.47 195.22,415.46 C195.73,415.45 196.25,415.45 196.76,415.44 C197.28,415.43 197.8,415.42 198.31,415.41 C198.83,415.4 199.34,415.4 199.86,415.39 C200.37,415.38 200.89,415.37 201.41,415.36 C201.92,415.35 202.44,415.34 202.95,415.33 C203.47,415.32 204.24,415.3 204.5,415.3 L204.5,420.9 C204.24,420.9 203.47,420.89 202.95,420.89 C202.44,420.89 201.92,420.88 201.41,420.88 C200.89,420.88 200.37,420.87 199.86,420.87 C199.34,420.86 198.83,420.86 198.31,420.85 C197.8,420.85 197.28,420.84 196.76,420.84 C196.25,420.83 195.73,420.82 195.22,420.82 C194.7,420.81 194.18,420.81 193.67,420.8 C193.15,420.79 192.63,420.79 192.12,420.78 C191.6,420.77 191.09,420.76 190.57,420.76 C190.05,420.75 189.54,420.74 189.02,420.74 C188.5,420.73 187.99,420.72 187.47,420.71 C186.95,420.71 186.44,420.7 185.92,420.69 C185.41,420.68 184.89,420.67 184.37,420.67 C183.86,420.66 183.34,420.65 182.82,420.64 C182.31,420.64 181.79,420.63 181.27,420.62 C180.76,420.61 180.24,420.61 179.72,420.6 C179.21,420.59 178.69,420.58 178.17,420.58 C177.66,420.57 177.14,420.56 176.62,420.56 C176.11,420.55 175.59,420.54 175.08,420.53 C174.56,420.53 174.04,420.52 173.53,420.52 C173.01,420.51 172.49,420.5 171.98,420.5 C171.46,420.49 170.94,420.49 170.43,420.48 C169.91,420.47 169.39,420.47 168.88,420.46 C168.36,420.46 167.84,420.45 167.33,420.45 C166.81,420.45 166.29,420.44 165.78,420.44 C165.26,420.43 164.74,420.43 164.23,420.43 C163.71,420.42 163.2,420.42 162.68,420.42 C162.16,420.42 161.65,420.42 161.13,420.41 C160.61,420.41 160.1,420.41 159.58,420.41 C159.06,420.41 158.55,420.41 158.03,420.41 C157.52,420.41 157,420.41 156.48,420.41 C155.97,420.41 155.45,420.41 154.94,420.42 C154.42,420.42 153.9,420.42 153.39,420.42 C152.87,420.43 152.36,420.43 151.84,420.44 C151.32,420.44 150.81,420.44 150.29,420.45 C149.78,420.46 149.26,420.46 148.74,420.47 C148.23,420.47 147.71,420.48 147.2,420.49 C146.68,420.5 146.17,420.5 145.65,420.51 C145.14,420.52 144.62,420.53 144.1,420.54 C143.59,420.55 143.07,420.56 142.56,420.57 C142.04,420.58 141.53,420.6 141.01,420.61 C140.5,420.62 139.98,420.63 139.47,420.65 C138.95,420.66 138.44,420.68 137.92,420.69 C137.41,420.7 136.89,420.72 136.38,420.74 C135.86,420.75 135.35,420.77 134.83,420.79 C134.32,420.8 133.81,420.82 133.29,420.84 C132.78,420.86 132.26,420.87 131.75,420.89 C131.23,420.91 130.72,420.93 130.2,420.95 C129.69,420.97 129.18,420.99 128.66,421.01 C128.15,421.02 127.64,421.04 127.12,421.06 C126.61,421.08 126.09,421.09 125.58,421.11 C125.07,421.12 124.55,421.22 124.04,421.13 C123.53,421.05 122.76,420.69 122.5,420.6 Z" fill="#7F7F7F" fill-opacity="0.3"/><path d="M122.92,421.66 C123.21,421.5 124.06,421.01 124.63,420.69 C125.2,420.38 125.77,420.08 126.34,419.79 C126.91,419.5 127.48,419.23 128.05,418.94 C128.62,418.66 129.19,418.34 129.76,418.08 C130.33,417.83 130.9,417.62 131.47,417.38 C132.04,417.15 132.61,416.93 133.18,416.69 C133.75,416.46 134.32,416.25 134.89,415.97 C135.46,415.69 136.03,415.32 136.6,415.02 C137.17,414.73 137.74,414.47 138.31,414.2 C138.88,413.93 139.45,413.66 140.02,413.39 C140.59,413.12 141.16,412.85 141.73,412.59 C142.3,412.32 142.87,412.05 143.44,411.79 C144.01,411.52 144.58,411.26 145.15,411 C145.72,410.73 146.29,410.46 146.86,410.21 C147.43,409.96 148,409.74 148.57,409.5 C149.14,409.27 149.71,409.02 150.28,408.8 C150.85,408.58 151.42,408.37 151.99,408.19 C152.56,408 153.13,407.84 153.7,407.7 C154.27,407.56 154.84,407.45 155.41,407.33 C155.98,407.21 156.55,407.11 157.12,406.98 C157.69,406.84 158.26,406.68 158.83,406.53 C159.4,406.37 160.14,406.17 160.54,406.07 C160.94,405.96 161.11,405.91 161.23,405.88" fill="none" stroke="#5C5C5C" stroke-width="2.1" stroke-linejoin="round" stroke-linecap="round"/><path d="M54.52,439.44 C54.95,439.44 56.23,439.44 57.09,439.44 C57.94,439.44 58.8,439.44 59.65,439.44 C60.51,439.44 61.36,439.44 62.22,439.43 C63.07,439.42 63.93,439.42 64.78,439.4 C65.64,439.38 66.49,439.34 67.35,439.3 C68.2,439.26 69.06,439.23 69.91,439.18 C70.77,439.13 71.62,439.08 72.48,439.02 C73.33,438.95 74.19,438.94 75.04,438.78 C75.9,438.62 76.75,438.3 77.61,438.06 C78.46,437.82 79.32,437.59 80.17,437.34 C81.03,437.1 81.88,436.85 82.74,436.57 C83.59,436.3 84.45,436 85.3,435.69 C86.16,435.38 87.01,435.04 87.87,434.72 C88.72,434.4 89.58,434.1 90.43,433.79 C91.29,433.49 92.14,433.21 93,432.91 C93.85,432.61 94.71,432.31 95.56,431.99 C96.42,431.66 97.27,431.28 98.13,430.95 C98.98,430.61 99.84,430.3 100.69,429.97 C101.55,429.64 102.4,429.3 103.26,428.98 C104.11,428.66 104.97,428.37 105.82,428.04 C106.68,427.72 107.53,427.36 108.39,427.04 C109.24,426.72 110.1,426.43 110.95,426.14 C111.81,425.85 112.66,425.58 113.52,425.28 C114.37,424.97 115.23,424.62 116.08,424.28 C116.94,423.95 117.58,423.93 118.65,423.27 C119.72,422.6 121.6,420.82 122.5,420.3 C123.4,419.78 123.53,420.2 124.04,420.15 C124.55,420.1 125.07,420.05 125.58,420 C126.09,419.95 126.61,419.91 127.12,419.86 C127.64,419.82 128.15,419.77 128.66,419.73 C129.18,419.69 129.69,419.65 130.2,419.61 C130.72,419.56 131.23,419.53 131.75,419.49 C132.26,419.45 132.78,419.41 133.29,419.38 C133.81,419.34 134.32,419.31 134.83,419.27 C135.35,419.24 135.86,419.2 136.38,419.17 C136.89,419.14 137.41,419.11 137.92,419.08 C138.44,419.05 138.95,419.02 139.47,418.99 C139.98,418.96 140.5,418.94 141.01,418.91 C141.53,418.88 142.04,418.86 142.56,418.83 C143.07,418.81 143.59,418.79 144.1,418.76 C144.62,418.74 145.14,418.72 145.65,418.7 C146.17,418.68 146.68,418.66 147.2,418.64 C147.71,418.62 148.23,418.6 148.74,418.58 C149.26,418.56 149.78,418.54 150.29,418.53 C150.81,418.51 151.32,418.49 151.84,418.48 C152.36,418.46 152.87,418.45 153.39,418.44 C153.9,418.42 154.42,418.41 154.94,418.4 C155.45,418.38 155.97,418.37 156.48,418.36 C157,418.35 157.52,418.34 158.03,418.33 C158.55,418.32 159.06,418.31 159.58,418.3 C160.1,418.29 160.61,418.28 161.13,418.27 C161.65,418.26 162.16,418.26 162.68,418.25 C163.2,418.24 163.71,418.24 164.23,418.23 C164.74,418.22 165.26,418.22 165.78,418.21 C166.29,418.21 166.81,418.2 167.33,418.2 C167.84,418.19 168.36,418.19 168.88,418.18 C169.39,418.18 169.91,418.18 170.43,418.17 C170.94,418.17 171.46,418.17 171.98,418.17 C172.49,418.16 173.01,418.16 173.53,418.16 C174.04,418.16 174.56,418.15 175.08,418.15 C175.59,418.15 176.11,418.15 176.62,418.15 C177.14,418.15 177.66,418.15 178.17,418.15 C178.69,418.15 179.21,418.15 179.72,418.14 C180.24,418.14 180.76,418.14 181.27,418.14 C181.79,418.14 182.31,418.14 182.82,418.14 C183.34,418.14 183.86,418.14 184.37,418.14 C184.89,418.14 185.41,418.14 185.92,418.14 C186.44,418.14 186.95,418.14 187.47,418.14 C187.99,418.14 188.5,418.14 189.02,418.14 C189.54,418.14 190.05,418.14 190.57,418.14 C191.09,418.14 191.6,418.14 192.12,418.14 C192.63,418.14 193.15,418.14 193.67,418.14 C194.18,418.14 194.7,418.14 195.22,418.14 C195.73,418.14 196.25,418.14 196.76,418.14 C197.28,418.14 197.8,418.13 198.31,418.13 C198.83,418.13 199.34,418.13 199.86,418.13 C200.37,418.12 200.89,418.12 201.41,418.12 C201.92,418.12 202.44,418.11 202.95,418.11 C203.47,418.11 204.24,418.1 204.5,418.1" fill="none" stroke="#000" stroke-width="1.6" stroke-linejoin="round" stroke-linecap="round"/><g fill="#000" fill-opacity="0.32"><circle cx="54.52" cy="439.44" r="2.75"/><circle cx="61.62" cy="439.44" r="2.75"/><circle cx="64.61" cy="439.4" r="2.75"/><circle cx="65.47" cy="439.38" r="2.75"/><circle cx="66.32" cy="439.34" r="2.75"/><circle cx="67.18" cy="439.31" r="2.75"/><circle cx="68.03" cy="439.27" r="2.75"/><circle cx="68.89" cy="439.23" r="2.75"/><circle cx="69.74" cy="439.19" r="2.75"/><circle cx="70.6" cy="439.14" r="2.75"/><circle cx="71.45" cy="439.1" r="2.75"/><circle cx="72.31" cy="439.03" r="2.75"/><circle cx="73.16" cy="438.95" r="2.75"/><circle cx="74.02" cy="438.87" r="2.75"/><circle cx="74.87" cy="438.79" r="2.75"/><circle cx="75.73" cy="438.62" r="2.75"/><circle cx="76.58" cy="438.36" r="2.75"/><circle cx="77.44" cy="438.11" r="2.75"/><circle cx="78.29" cy="437.87" r="2.75"/><circle cx="79.15" cy="437.63" r="2.75"/><circle cx="80" cy="437.39" r="2.75"/><circle cx="80.86" cy="437.15" r="2.75"/><circle cx="81.71" cy="436.92" r="2.75"/><circle cx="82.57" cy="436.63" r="2.75"/><circle cx="83.42" cy="436.35" r="2.75"/><circle cx="84.28" cy="436.06" r="2.75"/><circle cx="85.13" cy="435.76" r="2.75"/><circle cx="85.99" cy="435.43" r="2.75"/><circle cx="86.84" cy="435.11" r="2.75"/><circle cx="87.7" cy="434.78" r="2.75"/><circle cx="88.55" cy="434.46" r="2.75"/><circle cx="89.41" cy="434.15" r="2.75"/><circle cx="90.26" cy="433.85" r="2.75"/><circle cx="91.12" cy="433.56" r="2.75"/><circle cx="91.97" cy="433.26" r="2.75"/><circle cx="92.83" cy="432.97" r="2.75"/><circle cx="93.68" cy="432.67" r="2.75"/><circle cx="94.54" cy="432.38" r="2.75"/><circle cx="95.39" cy="432.06" r="2.75"/><circle cx="96.25" cy="431.71" r="2.75"/><circle cx="97.1" cy="431.35" r="2.75"/><circle cx="97.96" cy="431.01" r="2.75"/><circle cx="98.81" cy="430.69" r="2.75"/><circle cx="99.67" cy="430.36" r="2.75"/><circle cx="100.52" cy="430.04" r="2.75"/><circle cx="101.38" cy="429.71" r="2.75"/><circle cx="102.23" cy="429.38" r="2.75"/><circle cx="103.09" cy="429.05" r="2.75"/><circle cx="103.94" cy="428.73" r="2.75"/><circle cx="104.8" cy="428.42" r="2.75"/><circle cx="105.65" cy="428.11" r="2.75"/><circle cx="106.51" cy="427.8" r="2.75"/><circle cx="107.36" cy="427.46" r="2.75"/><circle cx="108.22" cy="427.11" r="2.75"/><circle cx="109.07" cy="426.76" r="2.75"/><circle cx="109.93" cy="426.46" r="2.75"/><circle cx="110.78" cy="426.19" r="2.75"/><circle cx="111.64" cy="425.93" r="2.75"/><circle cx="112.49" cy="425.67" r="2.75"/><circle cx="113.35" cy="425.34" r="2.75"/><circle cx="114.2" cy="425.01" r="2.75"/><circle cx="115.06" cy="424.68" r="2.75"/><circle cx="115.91" cy="424.35" r="2.75"/><circle cx="116.77" cy="424.01" r="2.75"/><circle cx="117.62" cy="423.68" r="2.75"/><circle cx="118.48" cy="423.34" r="2.75"/><circle cx="119.33" cy="422.98" r="2.75"/><circle cx="120.19" cy="422.63" r="2.75"/><circle cx="121.04" cy="422.31" r="2.75"/><circle cx="121.9" cy="422.01" r="2.75"/><circle cx="122.75" cy="421.72" r="2.75"/></g>
</g>
<rect x="47" y="343.04" width="175.5" height="100.4" fill="none" stroke="#333333" stroke-width="1.0"/>
<g clip-path="url(#cp31)">
<line x1="229.7" x2="405.2" y1="427.96" y2="427.96" stroke="#EBEBEB" stroke-width="0.7"/>
<line x1="229.7" x2="405.2" y1="405.01" y2="405.01" stroke="#EBEBEB" stroke-width="0.7"/>
<line x1="229.7" x2="405.2" y1="382.06" y2="382.06" stroke="#EBEBEB" stroke-width="0.7"/>
<line x1="229.7" x2="405.2" y1="359.11" y2="359.11" stroke="#EBEBEB" stroke-width="0.7"/>
<line x1="296.9" x2="296.9" y1="343.04" y2="443.44" stroke="#EBEBEB" stroke-width="0.7"/>
<line x1="374.71" x2="374.71" y1="343.04" y2="443.44" stroke="#EBEBEB" stroke-width="0.7"/>
<line x1="229.7" x2="405.2" y1="439.44" y2="439.44" stroke="#EBEBEB" stroke-width="1.4"/>
<line x1="229.7" x2="405.2" y1="416.49" y2="416.49" stroke="#EBEBEB" stroke-width="1.4"/>
<line x1="229.7" x2="405.2" y1="393.53" y2="393.53" stroke="#EBEBEB" stroke-width="1.4"/>
<line x1="229.7" x2="405.2" y1="370.58" y2="370.58" stroke="#EBEBEB" stroke-width="1.4"/>
<line x1="229.7" x2="405.2" y1="347.63" y2="347.63" stroke="#EBEBEB" stroke-width="1.4"/>
<line x1="258" x2="258" y1="343.04" y2="443.44" stroke="#EBEBEB" stroke-width="1.4"/>
<line x1="335.81" x2="335.81" y1="343.04" y2="443.44" stroke="#EBEBEB" stroke-width="1.4"/>
<path d="M313.3,426 C313.56,425.95 314.33,425.79 314.85,425.71 C315.36,425.63 315.88,425.59 316.39,425.53 C316.91,425.47 317.42,425.42 317.94,425.37 C318.46,425.32 318.97,425.27 319.49,425.22 C320,425.17 320.52,425.13 321.04,425.09 C321.55,425.04 322.07,425 322.58,424.96 C323.1,424.92 323.61,424.88 324.13,424.84 C324.65,424.8 325.16,424.77 325.68,424.73 C326.2,424.7 326.71,424.66 327.23,424.63 C327.74,424.6 328.26,424.57 328.78,424.54 C329.29,424.51 329.81,424.48 330.32,424.45 C330.84,424.42 331.36,424.39 331.87,424.37 C332.39,424.34 332.91,424.32 333.42,424.29 C333.94,424.27 334.46,424.24 334.97,424.22 C335.49,424.2 336.01,424.18 336.52,424.16 C337.04,424.14 337.55,424.12 338.07,424.1 C338.59,424.08 339.1,424.06 339.62,424.04 C340.14,424.03 340.65,424.01 341.17,423.99 C341.69,423.98 342.2,423.96 342.72,423.95 C343.24,423.93 343.75,423.92 344.27,423.91 C344.79,423.9 345.3,423.88 345.82,423.87 C346.34,423.86 346.86,423.85 347.37,423.84 C347.89,423.83 348.41,423.82 348.92,423.81 C349.44,423.8 349.96,423.79 350.47,423.78 C350.99,423.77 351.51,423.77 352.02,423.76 C352.54,423.75 353.06,423.75 353.57,423.74 C354.09,423.73 354.61,423.73 355.13,423.72 C355.64,423.72 356.16,423.71 356.68,423.71 C357.19,423.7 357.71,423.7 358.23,423.7 C358.74,423.69 359.26,423.69 359.78,423.68 C360.3,423.68 360.81,423.68 361.33,423.68 C361.85,423.67 362.36,423.67 362.88,423.67 C363.4,423.67 363.91,423.66 364.43,423.66 C364.95,423.66 365.47,423.66 365.98,423.66 C366.5,423.66 367.02,423.66 367.53,423.65 C368.05,423.65 368.57,423.65 369.09,423.65 C369.6,423.65 370.12,423.65 370.64,423.65 C371.15,423.65 371.67,423.65 372.19,423.65 C372.7,423.65 373.22,423.65 373.74,423.65 C374.26,423.65 374.77,423.65 375.29,423.64 C375.81,423.64 376.32,423.64 376.84,423.64 C377.36,423.64 377.88,423.64 378.39,423.64 C378.91,423.64 379.43,423.64 379.94,423.64 C380.46,423.64 380.98,423.63 381.49,423.63 C382.01,423.63 382.53,423.63 383.05,423.63 C383.56,423.63 384.08,423.62 384.6,423.62 C385.11,423.62 385.63,423.62 386.15,423.61 C386.66,423.61 387.18,423.61 387.7,423.6 C388.21,423.6 388.73,423.6 389.25,423.59 C389.77,423.59 390.28,423.58 390.8,423.58 C391.32,423.57 391.83,423.57 392.35,423.56 C392.87,423.56 393.38,423.55 393.9,423.54 C394.42,423.54 394.93,423.53 395.45,423.52 C395.97,423.52 396.74,423.5 397,423.5 L397,426.1 C396.74,426.1 395.97,426.1 395.45,426.11 C394.93,426.11 394.42,426.11 393.9,426.11 C393.38,426.11 392.87,426.11 392.35,426.11 C391.83,426.11 391.32,426.11 390.8,426.11 C390.28,426.1 389.77,426.1 389.25,426.1 C388.73,426.1 388.21,426.1 387.7,426.09 C387.18,426.09 386.66,426.09 386.15,426.08 C385.63,426.08 385.11,426.08 384.6,426.07 C384.08,426.07 383.56,426.06 383.05,426.06 C382.53,426.05 382.01,426.05 381.49,426.04 C380.98,426.04 380.46,426.03 379.94,426.03 C379.43,426.02 378.91,426.02 378.39,426.01 C377.88,426 377.36,426 376.84,425.99 C376.32,425.99 375.81,425.98 375.29,425.97 C374.77,425.97 374.26,425.96 373.74,425.95 C373.22,425.95 372.7,425.94 372.19,425.93 C371.67,425.93 371.15,425.92 370.64,425.91 C370.12,425.91 369.6,425.9 369.09,425.89 C368.57,425.89 368.05,425.88 367.53,425.87 C367.02,425.87 366.5,425.86 365.98,425.86 C365.47,425.85 364.95,425.84 364.43,425.84 C363.91,425.83 363.4,425.83 362.88,425.82 C362.36,425.81 361.85,425.81 361.33,425.8 C360.81,425.8 360.3,425.79 359.78,425.79 C359.26,425.78 358.74,425.78 358.23,425.77 C357.71,425.77 357.19,425.77 356.68,425.76 C356.16,425.76 355.64,425.75 355.13,425.75 C354.61,425.75 354.09,425.75 353.57,425.74 C353.06,425.74 352.54,425.74 352.02,425.74 C351.51,425.73 350.99,425.73 350.47,425.73 C349.96,425.73 349.44,425.73 348.92,425.73 C348.41,425.73 347.89,425.73 347.37,425.73 C346.86,425.73 346.34,425.74 345.82,425.74 C345.3,425.74 344.79,425.74 344.27,425.74 C343.75,425.75 343.24,425.75 342.72,425.76 C342.2,425.76 341.69,425.76 341.17,425.77 C340.65,425.77 340.14,425.78 339.62,425.79 C339.1,425.79 338.59,425.8 338.07,425.81 C337.55,425.82 337.04,425.82 336.52,425.83 C336.01,425.84 335.49,425.85 334.97,425.86 C334.46,425.87 333.94,425.89 333.42,425.9 C332.91,425.91 332.39,425.92 331.87,425.94 C331.36,425.95 330.84,425.96 330.32,425.98 C329.81,425.99 329.29,426.01 328.78,426.02 C328.26,426.04 327.74,426.06 327.23,426.08 C326.71,426.09 326.2,426.11 325.68,426.13 C325.16,426.15 324.65,426.17 324.13,426.19 C323.61,426.21 323.1,426.24 322.58,426.26 C322.07,426.28 321.55,426.3 321.04,426.33 C320.52,426.35 320,426.38 319.49,426.4 C318.97,426.43 318.46,426.45 317.94,426.48 C317.42,426.5 316.91,426.53 316.39,426.55 C315.88,426.58 315.36,426.62 314.85,426.62 C314.33,426.63 313.56,426.6 313.3,426.6 Z" fill="#7F7F7F" fill-opacity="0.3"/><path d="M316.14,425.66 C316.43,425.64 317.28,425.57 317.85,425.53 C318.42,425.48 318.99,425.43 319.56,425.39 C320.13,425.35 320.7,425.32 321.27,425.28 C321.84,425.24 322.41,425.21 322.98,425.17 C323.55,425.13 324.12,425.09 324.69,425.06 C325.26,425.02 325.83,424.98 326.4,424.94 C326.97,424.91 327.54,424.88 328.11,424.85 C328.68,424.82 329.25,424.79 329.82,424.77 C330.39,424.74 330.96,424.71 331.53,424.68 C332.1,424.66 332.67,424.63 333.24,424.6 C333.81,424.58 334.38,424.55 334.95,424.52 C335.52,424.49 336.09,424.45 336.66,424.41 C337.23,424.37 337.8,424.33 338.37,424.3 C338.94,424.26 339.51,424.22 340.08,424.18 C340.65,424.15 341.22,424.11 341.79,424.07 C342.36,424.03 343.13,423.98 343.5,423.96 C343.87,423.93 343.93,423.93 344.01,423.92" fill="none" stroke="#5C5C5C" stroke-width="2.1" stroke-linejoin="round" stroke-linecap="round"/><path d="M248.59,439.42 C249.02,439.42 250.31,439.4 251.16,439.38 C252.01,439.36 252.87,439.34 253.72,439.3 C254.58,439.27 255.44,439.25 256.29,439.16 C257.15,439.08 258,438.93 258.86,438.77 C259.71,438.62 260.56,438.44 261.42,438.26 C262.28,438.08 263.13,437.92 263.99,437.7 C264.84,437.49 265.69,437.23 266.55,436.97 C267.41,436.72 268.26,436.46 269.12,436.16 C269.97,435.86 270.82,435.51 271.68,435.18 C272.54,434.84 273.39,434.49 274.25,434.15 C275.1,433.81 275.95,433.45 276.81,433.12 C277.67,432.79 278.52,432.49 279.38,432.18 C280.23,431.87 281.08,431.55 281.94,431.25 C282.8,430.94 283.65,430.62 284.5,430.34 C285.36,430.07 286.21,429.84 287.07,429.6 C287.93,429.37 288.78,429.13 289.63,428.93 C290.49,428.72 291.34,428.54 292.2,428.38 C293.06,428.22 293.91,428.09 294.76,427.96 C295.62,427.84 296.47,427.73 297.33,427.62 C298.19,427.51 299.04,427.4 299.89,427.29 C300.75,427.19 301.6,427.08 302.46,426.98 C303.31,426.88 304.17,426.77 305.02,426.68 C305.88,426.58 306.73,426.49 307.59,426.4 C308.44,426.31 309.2,426.14 310.15,426.13 C311.11,426.11 312.52,426.29 313.3,426.3 C314.08,426.31 314.33,426.21 314.85,426.17 C315.36,426.12 315.88,426.08 316.39,426.04 C316.91,426 317.42,425.96 317.94,425.92 C318.46,425.88 318.97,425.85 319.49,425.81 C320,425.78 320.52,425.74 321.04,425.71 C321.55,425.67 322.07,425.64 322.58,425.61 C323.1,425.58 323.61,425.55 324.13,425.52 C324.65,425.49 325.16,425.46 325.68,425.43 C326.2,425.41 326.71,425.38 327.23,425.35 C327.74,425.33 328.26,425.3 328.78,425.28 C329.29,425.26 329.81,425.23 330.32,425.21 C330.84,425.19 331.36,425.17 331.87,425.15 C332.39,425.13 332.91,425.11 333.42,425.09 C333.94,425.08 334.46,425.06 334.97,425.04 C335.49,425.03 336.01,425.01 336.52,425 C337.04,424.98 337.55,424.97 338.07,424.95 C338.59,424.94 339.1,424.93 339.62,424.92 C340.14,424.9 340.65,424.89 341.17,424.88 C341.69,424.87 342.2,424.86 342.72,424.85 C343.24,424.84 343.75,424.83 344.27,424.83 C344.79,424.82 345.3,424.81 345.82,424.8 C346.34,424.8 346.86,424.79 347.37,424.79 C347.89,424.78 348.41,424.77 348.92,424.77 C349.44,424.77 349.96,424.76 350.47,424.76 C350.99,424.75 351.51,424.75 352.02,424.75 C352.54,424.75 353.06,424.74 353.57,424.74 C354.09,424.74 354.61,424.74 355.13,424.74 C355.64,424.74 356.16,424.74 356.68,424.73 C357.19,424.73 357.71,424.73 358.23,424.73 C358.74,424.73 359.26,424.74 359.78,424.74 C360.3,424.74 360.81,424.74 361.33,424.74 C361.85,424.74 362.36,424.74 362.88,424.74 C363.4,424.75 363.91,424.75 364.43,424.75 C364.95,424.75 365.47,424.75 365.98,424.76 C366.5,424.76 367.02,424.76 367.53,424.76 C368.05,424.77 368.57,424.77 369.09,424.77 C369.6,424.78 370.12,424.78 370.64,424.78 C371.15,424.78 371.67,424.79 372.19,424.79 C372.7,424.79 373.22,424.8 373.74,424.8 C374.26,424.8 374.77,424.81 375.29,424.81 C375.81,424.81 376.32,424.81 376.84,424.82 C377.36,424.82 377.88,424.82 378.39,424.82 C378.91,424.83 379.43,424.83 379.94,424.83 C380.46,424.83 380.98,424.84 381.49,424.84 C382.01,424.84 382.53,424.84 383.05,424.84 C383.56,424.84 384.08,424.85 384.6,424.85 C385.11,424.85 385.63,424.85 386.15,424.85 C386.66,424.85 387.18,424.85 387.7,424.85 C388.21,424.85 388.73,424.85 389.25,424.85 C389.77,424.85 390.28,424.84 390.8,424.84 C391.32,424.84 391.83,424.84 392.35,424.84 C392.87,424.83 393.38,424.83 393.9,424.83 C394.42,424.82 394.93,424.82 395.45,424.81 C395.97,424.81 396.74,424.8 397,424.8" fill="none" stroke="#000" stroke-width="1.6" stroke-linejoin="round" stroke-linecap="round"/><g fill="#000" fill-opacity="0.32"><circle cx="247.74" cy="439.44" r="2.75"/><circle cx="248.59" cy="439.42" r="2.75"/><circle cx="249.45" cy="439.41" r="2.75"/><circle cx="250.31" cy="439.39" r="2.75"/><circle cx="251.16" cy="439.38" r="2.75"/><circle cx="252.01" cy="439.36" r="2.75"/><circle cx="252.87" cy="439.35" r="2.75"/><circle cx="253.72" cy="439.3" r="2.75"/><circle cx="254.58" cy="439.26" r="2.75"/><circle cx="255.44" cy="439.21" r="2.75"/><circle cx="256.29" cy="439.16" r="2.75"/><circle cx="257.14" cy="439.12" r="2.75"/><circle cx="258" cy="438.95" r="2.75"/><circle cx="258.86" cy="438.77" r="2.75"/><circle cx="259.71" cy="438.6" r="2.75"/><circle cx="260.56" cy="438.43" r="2.75"/><circle cx="261.42" cy="438.26" r="2.75"/><circle cx="262.27" cy="438.08" r="2.75"/><circle cx="263.13" cy="437.89" r="2.75"/><circle cx="263.99" cy="437.7" r="2.75"/><circle cx="264.84" cy="437.51" r="2.75"/><circle cx="265.69" cy="437.24" r="2.75"/><circle cx="266.55" cy="436.97" r="2.75"/><circle cx="267.4" cy="436.7" r="2.75"/><circle cx="268.26" cy="436.43" r="2.75"/><circle cx="269.12" cy="436.16" r="2.75"/><circle cx="269.97" cy="435.84" r="2.75"/><circle cx="270.82" cy="435.51" r="2.75"/><circle cx="271.68" cy="435.18" r="2.75"/><circle cx="272.54" cy="434.85" r="2.75"/><circle cx="273.39" cy="434.5" r="2.75"/><circle cx="274.25" cy="434.15" r="2.75"/><circle cx="275.1" cy="433.8" r="2.75"/><circle cx="275.95" cy="433.45" r="2.75"/><circle cx="276.81" cy="433.12" r="2.75"/><circle cx="277.67" cy="432.8" r="2.75"/><circle cx="278.52" cy="432.49" r="2.75"/><circle cx="279.38" cy="432.18" r="2.75"/><circle cx="280.23" cy="431.87" r="2.75"/><circle cx="281.08" cy="431.56" r="2.75"/><circle cx="281.94" cy="431.25" r="2.75"/><circle cx="282.8" cy="430.94" r="2.75"/><circle cx="283.65" cy="430.63" r="2.75"/><circle cx="284.5" cy="430.34" r="2.75"/><circle cx="285.36" cy="430.1" r="2.75"/><circle cx="286.21" cy="429.85" r="2.75"/><circle cx="287.07" cy="429.6" r="2.75"/><circle cx="287.93" cy="429.36" r="2.75"/><circle cx="288.78" cy="429.11" r="2.75"/><circle cx="289.63" cy="428.93" r="2.75"/><circle cx="290.49" cy="428.74" r="2.75"/><circle cx="291.35" cy="428.56" r="2.75"/><circle cx="292.2" cy="428.38" r="2.75"/><circle cx="293.06" cy="428.19" r="2.75"/><circle cx="293.91" cy="428.08" r="2.75"/><circle cx="294.76" cy="427.96" r="2.75"/><circle cx="295.62" cy="427.85" r="2.75"/><circle cx="296.48" cy="427.73" r="2.75"/><circle cx="297.33" cy="427.62" r="2.75"/><circle cx="298.19" cy="427.5" r="2.75"/><circle cx="299.04" cy="427.4" r="2.75"/><circle cx="299.89" cy="427.29" r="2.75"/><circle cx="300.75" cy="427.19" r="2.75"/><circle cx="301.61" cy="427.08" r="2.75"/><circle cx="302.46" cy="426.98" r="2.75"/><circle cx="303.31" cy="426.88" r="2.75"/><circle cx="304.17" cy="426.77" r="2.75"/><circle cx="305.02" cy="426.68" r="2.75"/><circle cx="305.88" cy="426.59" r="2.75"/><circle cx="306.74" cy="426.49" r="2.75"/><circle cx="307.59" cy="426.4" r="2.75"/><circle cx="308.44" cy="426.31" r="2.75"/><circle cx="309.3" cy="426.22" r="2.75"/><circle cx="310.15" cy="426.13" r="2.75"/><circle cx="311.01" cy="426.06" r="2.75"/><circle cx="311.87" cy="425.99" r="2.75"/><circle cx="312.72" cy="425.93" r="2.75"/><circle cx="313.57" cy="425.86" r="2.75"/><circle cx="314.43" cy="425.79" r="2.75"/><circle cx="315.28" cy="425.73" r="2.75"/><circle cx="316.14" cy="425.66" r="2.75"/></g>
</g>
<rect x="229.7" y="343.04" width="175.5" height="100.4" fill="none" stroke="#333333" stroke-width="1.0"/>
<g clip-path="url(#cp32)">
<line x1="412.4" x2="587.9" y1="427.96" y2="427.96" stroke="#EBEBEB" stroke-width="0.7"/>
<line x1="412.4" x2="587.9" y1="405.01" y2="405.01" stroke="#EBEBEB" stroke-width="0.7"/>
<line x1="412.4" x2="587.9" y1="382.06" y2="382.06" stroke="#EBEBEB" stroke-width="0.7"/>
<line x1="412.4" x2="587.9" y1="359.11" y2="359.11" stroke="#EBEBEB" stroke-width="0.7"/>
<line x1="479.6" x2="479.6" y1="343.04" y2="443.44" stroke="#EBEBEB" stroke-width="0.7"/>
<line x1="557.41" x2="557.41" y1="343.04" y2="443.44" stroke="#EBEBEB" stroke-width="0.7"/>
<line x1="412.4" x2="587.9" y1="439.44" y2="439.44" stroke="#EBEBEB" stroke-width="1.4"/>
<line x1="412.4" x2="587.9" y1="416.49" y2="416.49" stroke="#EBEBEB" stroke-width="1.4"/>
<line x1="412.4" x2="587.9" y1="393.53" y2="393.53" stroke="#EBEBEB" stroke-width="1.4"/>
<line x1="412.4" x2="587.9" y1="370.58" y2="370.58" stroke="#EBEBEB" stroke-width="1.4"/>
<line x1="412.4" x2="587.9" y1="347.63" y2="347.63" stroke="#EBEBEB" stroke-width="1.4"/>
<line x1="440.7" x2="440.7" y1="343.04" y2="443.44" stroke="#EBEBEB" stroke-width="1.4"/>
<line x1="518.5" x2="518.5" y1="343.04" y2="443.44" stroke="#EBEBEB" stroke-width="1.4"/>
<path d="M486.9,433 C487.15,432.97 487.92,432.87 488.43,432.79 C488.94,432.71 489.45,432.62 489.96,432.53 C490.47,432.44 490.98,432.36 491.48,432.28 C491.99,432.19 492.5,432.11 493.01,432.03 C493.52,431.94 494.03,431.86 494.54,431.78 C495.05,431.7 495.56,431.61 496.07,431.53 C496.58,431.45 497.09,431.37 497.6,431.29 C498.11,431.21 498.62,431.13 499.13,431.05 C499.64,430.97 500.15,430.89 500.66,430.81 C501.17,430.73 501.68,430.65 502.19,430.57 C502.7,430.49 503.21,430.41 503.72,430.33 C504.23,430.25 504.74,430.18 505.25,430.1 C505.76,430.02 506.27,429.94 506.78,429.87 C507.29,429.79 507.8,429.71 508.31,429.64 C508.82,429.56 509.33,429.49 509.84,429.41 C510.35,429.33 510.86,429.26 511.37,429.19 C511.88,429.11 512.39,429.04 512.9,428.96 C513.41,428.89 513.93,428.82 514.44,428.75 C514.95,428.67 515.46,428.6 515.97,428.53 C516.48,428.46 516.99,428.39 517.5,428.32 C518.01,428.25 518.52,428.18 519.03,428.11 C519.55,428.04 520.06,427.97 520.57,427.91 C521.08,427.84 521.59,427.77 522.1,427.71 C522.61,427.64 523.12,427.58 523.64,427.51 C524.15,427.45 524.66,427.38 525.17,427.32 C525.68,427.26 526.19,427.19 526.7,427.13 C527.22,427.07 527.73,427.01 528.24,426.95 C528.75,426.89 529.26,426.83 529.78,426.77 C530.29,426.72 530.8,426.66 531.31,426.6 C531.82,426.55 532.34,426.49 532.85,426.44 C533.36,426.38 533.87,426.33 534.39,426.27 C534.9,426.22 535.41,426.17 535.92,426.12 C536.44,426.07 536.95,426.02 537.46,425.97 C537.97,425.92 538.49,425.87 539,425.83 C539.51,425.78 540.03,425.74 540.54,425.69 C541.05,425.65 541.57,425.6 542.08,425.56 C542.59,425.52 543.11,425.48 543.62,425.44 C544.13,425.4 544.65,425.36 545.16,425.32 C545.67,425.29 546.19,425.25 546.7,425.21 C547.22,425.18 547.73,425.15 548.24,425.11 C548.76,425.08 549.27,425.05 549.79,425.02 C550.3,424.99 550.82,424.96 551.33,424.94 C551.84,424.91 552.36,424.88 552.87,424.86 C553.39,424.83 553.9,424.81 554.42,424.79 C554.93,424.77 555.45,424.75 555.96,424.73 C556.48,424.71 556.99,424.69 557.51,424.68 C558.02,424.66 558.54,424.65 559.06,424.63 C559.57,424.62 560.09,424.61 560.6,424.6 C561.12,424.59 561.63,424.58 562.15,424.58 C562.67,424.57 563.18,424.56 563.7,424.56 C564.22,424.56 564.73,424.56 565.25,424.56 C565.76,424.56 566.28,424.56 566.8,424.56 C567.31,424.56 567.83,424.57 568.35,424.58 C568.87,424.58 569.64,424.6 569.9,424.6 L569.9,426.2 C569.64,426.19 568.87,426.17 568.35,426.16 C567.83,426.15 567.31,426.14 566.8,426.14 C566.28,426.13 565.76,426.13 565.25,426.12 C564.73,426.12 564.22,426.12 563.7,426.11 C563.18,426.11 562.67,426.12 562.15,426.12 C561.63,426.12 561.12,426.12 560.6,426.13 C560.09,426.14 559.57,426.14 559.06,426.15 C558.54,426.16 558.02,426.17 557.51,426.18 C556.99,426.2 556.48,426.21 555.96,426.22 C555.45,426.24 554.93,426.25 554.42,426.27 C553.9,426.29 553.39,426.31 552.87,426.33 C552.36,426.35 551.84,426.37 551.33,426.39 C550.82,426.42 550.3,426.44 549.79,426.47 C549.27,426.49 548.76,426.52 548.24,426.55 C547.73,426.57 547.22,426.6 546.7,426.63 C546.19,426.66 545.67,426.7 545.16,426.73 C544.65,426.76 544.13,426.8 543.62,426.83 C543.11,426.87 542.59,426.9 542.08,426.94 C541.57,426.98 541.05,427.02 540.54,427.06 C540.03,427.1 539.51,427.14 539,427.18 C538.49,427.22 537.97,427.26 537.46,427.31 C536.95,427.35 536.44,427.4 535.92,427.44 C535.41,427.49 534.9,427.53 534.39,427.58 C533.87,427.63 533.36,427.68 532.85,427.73 C532.34,427.78 531.82,427.83 531.31,427.88 C530.8,427.93 530.29,427.98 529.78,428.04 C529.26,428.09 528.75,428.14 528.24,428.2 C527.73,428.25 527.22,428.31 526.7,428.36 C526.19,428.42 525.68,428.48 525.17,428.53 C524.66,428.59 524.15,428.65 523.64,428.71 C523.12,428.77 522.61,428.83 522.1,428.89 C521.59,428.95 521.08,429.01 520.57,429.07 C520.06,429.13 519.55,429.2 519.03,429.26 C518.52,429.32 518.01,429.38 517.5,429.45 C516.99,429.51 516.48,429.58 515.97,429.64 C515.46,429.71 514.95,429.77 514.44,429.84 C513.93,429.9 513.41,429.97 512.9,430.04 C512.39,430.1 511.88,430.17 511.37,430.24 C510.86,430.3 510.35,430.37 509.84,430.44 C509.33,430.51 508.82,430.58 508.31,430.65 C507.8,430.72 507.29,430.78 506.78,430.85 C506.27,430.92 505.76,430.99 505.25,431.06 C504.74,431.13 504.23,431.2 503.72,431.27 C503.21,431.34 502.7,431.41 502.19,431.48 C501.68,431.55 501.17,431.62 500.66,431.7 C500.15,431.77 499.64,431.84 499.13,431.91 C498.62,431.98 498.11,432.05 497.6,432.12 C497.09,432.19 496.58,432.26 496.07,432.33 C495.56,432.4 495.05,432.47 494.54,432.54 C494.03,432.61 493.52,432.68 493.01,432.75 C492.5,432.82 491.99,432.89 491.48,432.96 C490.98,433.03 490.47,433.09 489.96,433.16 C489.45,433.23 488.94,433.28 488.43,433.35 C487.92,433.43 487.15,433.56 486.9,433.6 Z" fill="#7F7F7F" fill-opacity="0.3"/><path d="M488.49,433 C488.78,432.91 489.63,432.64 490.2,432.47 C490.77,432.29 491.34,432.12 491.91,431.95 C492.48,431.78 493.05,431.61 493.62,431.45 C494.19,431.3 494.76,431.15 495.33,431.01 C495.9,430.88 496.47,430.78 497.04,430.64 C497.61,430.51 498.18,430.37 498.75,430.21 C499.32,430.05 499.89,429.87 500.46,429.69 C501.03,429.51 501.6,429.36 502.17,429.13 C502.74,428.89 503.31,428.56 503.88,428.3 C504.45,428.05 505.02,427.82 505.59,427.59 C506.16,427.36 506.73,427.14 507.3,426.92 C507.87,426.7 508.44,426.47 509.01,426.25 C509.58,426.03 510.15,425.82 510.72,425.61 C511.29,425.39 511.86,425.18 512.43,424.97 C513,424.75 513.57,424.49 514.14,424.32 C514.71,424.15 515.28,424.07 515.85,423.94 C516.42,423.82 516.99,423.7 517.56,423.57 C518.13,423.45 518.7,423.32 519.27,423.19 C519.84,423.07 520.41,422.96 520.98,422.82 C521.55,422.68 522.12,422.52 522.69,422.36 C523.26,422.2 523.83,422.02 524.4,421.85 C524.97,421.68 525.73,421.46 526.11,421.35 C526.5,421.23 526.61,421.2 526.71,421.17" fill="none" stroke="#5C5C5C" stroke-width="2.1" stroke-linejoin="round" stroke-linecap="round"/><path d="M420.09,439.44 C420.52,439.43 421.8,439.42 422.66,439.41 C423.51,439.39 424.37,439.38 425.22,439.37 C426.08,439.36 426.93,439.35 427.79,439.33 C428.64,439.32 429.5,439.31 430.35,439.29 C431.21,439.27 432.06,439.26 432.92,439.23 C433.77,439.21 434.63,439.18 435.48,439.15 C436.34,439.13 437.19,439.11 438.05,439.08 C438.9,439.04 439.76,439 440.61,438.96 C441.47,438.92 442.32,438.88 443.18,438.84 C444.03,438.79 444.89,438.75 445.74,438.7 C446.6,438.65 447.45,438.59 448.31,438.54 C449.16,438.48 450.02,438.43 450.87,438.37 C451.73,438.31 452.58,438.25 453.44,438.19 C454.29,438.13 455.15,438.07 456,438.01 C456.86,437.95 457.71,437.88 458.57,437.82 C459.42,437.75 460.28,437.68 461.13,437.61 C461.99,437.54 462.84,437.48 463.7,437.4 C464.55,437.32 465.41,437.23 466.26,437.13 C467.12,437.04 467.97,436.93 468.83,436.82 C469.68,436.72 470.54,436.63 471.39,436.51 C472.25,436.4 473.1,436.26 473.96,436.14 C474.81,436.01 475.67,435.88 476.52,435.75 C477.38,435.62 478.23,435.51 479.09,435.36 C479.94,435.21 480.8,435.04 481.65,434.87 C482.51,434.69 483.35,434.58 484.22,434.32 C485.09,434.06 486.2,433.51 486.9,433.3 C487.6,433.09 487.92,433.15 488.43,433.07 C488.94,433 489.45,432.92 489.96,432.84 C490.47,432.77 490.98,432.69 491.48,432.62 C491.99,432.54 492.5,432.46 493.01,432.39 C493.52,432.31 494.03,432.24 494.54,432.16 C495.05,432.08 495.56,432.01 496.07,431.93 C496.58,431.86 497.09,431.78 497.6,431.7 C498.11,431.63 498.62,431.55 499.13,431.48 C499.64,431.4 500.15,431.33 500.66,431.25 C501.17,431.18 501.68,431.1 502.19,431.03 C502.7,430.95 503.21,430.88 503.72,430.8 C504.23,430.73 504.74,430.65 505.25,430.58 C505.76,430.51 506.27,430.43 506.78,430.36 C507.29,430.29 507.8,430.21 508.31,430.14 C508.82,430.07 509.33,430 509.84,429.93 C510.35,429.85 510.86,429.78 511.37,429.71 C511.88,429.64 512.39,429.57 512.9,429.5 C513.41,429.43 513.93,429.36 514.44,429.29 C514.95,429.22 515.46,429.15 515.97,429.09 C516.48,429.02 516.99,428.95 517.5,428.88 C518.01,428.82 518.52,428.75 519.03,428.68 C519.55,428.62 520.06,428.55 520.57,428.49 C521.08,428.42 521.59,428.36 522.1,428.3 C522.61,428.23 523.12,428.17 523.64,428.11 C524.15,428.05 524.66,427.99 525.17,427.93 C525.68,427.87 526.19,427.81 526.7,427.75 C527.22,427.69 527.73,427.63 528.24,427.57 C528.75,427.52 529.26,427.46 529.78,427.4 C530.29,427.35 530.8,427.29 531.31,427.24 C531.82,427.19 532.34,427.13 532.85,427.08 C533.36,427.03 533.87,426.98 534.39,426.93 C534.9,426.88 535.41,426.83 535.92,426.78 C536.44,426.73 536.95,426.68 537.46,426.64 C537.97,426.59 538.49,426.55 539,426.5 C539.51,426.46 540.03,426.42 540.54,426.37 C541.05,426.33 541.57,426.29 542.08,426.25 C542.59,426.21 543.11,426.17 543.62,426.14 C544.13,426.1 544.65,426.06 545.16,426.03 C545.67,425.99 546.19,425.96 546.7,425.92 C547.22,425.89 547.73,425.86 548.24,425.83 C548.76,425.8 549.27,425.77 549.79,425.74 C550.3,425.72 550.82,425.69 551.33,425.66 C551.84,425.64 552.36,425.62 552.87,425.59 C553.39,425.57 553.9,425.55 554.42,425.53 C554.93,425.51 555.45,425.49 555.96,425.48 C556.48,425.46 556.99,425.44 557.51,425.43 C558.02,425.42 558.54,425.4 559.06,425.39 C559.57,425.38 560.09,425.37 560.6,425.37 C561.12,425.36 561.63,425.35 562.15,425.35 C562.67,425.34 563.18,425.34 563.7,425.34 C564.22,425.34 564.73,425.34 565.25,425.34 C565.76,425.34 566.28,425.34 566.8,425.35 C567.31,425.35 567.83,425.36 568.35,425.37 C568.87,425.38 569.64,425.4 569.9,425.4" fill="none" stroke="#000" stroke-width="1.6" stroke-linejoin="round" stroke-linecap="round"/><g fill="#000" fill-opacity="0.32"><circle cx="420.09" cy="439.44" r="2.75"/><circle cx="427.02" cy="439.35" r="2.75"/><circle cx="430.01" cy="439.29" r="2.75"/><circle cx="430.87" cy="439.28" r="2.75"/><circle cx="431.72" cy="439.26" r="2.75"/><circle cx="432.58" cy="439.24" r="2.75"/><circle cx="433.43" cy="439.22" r="2.75"/><circle cx="434.29" cy="439.19" r="2.75"/><circle cx="435.14" cy="439.16" r="2.75"/><circle cx="436" cy="439.14" r="2.75"/><circle cx="436.85" cy="439.11" r="2.75"/><circle cx="437.71" cy="439.09" r="2.75"/><circle cx="438.56" cy="439.05" r="2.75"/><circle cx="439.42" cy="439.01" r="2.75"/><circle cx="440.27" cy="438.97" r="2.75"/><circle cx="441.13" cy="438.93" r="2.75"/><circle cx="441.98" cy="438.89" r="2.75"/><circle cx="442.84" cy="438.85" r="2.75"/><circle cx="443.69" cy="438.81" r="2.75"/><circle cx="444.55" cy="438.77" r="2.75"/><circle cx="445.4" cy="438.72" r="2.75"/><circle cx="446.26" cy="438.67" r="2.75"/><circle cx="447.11" cy="438.61" r="2.75"/><circle cx="447.97" cy="438.56" r="2.75"/><circle cx="448.82" cy="438.5" r="2.75"/><circle cx="449.68" cy="438.45" r="2.75"/><circle cx="450.53" cy="438.39" r="2.75"/><circle cx="451.39" cy="438.34" r="2.75"/><circle cx="452.24" cy="438.28" r="2.75"/><circle cx="453.1" cy="438.22" r="2.75"/><circle cx="453.95" cy="438.15" r="2.75"/><circle cx="454.81" cy="438.09" r="2.75"/><circle cx="455.66" cy="438.03" r="2.75"/><circle cx="456.52" cy="437.97" r="2.75"/><circle cx="457.37" cy="437.91" r="2.75"/><circle cx="458.23" cy="437.84" r="2.75"/><circle cx="459.08" cy="437.78" r="2.75"/><circle cx="459.94" cy="437.71" r="2.75"/><circle cx="460.79" cy="437.64" r="2.75"/><circle cx="461.65" cy="437.57" r="2.75"/><circle cx="462.5" cy="437.5" r="2.75"/><circle cx="463.36" cy="437.43" r="2.75"/><circle cx="464.21" cy="437.36" r="2.75"/><circle cx="465.07" cy="437.28" r="2.75"/><circle cx="465.92" cy="437.17" r="2.75"/><circle cx="466.78" cy="437.07" r="2.75"/><circle cx="467.63" cy="436.97" r="2.75"/><circle cx="468.49" cy="436.86" r="2.75"/><circle cx="469.34" cy="436.76" r="2.75"/><circle cx="470.2" cy="436.66" r="2.75"/><circle cx="471.05" cy="436.55" r="2.75"/><circle cx="471.91" cy="436.44" r="2.75"/><circle cx="472.76" cy="436.31" r="2.75"/><circle cx="473.62" cy="436.19" r="2.75"/><circle cx="474.47" cy="436.06" r="2.75"/><circle cx="475.33" cy="435.93" r="2.75"/><circle cx="476.18" cy="435.8" r="2.75"/><circle cx="477.04" cy="435.67" r="2.75"/><circle cx="477.89" cy="435.54" r="2.75"/><circle cx="478.75" cy="435.41" r="2.75"/><circle cx="479.6" cy="435.28" r="2.75"/><circle cx="480.46" cy="435.12" r="2.75"/><circle cx="481.31" cy="434.94" r="2.75"/><circle cx="482.17" cy="434.76" r="2.75"/><circle cx="483.02" cy="434.57" r="2.75"/><circle cx="483.88" cy="434.39" r="2.75"/><circle cx="484.73" cy="434.17" r="2.75"/><circle cx="485.59" cy="433.91" r="2.75"/><circle cx="486.44" cy="433.64" r="2.75"/><circle cx="487.3" cy="433.38" r="2.75"/><circle cx="488.15" cy="433.11" r="2.75"/></g>
</g>
<rect x="412.4" y="343.04" width="175.5" height="100.4" fill="none" stroke="#333333" stroke-width="1.0"/>
<g clip-path="url(#cp40)">
<line x1="47" x2="222.5" y1="535.34" y2="535.34" stroke="#EBEBEB" stroke-width="0.7"/>
<line x1="47" x2="222.5" y1="512.39" y2="512.39" stroke="#EBEBEB" stroke-width="0.7"/>
<line x1="47" x2="222.5" y1="489.44" y2="489.44" stroke="#EBEBEB" stroke-width="0.7"/>
<line x1="47" x2="222.5" y1="466.49" y2="466.49" stroke="#EBEBEB" stroke-width="0.7"/>
<line x1="114.2" x2="114.2" y1="450.42" y2="550.82" stroke="#EBEBEB" stroke-width="0.7"/>
<line x1="192.01" x2="192.01" y1="450.42" y2="550.82" stroke="#EBEBEB" stroke-width="0.7"/>
<line x1="47" x2="222.5" y1="546.82" y2="546.82" stroke="#EBEBEB" stroke-width="1.4"/>
<line x1="47" x2="222.5" y1="523.87" y2="523.87" stroke="#EBEBEB" stroke-width="1.4"/>
<line x1="47" x2="222.5" y1="500.91" y2="500.91" stroke="#EBEBEB" stroke-width="1.4"/>
<line x1="47" x2="222.5" y1="477.96" y2="477.96" stroke="#EBEBEB" stroke-width="1.4"/>
<line x1="47" x2="222.5" y1="455.01" y2="455.01" stroke="#EBEBEB" stroke-width="1.4"/>
<line x1="75.3" x2="75.3" y1="450.42" y2="550.82" stroke="#EBEBEB" stroke-width="1.4"/>
<line x1="153.1" x2="153.1" y1="450.42" y2="550.82" stroke="#EBEBEB" stroke-width="1.4"/>
<path d="M138.3,521.5 C138.55,521.35 139.3,520.81 139.8,520.58 C140.3,520.34 140.8,520.23 141.3,520.07 C141.8,519.91 142.3,519.76 142.81,519.62 C143.31,519.47 143.81,519.33 144.32,519.19 C144.82,519.06 145.32,518.93 145.83,518.8 C146.33,518.68 146.84,518.56 147.34,518.44 C147.85,518.32 148.36,518.21 148.86,518.1 C149.37,517.99 149.88,517.88 150.39,517.78 C150.89,517.68 151.4,517.58 151.91,517.49 C152.42,517.39 152.93,517.3 153.44,517.21 C153.95,517.13 154.46,517.04 154.97,516.96 C155.48,516.88 155.99,516.8 156.5,516.72 C157.01,516.65 157.53,516.58 158.04,516.51 C158.55,516.44 159.06,516.37 159.58,516.31 C160.09,516.24 160.6,516.18 161.12,516.12 C161.63,516.06 162.14,516.01 162.66,515.95 C163.17,515.9 163.69,515.85 164.2,515.8 C164.72,515.75 165.23,515.7 165.75,515.66 C166.26,515.61 166.78,515.57 167.29,515.53 C167.81,515.49 168.33,515.45 168.84,515.41 C169.36,515.38 169.87,515.34 170.39,515.31 C170.91,515.28 171.42,515.24 171.94,515.22 C172.46,515.19 172.98,515.16 173.49,515.13 C174.01,515.1 174.53,515.08 175.04,515.06 C175.56,515.03 176.08,515.01 176.6,514.99 C177.12,514.97 177.63,514.95 178.15,514.93 C178.67,514.91 179.19,514.9 179.7,514.88 C180.22,514.86 180.74,514.85 181.26,514.83 C181.78,514.82 182.29,514.81 182.81,514.79 C183.33,514.78 183.85,514.77 184.37,514.76 C184.88,514.75 185.4,514.74 185.92,514.73 C186.44,514.72 186.96,514.71 187.47,514.7 C187.99,514.69 188.51,514.68 189.03,514.67 C189.54,514.67 190.06,514.66 190.58,514.65 C191.1,514.64 191.61,514.64 192.13,514.63 C192.65,514.62 193.16,514.61 193.68,514.61 C194.2,514.6 194.71,514.59 195.23,514.58 C195.75,514.58 196.26,514.57 196.78,514.56 C197.3,514.55 197.81,514.54 198.33,514.53 C198.84,514.52 199.36,514.52 199.87,514.51 C200.39,514.5 200.9,514.49 201.42,514.47 C201.93,514.46 202.45,514.45 202.96,514.44 C203.47,514.43 204.24,514.41 204.5,514.4 L204.5,518.8 C204.24,518.8 203.47,518.8 202.96,518.8 C202.45,518.8 201.93,518.8 201.42,518.8 C200.9,518.79 200.39,518.79 199.87,518.79 C199.36,518.78 198.84,518.78 198.33,518.78 C197.81,518.77 197.3,518.77 196.78,518.76 C196.26,518.76 195.75,518.75 195.23,518.74 C194.71,518.74 194.2,518.73 193.68,518.72 C193.16,518.72 192.65,518.71 192.13,518.7 C191.61,518.7 191.1,518.69 190.58,518.68 C190.06,518.68 189.54,518.67 189.03,518.66 C188.51,518.66 187.99,518.65 187.47,518.64 C186.96,518.64 186.44,518.63 185.92,518.63 C185.4,518.62 184.88,518.62 184.37,518.61 C183.85,518.61 183.33,518.6 182.81,518.6 C182.29,518.6 181.78,518.59 181.26,518.59 C180.74,518.59 180.22,518.59 179.7,518.59 C179.19,518.59 178.67,518.59 178.15,518.59 C177.63,518.59 177.12,518.6 176.6,518.6 C176.08,518.6 175.56,518.61 175.04,518.62 C174.53,518.62 174.01,518.63 173.49,518.64 C172.98,518.65 172.46,518.66 171.94,518.67 C171.42,518.68 170.91,518.69 170.39,518.71 C169.87,518.72 169.36,518.74 168.84,518.75 C168.33,518.77 167.81,518.79 167.29,518.81 C166.78,518.83 166.26,518.86 165.75,518.88 C165.23,518.91 164.72,518.93 164.2,518.96 C163.69,518.99 163.17,519.02 162.66,519.05 C162.14,519.09 161.63,519.12 161.12,519.16 C160.6,519.2 160.09,519.24 159.58,519.28 C159.06,519.32 158.55,519.36 158.04,519.41 C157.53,519.45 157.01,519.5 156.5,519.55 C155.99,519.61 155.48,519.66 154.97,519.72 C154.46,519.77 153.95,519.83 153.44,519.89 C152.93,519.95 152.42,520.02 151.91,520.08 C151.4,520.15 150.89,520.22 150.39,520.29 C149.88,520.36 149.37,520.44 148.86,520.52 C148.36,520.59 147.85,520.67 147.34,520.76 C146.84,520.84 146.33,520.93 145.83,521.02 C145.32,521.1 144.82,521.2 144.32,521.29 C143.81,521.38 143.31,521.48 142.81,521.58 C142.3,521.67 141.8,521.78 141.3,521.88 C140.8,521.97 140.3,522.14 139.8,522.17 C139.3,522.21 138.55,522.11 138.3,522.1 Z" fill="#7F7F7F" fill-opacity="0.3"/><path d="M140.02,520.77 C140.31,520.64 141.16,520.23 141.73,519.97 C142.3,519.7 142.87,519.43 143.44,519.17 C144.01,518.9 144.58,518.64 145.15,518.38 C145.72,518.11 146.29,517.84 146.86,517.59 C147.43,517.34 148,517.12 148.57,516.88 C149.14,516.65 149.71,516.4 150.28,516.18 C150.85,515.96 151.42,515.75 151.99,515.57 C152.56,515.38 153.13,515.22 153.7,515.08 C154.27,514.94 154.84,514.83 155.41,514.71 C155.98,514.59 156.55,514.49 157.12,514.36 C157.69,514.22 158.26,514.06 158.83,513.91 C159.4,513.75 160.14,513.55 160.54,513.45 C160.94,513.34 161.11,513.29 161.23,513.26" fill="none" stroke="#5C5C5C" stroke-width="2.1" stroke-linejoin="round" stroke-linecap="round"/><path d="M54.52,546.82 C54.95,546.82 56.23,546.82 57.09,546.82 C57.94,546.82 58.8,546.82 59.65,546.82 C60.51,546.82 61.36,546.82 62.22,546.81 C63.07,546.8 63.93,546.8 64.78,546.78 C65.64,546.76 66.49,546.72 67.35,546.68 C68.2,546.64 69.06,546.61 69.91,546.56 C70.77,546.51 71.62,546.46 72.48,546.4 C73.33,546.33 74.19,546.32 75.04,546.16 C75.9,546 76.75,545.68 77.61,545.44 C78.46,545.2 79.32,544.97 80.17,544.72 C81.03,544.48 81.88,544.23 82.74,543.95 C83.59,543.68 84.45,543.38 85.3,543.07 C86.16,542.76 87.01,542.42 87.87,542.1 C88.72,541.78 89.58,541.48 90.43,541.17 C91.29,540.87 92.14,540.59 93,540.29 C93.85,539.99 94.71,539.69 95.56,539.37 C96.42,539.04 97.27,538.66 98.13,538.33 C98.98,537.99 99.84,537.68 100.69,537.35 C101.55,537.02 102.4,536.68 103.26,536.36 C104.11,536.04 104.97,535.75 105.82,535.42 C106.68,535.1 107.53,534.74 108.39,534.42 C109.24,534.1 110.1,533.81 110.95,533.52 C111.81,533.23 112.66,532.96 113.52,532.66 C114.37,532.35 115.23,532 116.08,531.66 C116.94,531.33 117.79,530.99 118.65,530.65 C119.5,530.31 120.36,529.98 121.21,529.63 C122.07,529.28 122.92,528.98 123.78,528.57 C124.63,528.16 125.49,527.61 126.34,527.17 C127.2,526.72 128.05,526.29 128.91,525.89 C129.76,525.49 130.62,525.13 131.47,524.76 C132.33,524.4 132.9,524.21 134.04,523.71 C135.18,523.22 137.34,522.19 138.3,521.8 C139.26,521.41 139.3,521.51 139.8,521.37 C140.3,521.24 140.8,521.1 141.3,520.97 C141.8,520.84 142.3,520.72 142.81,520.6 C143.31,520.47 143.81,520.36 144.32,520.24 C144.82,520.13 145.32,520.02 145.83,519.91 C146.33,519.8 146.84,519.7 147.34,519.6 C147.85,519.5 148.36,519.4 148.86,519.31 C149.37,519.21 149.88,519.12 150.39,519.04 C150.89,518.95 151.4,518.87 151.91,518.79 C152.42,518.7 152.93,518.63 153.44,518.55 C153.95,518.48 154.46,518.41 154.97,518.34 C155.48,518.27 155.99,518.2 156.5,518.14 C157.01,518.08 157.53,518.02 158.04,517.96 C158.55,517.9 159.06,517.84 159.58,517.79 C160.09,517.74 160.6,517.69 161.12,517.64 C161.63,517.59 162.14,517.55 162.66,517.5 C163.17,517.46 163.69,517.42 164.2,517.38 C164.72,517.34 165.23,517.3 165.75,517.27 C166.26,517.23 166.78,517.2 167.29,517.17 C167.81,517.14 168.33,517.11 168.84,517.08 C169.36,517.06 169.87,517.03 170.39,517.01 C170.91,516.98 171.42,516.96 171.94,516.94 C172.46,516.92 172.98,516.9 173.49,516.88 C174.01,516.87 174.53,516.85 175.04,516.84 C175.56,516.82 176.08,516.81 176.6,516.8 C177.12,516.78 177.63,516.77 178.15,516.76 C178.67,516.75 179.19,516.74 179.7,516.73 C180.22,516.73 180.74,516.72 181.26,516.71 C181.78,516.71 182.29,516.7 182.81,516.7 C183.33,516.69 183.85,516.69 184.37,516.69 C184.88,516.68 185.4,516.68 185.92,516.68 C186.44,516.67 186.96,516.67 187.47,516.67 C187.99,516.67 188.51,516.67 189.03,516.67 C189.54,516.67 190.06,516.67 190.58,516.67 C191.1,516.67 191.61,516.67 192.13,516.67 C192.65,516.67 193.16,516.66 193.68,516.66 C194.2,516.66 194.71,516.66 195.23,516.66 C195.75,516.66 196.26,516.66 196.78,516.66 C197.3,516.66 197.81,516.66 198.33,516.65 C198.84,516.65 199.36,516.65 199.87,516.65 C200.39,516.64 200.9,516.64 201.42,516.64 C201.93,516.63 202.45,516.63 202.96,516.62 C203.47,516.61 204.24,516.6 204.5,516.6" fill="none" stroke="#000" stroke-width="1.6" stroke-linejoin="round" stroke-linecap="round"/><g fill="#000" fill-opacity="0.32"><circle cx="54.52" cy="546.82" r="2.75"/><circle cx="61.62" cy="546.82" r="2.75"/><circle cx="64.61" cy="546.78" r="2.75"/><circle cx="65.47" cy="546.76" r="2.75"/><circle cx="66.32" cy="546.72" r="2.75"/><circle cx="67.18" cy="546.69" r="2.75"/><circle cx="68.03" cy="546.65" r="2.75"/><circle cx="68.89" cy="546.61" r="2.75"/><circle cx="69.74" cy="546.57" r="2.75"/><circle cx="70.6" cy="546.52" r="2.75"/><circle cx="71.45" cy="546.48" r="2.75"/><circle cx="72.31" cy="546.41" r="2.75"/><circle cx="73.16" cy="546.33" r="2.75"/><circle cx="74.02" cy="546.25" r="2.75"/><circle cx="74.87" cy="546.17" r="2.75"/><circle cx="75.73" cy="546" r="2.75"/><circle cx="76.58" cy="545.74" r="2.75"/><circle cx="77.44" cy="545.49" r="2.75"/><circle cx="78.29" cy="545.25" r="2.75"/><circle cx="79.15" cy="545.01" r="2.75"/><circle cx="80" cy="544.77" r="2.75"/><circle cx="80.86" cy="544.53" r="2.75"/><circle cx="81.71" cy="544.3" r="2.75"/><circle cx="82.57" cy="544.01" r="2.75"/><circle cx="83.42" cy="543.73" r="2.75"/><circle cx="84.28" cy="543.44" r="2.75"/><circle cx="85.13" cy="543.14" r="2.75"/><circle cx="85.99" cy="542.81" r="2.75"/><circle cx="86.84" cy="542.49" r="2.75"/><circle cx="87.7" cy="542.16" r="2.75"/><circle cx="88.55" cy="541.84" r="2.75"/><circle cx="89.41" cy="541.53" r="2.75"/><circle cx="90.26" cy="541.23" r="2.75"/><circle cx="91.12" cy="540.94" r="2.75"/><circle cx="91.97" cy="540.64" r="2.75"/><circle cx="92.83" cy="540.35" r="2.75"/><circle cx="93.68" cy="540.05" r="2.75"/><circle cx="94.54" cy="539.76" r="2.75"/><circle cx="95.39" cy="539.44" r="2.75"/><circle cx="96.25" cy="539.09" r="2.75"/><circle cx="97.1" cy="538.73" r="2.75"/><circle cx="97.96" cy="538.39" r="2.75"/><circle cx="98.81" cy="538.07" r="2.75"/><circle cx="99.67" cy="537.74" r="2.75"/><circle cx="100.52" cy="537.42" r="2.75"/><circle cx="101.38" cy="537.09" r="2.75"/><circle cx="102.23" cy="536.76" r="2.75"/><circle cx="103.09" cy="536.43" r="2.75"/><circle cx="103.94" cy="536.11" r="2.75"/><circle cx="104.8" cy="535.8" r="2.75"/><circle cx="105.65" cy="535.49" r="2.75"/><circle cx="106.51" cy="535.18" r="2.75"/><circle cx="107.36" cy="534.84" r="2.75"/><circle cx="108.22" cy="534.49" r="2.75"/><circle cx="109.07" cy="534.14" r="2.75"/><circle cx="109.93" cy="533.84" r="2.75"/><circle cx="110.78" cy="533.57" r="2.75"/><circle cx="111.64" cy="533.31" r="2.75"/><circle cx="112.49" cy="533.05" r="2.75"/><circle cx="113.35" cy="532.72" r="2.75"/><circle cx="114.2" cy="532.39" r="2.75"/><circle cx="115.06" cy="532.06" r="2.75"/><circle cx="115.91" cy="531.73" r="2.75"/><circle cx="116.77" cy="531.39" r="2.75"/><circle cx="117.62" cy="531.06" r="2.75"/><circle cx="118.48" cy="530.72" r="2.75"/><circle cx="119.33" cy="530.36" r="2.75"/><circle cx="120.19" cy="530.01" r="2.75"/><circle cx="121.04" cy="529.69" r="2.75"/><circle cx="121.9" cy="529.39" r="2.75"/><circle cx="122.75" cy="529.1" r="2.75"/><circle cx="123.61" cy="528.66" r="2.75"/><circle cx="124.46" cy="528.17" r="2.75"/><circle cx="125.32" cy="527.68" r="2.75"/><circle cx="126.17" cy="527.25" r="2.75"/><circle cx="127.03" cy="526.83" r="2.75"/><circle cx="127.88" cy="526.41" r="2.75"/><circle cx="128.74" cy="525.98" r="2.75"/><circle cx="129.59" cy="525.55" r="2.75"/><circle cx="130.45" cy="525.17" r="2.75"/><circle cx="131.3" cy="524.83" r="2.75"/><circle cx="132.16" cy="524.49" r="2.75"/><circle cx="133.01" cy="524.15" r="2.75"/><circle cx="133.87" cy="523.79" r="2.75"/><circle cx="134.72" cy="523.42" r="2.75"/><circle cx="135.58" cy="522.98" r="2.75"/><circle cx="136.43" cy="522.5" r="2.75"/><circle cx="137.29" cy="522.06" r="2.75"/><circle cx="138.14" cy="521.66" r="2.75"/><circle cx="139" cy="521.26" r="2.75"/><circle cx="139.85" cy="520.85" r="2.75"/></g>
</g>
<rect x="47" y="450.42" width="175.5" height="100.4" fill="none" stroke="#333333" stroke-width="1.0"/>
<g clip-path="url(#cp41)">
<line x1="229.7" x2="405.2" y1="535.34" y2="535.34" stroke="#EBEBEB" stroke-width="0.7"/>
<line x1="229.7" x2="405.2" y1="512.39" y2="512.39" stroke="#EBEBEB" stroke-width="0.7"/>
<line x1="229.7" x2="405.2" y1="489.44" y2="489.44" stroke="#EBEBEB" stroke-width="0.7"/>
<line x1="229.7" x2="405.2" y1="466.49" y2="466.49" stroke="#EBEBEB" stroke-width="0.7"/>
<line x1="296.9" x2="296.9" y1="450.42" y2="550.82" stroke="#EBEBEB" stroke-width="0.7"/>
<line x1="374.71" x2="374.71" y1="450.42" y2="550.82" stroke="#EBEBEB" stroke-width="0.7"/>
<line x1="229.7" x2="405.2" y1="546.82" y2="546.82" stroke="#EBEBEB" stroke-width="1.4"/>
<line x1="229.7" x2="405.2" y1="523.87" y2="523.87" stroke="#EBEBEB" stroke-width="1.4"/>
<line x1="229.7" x2="405.2" y1="500.91" y2="500.91" stroke="#EBEBEB" stroke-width="1.4"/>
<line x1="229.7" x2="405.2" y1="477.96" y2="477.96" stroke="#EBEBEB" stroke-width="1.4"/>
<line x1="229.7" x2="405.2" y1="455.01" y2="455.01" stroke="#EBEBEB" stroke-width="1.4"/>
<line x1="258" x2="258" y1="450.42" y2="550.82" stroke="#EBEBEB" stroke-width="1.4"/>
<line x1="335.81" x2="335.81" y1="450.42" y2="550.82" stroke="#EBEBEB" stroke-width="1.4"/>
<path d="M330.8,531.8 C331.06,531.82 331.83,531.9 332.34,531.92 C332.85,531.93 333.37,531.9 333.88,531.89 C334.39,531.89 334.91,531.88 335.42,531.88 C335.93,531.87 336.44,531.87 336.96,531.86 C337.47,531.86 337.98,531.85 338.5,531.85 C339.01,531.84 339.52,531.84 340.04,531.83 C340.55,531.83 341.06,531.83 341.58,531.82 C342.09,531.82 342.6,531.82 343.12,531.81 C343.63,531.81 344.14,531.81 344.66,531.8 C345.17,531.8 345.68,531.8 346.2,531.79 C346.71,531.79 347.22,531.79 347.73,531.79 C348.25,531.78 348.76,531.78 349.27,531.78 C349.79,531.77 350.3,531.77 350.81,531.77 C351.33,531.77 351.84,531.76 352.35,531.76 C352.87,531.76 353.38,531.76 353.89,531.75 C354.41,531.75 354.92,531.75 355.43,531.75 C355.95,531.74 356.46,531.74 356.97,531.74 C357.49,531.74 358,531.73 358.51,531.73 C359.02,531.73 359.54,531.73 360.05,531.73 C360.56,531.72 361.08,531.72 361.59,531.72 C362.1,531.72 362.62,531.72 363.13,531.71 C363.64,531.71 364.16,531.71 364.67,531.71 C365.18,531.7 365.7,531.7 366.21,531.7 C366.72,531.7 367.24,531.7 367.75,531.69 C368.26,531.69 368.78,531.69 369.29,531.69 C369.8,531.69 370.31,531.69 370.83,531.68 C371.34,531.68 371.85,531.68 372.37,531.68 C372.88,531.68 373.39,531.67 373.91,531.67 C374.42,531.67 374.93,531.67 375.45,531.67 C375.96,531.67 376.47,531.66 376.99,531.66 C377.5,531.66 378.01,531.66 378.53,531.66 C379.04,531.65 379.55,531.65 380.07,531.65 C380.58,531.65 381.09,531.65 381.6,531.65 C382.12,531.64 382.63,531.64 383.14,531.64 C383.66,531.64 384.17,531.64 384.68,531.64 C385.2,531.64 385.71,531.63 386.22,531.63 C386.74,531.63 387.25,531.63 387.76,531.63 C388.28,531.63 388.79,531.62 389.3,531.62 C389.82,531.62 390.33,531.62 390.84,531.62 C391.36,531.62 391.87,531.61 392.38,531.61 C392.89,531.61 393.41,531.61 393.92,531.61 C394.43,531.61 394.95,531.61 395.46,531.6 C395.97,531.6 396.74,531.6 397,531.6 L397,532.6 C396.74,532.6 395.97,532.6 395.46,532.6 C394.95,532.59 394.43,532.59 393.92,532.59 C393.41,532.59 392.89,532.59 392.38,532.59 C391.87,532.59 391.36,532.58 390.84,532.58 C390.33,532.58 389.82,532.58 389.3,532.58 C388.79,532.58 388.28,532.57 387.76,532.57 C387.25,532.57 386.74,532.57 386.22,532.57 C385.71,532.57 385.2,532.56 384.68,532.56 C384.17,532.56 383.66,532.56 383.14,532.56 C382.63,532.56 382.12,532.56 381.6,532.55 C381.09,532.55 380.58,532.55 380.07,532.55 C379.55,532.55 379.04,532.55 378.53,532.54 C378.01,532.54 377.5,532.54 376.99,532.54 C376.47,532.54 375.96,532.53 375.45,532.53 C374.93,532.53 374.42,532.53 373.91,532.53 C373.39,532.53 372.88,532.52 372.37,532.52 C371.85,532.52 371.34,532.52 370.83,532.52 C370.31,532.51 369.8,532.51 369.29,532.51 C368.78,532.51 368.26,532.51 367.75,532.51 C367.24,532.5 366.72,532.5 366.21,532.5 C365.7,532.5 365.18,532.5 364.67,532.49 C364.16,532.49 363.64,532.49 363.13,532.49 C362.62,532.48 362.1,532.48 361.59,532.48 C361.08,532.48 360.56,532.48 360.05,532.47 C359.54,532.47 359.02,532.47 358.51,532.47 C358,532.47 357.49,532.46 356.97,532.46 C356.46,532.46 355.95,532.46 355.43,532.45 C354.92,532.45 354.41,532.45 353.89,532.45 C353.38,532.44 352.87,532.44 352.35,532.44 C351.84,532.44 351.33,532.43 350.81,532.43 C350.3,532.43 349.79,532.43 349.27,532.42 C348.76,532.42 348.25,532.42 347.73,532.41 C347.22,532.41 346.71,532.41 346.2,532.41 C345.68,532.4 345.17,532.4 344.66,532.4 C344.14,532.39 343.63,532.39 343.12,532.39 C342.6,532.38 342.09,532.38 341.58,532.38 C341.06,532.37 340.55,532.37 340.04,532.37 C339.52,532.36 339.01,532.36 338.5,532.35 C337.98,532.35 337.47,532.34 336.96,532.34 C336.44,532.33 335.93,532.33 335.42,532.32 C334.91,532.32 334.39,532.31 333.88,532.31 C333.37,532.3 332.85,532.27 332.34,532.28 C331.83,532.3 331.06,532.38 330.8,532.4 Z" fill="#7F7F7F" fill-opacity="0.3"/><path d="M333.24,531.98 C333.52,531.97 334.38,531.93 334.95,531.9 C335.52,531.87 336.09,531.83 336.66,531.79 C337.23,531.75 337.8,531.71 338.37,531.68 C338.94,531.64 339.51,531.6 340.08,531.56 C340.65,531.53 341.22,531.49 341.79,531.45 C342.36,531.41 343.13,531.36 343.5,531.34 C343.87,531.31 343.93,531.31 344.01,531.3" fill="none" stroke="#5C5C5C" stroke-width="2.1" stroke-linejoin="round" stroke-linecap="round"/><path d="M248.59,546.8 C249.02,546.8 250.31,546.78 251.16,546.76 C252.01,546.74 252.87,546.72 253.72,546.68 C254.58,546.65 255.44,546.63 256.29,546.54 C257.15,546.46 258,546.31 258.86,546.15 C259.71,546 260.56,545.82 261.42,545.64 C262.28,545.46 263.13,545.3 263.99,545.08 C264.84,544.87 265.69,544.61 266.55,544.35 C267.41,544.1 268.26,543.84 269.12,543.54 C269.97,543.24 270.82,542.89 271.68,542.56 C272.54,542.22 273.39,541.87 274.25,541.53 C275.1,541.19 275.95,540.83 276.81,540.5 C277.67,540.17 278.52,539.87 279.38,539.56 C280.23,539.25 281.08,538.93 281.94,538.63 C282.8,538.32 283.65,538 284.5,537.72 C285.36,537.45 286.21,537.22 287.07,536.98 C287.93,536.75 288.78,536.51 289.63,536.31 C290.49,536.1 291.34,535.92 292.2,535.76 C293.06,535.6 293.91,535.47 294.76,535.34 C295.62,535.22 296.47,535.11 297.33,535 C298.19,534.89 299.04,534.78 299.89,534.67 C300.75,534.57 301.6,534.46 302.46,534.36 C303.31,534.26 304.17,534.15 305.02,534.06 C305.88,533.96 306.73,533.87 307.59,533.78 C308.44,533.69 309.3,533.59 310.15,533.51 C311.01,533.43 311.87,533.37 312.72,533.31 C313.58,533.24 314.43,533.17 315.28,533.11 C316.14,533.04 317,532.97 317.85,532.91 C318.71,532.84 319.56,532.78 320.42,532.72 C321.27,532.66 322.12,532.6 322.98,532.55 C323.84,532.49 324.69,532.43 325.55,532.38 C326.4,532.33 327.23,532.27 328.11,532.23 C328.99,532.18 330.1,532.12 330.8,532.1 C331.5,532.08 331.83,532.1 332.34,532.1 C332.85,532.1 333.37,532.1 333.88,532.1 C334.39,532.1 334.91,532.1 335.42,532.1 C335.93,532.1 336.44,532.1 336.96,532.1 C337.47,532.1 337.98,532.1 338.5,532.1 C339.01,532.1 339.52,532.1 340.04,532.1 C340.55,532.1 341.06,532.1 341.58,532.1 C342.09,532.1 342.6,532.1 343.12,532.1 C343.63,532.1 344.14,532.1 344.66,532.1 C345.17,532.1 345.68,532.1 346.2,532.1 C346.71,532.1 347.22,532.1 347.73,532.1 C348.25,532.1 348.76,532.1 349.27,532.1 C349.79,532.1 350.3,532.1 350.81,532.1 C351.33,532.1 351.84,532.1 352.35,532.1 C352.87,532.1 353.38,532.1 353.89,532.1 C354.41,532.1 354.92,532.1 355.43,532.1 C355.95,532.1 356.46,532.1 356.97,532.1 C357.49,532.1 358,532.1 358.51,532.1 C359.02,532.1 359.54,532.1 360.05,532.1 C360.56,532.1 361.08,532.1 361.59,532.1 C362.1,532.1 362.62,532.1 363.13,532.1 C363.64,532.1 364.16,532.1 364.67,532.1 C365.18,532.1 365.7,532.1 366.21,532.1 C366.72,532.1 367.24,532.1 367.75,532.1 C368.26,532.1 368.78,532.1 369.29,532.1 C369.8,532.1 370.31,532.1 370.83,532.1 C371.34,532.1 371.85,532.1 372.37,532.1 C372.88,532.1 373.39,532.1 373.91,532.1 C374.42,532.1 374.93,532.1 375.45,532.1 C375.96,532.1 376.47,532.1 376.99,532.1 C377.5,532.1 378.01,532.1 378.53,532.1 C379.04,532.1 379.55,532.1 380.07,532.1 C380.58,532.1 381.09,532.1 381.6,532.1 C382.12,532.1 382.63,532.1 383.14,532.1 C383.66,532.1 384.17,532.1 384.68,532.1 C385.2,532.1 385.71,532.1 386.22,532.1 C386.74,532.1 387.25,532.1 387.76,532.1 C388.28,532.1 388.79,532.1 389.3,532.1 C389.82,532.1 390.33,532.1 390.84,532.1 C391.36,532.1 391.87,532.1 392.38,532.1 C392.89,532.1 393.41,532.1 393.92,532.1 C394.43,532.1 394.95,532.1 395.46,532.1 C395.97,532.1 396.74,532.1 397,532.1" fill="none" stroke="#000" stroke-width="1.6" stroke-linejoin="round" stroke-linecap="round"/><g fill="#000" fill-opacity="0.32"><circle cx="247.74" cy="546.82" r="2.75"/><circle cx="248.59" cy="546.8" r="2.75"/><circle cx="249.45" cy="546.79" r="2.75"/><circle cx="250.31" cy="546.77" r="2.75"/><circle cx="251.16" cy="546.76" r="2.75"/><circle cx="252.01" cy="546.74" r="2.75"/><circle cx="252.87" cy="546.73" r="2.75"/><circle cx="253.72" cy="546.68" r="2.75"/><circle cx="254.58" cy="546.64" r="2.75"/><circle cx="255.44" cy="546.59" r="2.75"/><circle cx="256.29" cy="546.54" r="2.75"/><circle cx="257.14" cy="546.5" r="2.75"/><circle cx="258" cy="546.33" r="2.75"/><circle cx="258.86" cy="546.15" r="2.75"/><circle cx="259.71" cy="545.98" r="2.75"/><circle cx="260.56" cy="545.81" r="2.75"/><circle cx="261.42" cy="545.64" r="2.75"/><circle cx="262.27" cy="545.46" r="2.75"/><circle cx="263.13" cy="545.27" r="2.75"/><circle cx="263.99" cy="545.08" r="2.75"/><circle cx="264.84" cy="544.89" r="2.75"/><circle cx="265.69" cy="544.62" r="2.75"/><circle cx="266.55" cy="544.35" r="2.75"/><circle cx="267.4" cy="544.08" r="2.75"/><circle cx="268.26" cy="543.81" r="2.75"/><circle cx="269.12" cy="543.54" r="2.75"/><circle cx="269.97" cy="543.22" r="2.75"/><circle cx="270.82" cy="542.89" r="2.75"/><circle cx="271.68" cy="542.56" r="2.75"/><circle cx="272.54" cy="542.23" r="2.75"/><circle cx="273.39" cy="541.88" r="2.75"/><circle cx="274.25" cy="541.53" r="2.75"/><circle cx="275.1" cy="541.18" r="2.75"/><circle cx="275.95" cy="540.83" r="2.75"/><circle cx="276.81" cy="540.5" r="2.75"/><circle cx="277.67" cy="540.18" r="2.75"/><circle cx="278.52" cy="539.87" r="2.75"/><circle cx="279.38" cy="539.56" r="2.75"/><circle cx="280.23" cy="539.25" r="2.75"/><circle cx="281.08" cy="538.94" r="2.75"/><circle cx="281.94" cy="538.63" r="2.75"/><circle cx="282.8" cy="538.32" r="2.75"/><circle cx="283.65" cy="538.01" r="2.75"/><circle cx="284.5" cy="537.72" r="2.75"/><circle cx="285.36" cy="537.48" r="2.75"/><circle cx="286.21" cy="537.23" r="2.75"/><circle cx="287.07" cy="536.98" r="2.75"/><circle cx="287.93" cy="536.74" r="2.75"/><circle cx="288.78" cy="536.49" r="2.75"/><circle cx="289.63" cy="536.31" r="2.75"/><circle cx="290.49" cy="536.12" r="2.75"/><circle cx="291.35" cy="535.94" r="2.75"/><circle cx="292.2" cy="535.76" r="2.75"/><circle cx="293.06" cy="535.57" r="2.75"/><circle cx="293.91" cy="535.46" r="2.75"/><circle cx="294.76" cy="535.34" r="2.75"/><circle cx="295.62" cy="535.23" r="2.75"/><circle cx="296.48" cy="535.11" r="2.75"/><circle cx="297.33" cy="535" r="2.75"/><circle cx="298.19" cy="534.88" r="2.75"/><circle cx="299.04" cy="534.78" r="2.75"/><circle cx="299.89" cy="534.67" r="2.75"/><circle cx="300.75" cy="534.57" r="2.75"/><circle cx="301.61" cy="534.46" r="2.75"/><circle cx="302.46" cy="534.36" r="2.75"/><circle cx="303.31" cy="534.26" r="2.75"/><circle cx="304.17" cy="534.15" r="2.75"/><circle cx="305.02" cy="534.06" r="2.75"/><circle cx="305.88" cy="533.97" r="2.75"/><circle cx="306.74" cy="533.87" r="2.75"/><circle cx="307.59" cy="533.78" r="2.75"/><circle cx="308.44" cy="533.69" r="2.75"/><circle cx="309.3" cy="533.6" r="2.75"/><circle cx="310.15" cy="533.51" r="2.75"/><circle cx="311.01" cy="533.44" r="2.75"/><circle cx="311.87" cy="533.37" r="2.75"/><circle cx="312.72" cy="533.31" r="2.75"/><circle cx="313.57" cy="533.24" r="2.75"/><circle cx="314.43" cy="533.17" r="2.75"/><circle cx="315.28" cy="533.11" r="2.75"/><circle cx="316.14" cy="533.04" r="2.75"/><circle cx="317" cy="532.97" r="2.75"/><circle cx="317.85" cy="532.91" r="2.75"/><circle cx="318.7" cy="532.84" r="2.75"/><circle cx="319.56" cy="532.77" r="2.75"/><circle cx="320.42" cy="532.72" r="2.75"/><circle cx="321.27" cy="532.66" r="2.75"/><circle cx="322.12" cy="532.6" r="2.75"/><circle cx="322.98" cy="532.55" r="2.75"/><circle cx="323.83" cy="532.49" r="2.75"/><circle cx="324.69" cy="532.44" r="2.75"/><circle cx="325.55" cy="532.38" r="2.75"/><circle cx="326.4" cy="532.32" r="2.75"/><circle cx="327.25" cy="532.27" r="2.75"/><circle cx="328.11" cy="532.23" r="2.75"/><circle cx="328.97" cy="532.19" r="2.75"/><circle cx="329.82" cy="532.15" r="2.75"/><circle cx="330.68" cy="532.1" r="2.75"/><circle cx="331.53" cy="532.06" r="2.75"/><circle cx="332.38" cy="532.02" r="2.75"/><circle cx="333.24" cy="531.98" r="2.75"/></g>
</g>
<rect x="229.7" y="450.42" width="175.5" height="100.4" fill="none" stroke="#333333" stroke-width="1.0"/>
<g clip-path="url(#cp42)">
<line x1="412.4" x2="587.9" y1="535.34" y2="535.34" stroke="#EBEBEB" stroke-width="0.7"/>
<line x1="412.4" x2="587.9" y1="512.39" y2="512.39" stroke="#EBEBEB" stroke-width="0.7"/>
<line x1="412.4" x2="587.9" y1="489.44" y2="489.44" stroke="#EBEBEB" stroke-width="0.7"/>
<line x1="412.4" x2="587.9" y1="466.49" y2="466.49" stroke="#EBEBEB" stroke-width="0.7"/>
<line x1="479.6" x2="479.6" y1="450.42" y2="550.82" stroke="#EBEBEB" stroke-width="0.7"/>
<line x1="557.41" x2="557.41" y1="450.42" y2="550.82" stroke="#EBEBEB" stroke-width="0.7"/>
<line x1="412.4" x2="587.9" y1="546.82" y2="546.82" stroke="#EBEBEB" stroke-width="1.4"/>
<line x1="412.4" x2="587.9" y1="523.87" y2="523.87" stroke="#EBEBEB" stroke-width="1.4"/>
<line x1="412.4" x2="587.9" y1="500.91" y2="500.91" stroke="#EBEBEB" stroke-width="1.4"/>
<line x1="412.4" x2="587.9" y1="477.96" y2="477.96" stroke="#EBEBEB" stroke-width="1.4"/>
<line x1="412.4" x2="587.9" y1="455.01" y2="455.01" stroke="#EBEBEB" stroke-width="1.4"/>
<line x1="440.7" x2="440.7" y1="450.42" y2="550.82" stroke="#EBEBEB" stroke-width="1.4"/>
<line x1="518.5" x2="518.5" y1="450.42" y2="550.82" stroke="#EBEBEB" stroke-width="1.4"/>
<path d="M504.2,534.5 C504.45,534.3 505.2,533.59 505.7,533.3 C506.2,533.01 506.7,532.93 507.19,532.76 C507.69,532.58 508.19,532.42 508.69,532.25 C509.19,532.08 509.7,531.92 510.2,531.76 C510.7,531.6 511.2,531.45 511.7,531.29 C512.2,531.14 512.7,530.98 513.2,530.83 C513.71,530.68 514.21,530.53 514.71,530.38 C515.21,530.23 515.71,530.09 516.22,529.94 C516.72,529.8 517.22,529.66 517.73,529.51 C518.23,529.37 518.73,529.23 519.24,529.09 C519.74,528.96 520.24,528.82 520.75,528.68 C521.25,528.55 521.76,528.41 522.26,528.28 C522.77,528.15 523.27,528.02 523.78,527.89 C524.28,527.76 524.79,527.63 525.3,527.5 C525.8,527.37 526.31,527.25 526.81,527.12 C527.32,527 527.83,526.88 528.33,526.76 C528.84,526.63 529.35,526.51 529.85,526.4 C530.36,526.28 530.87,526.16 531.38,526.05 C531.89,525.93 532.39,525.82 532.9,525.71 C533.41,525.59 533.92,525.48 534.43,525.37 C534.94,525.26 535.45,525.16 535.95,525.05 C536.46,524.95 536.97,524.84 537.48,524.74 C537.99,524.64 538.5,524.54 539.01,524.44 C539.52,524.34 540.03,524.24 540.54,524.14 C541.06,524.05 541.57,523.95 542.08,523.86 C542.59,523.77 543.1,523.68 543.61,523.59 C544.12,523.5 544.64,523.42 545.15,523.33 C545.66,523.25 546.17,523.16 546.68,523.08 C547.2,523 547.71,522.92 548.22,522.84 C548.74,522.76 549.25,522.69 549.76,522.61 C550.28,522.54 550.79,522.47 551.3,522.4 C551.82,522.33 552.33,522.26 552.85,522.2 C553.36,522.13 553.88,522.07 554.39,522 C554.9,521.94 555.42,521.88 555.94,521.82 C556.45,521.77 556.97,521.71 557.48,521.66 C558,521.6 558.51,521.55 559.03,521.5 C559.55,521.45 560.06,521.41 560.58,521.36 C561.1,521.32 561.61,521.27 562.13,521.23 C562.65,521.19 563.16,521.15 563.68,521.12 C564.2,521.08 564.72,521.05 565.23,521.02 C565.75,520.99 566.27,520.96 566.79,520.93 C567.31,520.9 567.82,520.88 568.34,520.86 C568.86,520.84 569.64,520.81 569.9,520.8 L569.9,526.8 C569.64,526.8 568.86,526.8 568.34,526.8 C567.82,526.81 567.31,526.81 566.79,526.82 C566.27,526.83 565.75,526.84 565.23,526.86 C564.72,526.87 564.2,526.88 563.68,526.9 C563.16,526.92 562.65,526.94 562.13,526.96 C561.61,526.98 561.1,527 560.58,527.03 C560.06,527.06 559.55,527.08 559.03,527.11 C558.51,527.14 558,527.18 557.48,527.21 C556.97,527.24 556.45,527.28 555.94,527.32 C555.42,527.35 554.9,527.39 554.39,527.44 C553.88,527.48 553.36,527.52 552.85,527.57 C552.33,527.61 551.82,527.66 551.3,527.71 C550.79,527.76 550.28,527.81 549.76,527.86 C549.25,527.91 548.74,527.97 548.22,528.03 C547.71,528.08 547.2,528.14 546.68,528.2 C546.17,528.26 545.66,528.32 545.15,528.38 C544.64,528.45 544.12,528.51 543.61,528.58 C543.1,528.64 542.59,528.71 542.08,528.78 C541.57,528.85 541.06,528.92 540.54,528.99 C540.03,529.06 539.52,529.14 539.01,529.21 C538.5,529.29 537.99,529.36 537.48,529.44 C536.97,529.52 536.46,529.6 535.95,529.68 C535.45,529.76 534.94,529.84 534.43,529.93 C533.92,530.01 533.41,530.09 532.9,530.18 C532.39,530.27 531.89,530.35 531.38,530.44 C530.87,530.53 530.36,530.62 529.85,530.71 C529.35,530.8 528.84,530.89 528.33,530.98 C527.83,531.08 527.32,531.17 526.81,531.26 C526.31,531.36 525.8,531.45 525.3,531.55 C524.79,531.65 524.28,531.74 523.78,531.84 C523.27,531.94 522.77,532.04 522.26,532.14 C521.76,532.24 521.25,532.34 520.75,532.44 C520.24,532.54 519.74,532.64 519.24,532.75 C518.73,532.85 518.23,532.95 517.73,533.06 C517.22,533.16 516.72,533.26 516.22,533.37 C515.71,533.47 515.21,533.58 514.71,533.68 C514.21,533.79 513.71,533.89 513.2,534 C512.7,534.1 512.2,534.21 511.7,534.31 C511.2,534.41 510.7,534.52 510.2,534.62 C509.7,534.72 509.19,534.83 508.69,534.93 C508.19,535.03 507.69,535.13 507.19,535.22 C506.7,535.31 506.2,535.5 505.7,535.48 C505.2,535.46 504.45,535.16 504.2,535.1 Z" fill="#7F7F7F" fill-opacity="0.3"/><path d="M505.59,534.97 C505.88,534.86 506.73,534.52 507.3,534.3 C507.87,534.08 508.44,533.85 509.01,533.63 C509.58,533.41 510.15,533.2 510.72,532.99 C511.29,532.77 511.86,532.56 512.43,532.35 C513,532.13 513.57,531.87 514.14,531.7 C514.71,531.53 515.28,531.45 515.85,531.32 C516.42,531.2 516.99,531.08 517.56,530.95 C518.13,530.83 518.7,530.7 519.27,530.57 C519.84,530.45 520.41,530.34 520.98,530.2 C521.55,530.06 522.12,529.9 522.69,529.74 C523.26,529.58 523.83,529.4 524.4,529.23 C524.97,529.06 525.73,528.84 526.11,528.73 C526.5,528.61 526.61,528.58 526.71,528.55" fill="none" stroke="#5C5C5C" stroke-width="2.1" stroke-linejoin="round" stroke-linecap="round"/><path d="M420.09,546.82 C420.52,546.81 421.8,546.8 422.66,546.79 C423.51,546.77 424.37,546.76 425.22,546.75 C426.08,546.74 426.93,546.73 427.79,546.71 C428.64,546.7 429.5,546.69 430.35,546.67 C431.21,546.65 432.06,546.64 432.92,546.61 C433.77,546.59 434.63,546.56 435.48,546.53 C436.34,546.51 437.19,546.49 438.05,546.46 C438.9,546.42 439.76,546.38 440.61,546.34 C441.47,546.3 442.32,546.26 443.18,546.22 C444.03,546.17 444.89,546.13 445.74,546.08 C446.6,546.03 447.45,545.97 448.31,545.92 C449.16,545.86 450.02,545.81 450.87,545.75 C451.73,545.69 452.58,545.63 453.44,545.57 C454.29,545.51 455.15,545.45 456,545.39 C456.86,545.33 457.71,545.26 458.57,545.2 C459.42,545.13 460.28,545.06 461.13,544.99 C461.99,544.92 462.84,544.86 463.7,544.78 C464.55,544.7 465.41,544.61 466.26,544.51 C467.12,544.42 467.97,544.31 468.83,544.2 C469.68,544.1 470.54,544.01 471.39,543.89 C472.25,543.78 473.1,543.64 473.96,543.52 C474.81,543.39 475.67,543.26 476.52,543.13 C477.38,543 478.23,542.89 479.09,542.74 C479.94,542.59 480.8,542.42 481.65,542.25 C482.51,542.07 483.36,541.92 484.22,541.7 C485.07,541.48 485.93,541.18 486.78,540.92 C487.64,540.65 488.49,540.38 489.35,540.12 C490.2,539.85 491.06,539.59 491.91,539.33 C492.77,539.08 493.62,538.8 494.48,538.58 C495.33,538.36 496.19,538.23 497.04,538.02 C497.9,537.82 498.42,537.87 499.61,537.33 C500.8,536.79 503.19,535.29 504.2,534.8 C505.21,534.31 505.2,534.53 505.7,534.39 C506.2,534.26 506.7,534.12 507.19,533.99 C507.69,533.85 508.19,533.72 508.69,533.59 C509.19,533.46 509.7,533.32 510.2,533.19 C510.7,533.06 511.2,532.93 511.7,532.8 C512.2,532.67 512.7,532.54 513.2,532.41 C513.71,532.29 514.21,532.16 514.71,532.03 C515.21,531.91 515.71,531.78 516.22,531.66 C516.72,531.53 517.22,531.41 517.73,531.29 C518.23,531.16 518.73,531.04 519.24,530.92 C519.74,530.8 520.24,530.68 520.75,530.56 C521.25,530.44 521.76,530.33 522.26,530.21 C522.77,530.09 523.27,529.98 523.78,529.86 C524.28,529.75 524.79,529.64 525.3,529.53 C525.8,529.41 526.31,529.3 526.81,529.19 C527.32,529.08 527.83,528.98 528.33,528.87 C528.84,528.76 529.35,528.66 529.85,528.55 C530.36,528.45 530.87,528.34 531.38,528.24 C531.89,528.14 532.39,528.04 532.9,527.94 C533.41,527.84 533.92,527.75 534.43,527.65 C534.94,527.55 535.45,527.46 535.95,527.37 C536.46,527.27 536.97,527.18 537.48,527.09 C537.99,527 538.5,526.91 539.01,526.82 C539.52,526.74 540.03,526.65 540.54,526.57 C541.06,526.48 541.57,526.4 542.08,526.32 C542.59,526.24 543.1,526.16 543.61,526.08 C544.12,526.01 544.64,525.93 545.15,525.86 C545.66,525.78 546.17,525.71 546.68,525.64 C547.2,525.57 547.71,525.5 548.22,525.43 C548.74,525.37 549.25,525.3 549.76,525.24 C550.28,525.17 550.79,525.11 551.3,525.05 C551.82,524.99 552.33,524.94 552.85,524.88 C553.36,524.83 553.88,524.77 554.39,524.72 C554.9,524.67 555.42,524.62 555.94,524.57 C556.45,524.52 556.97,524.48 557.48,524.43 C558,524.39 558.51,524.35 559.03,524.31 C559.55,524.27 560.06,524.23 560.58,524.2 C561.1,524.16 561.61,524.13 562.13,524.1 C562.65,524.07 563.16,524.04 563.68,524.01 C564.2,523.98 564.72,523.96 565.23,523.94 C565.75,523.91 566.27,523.89 566.79,523.88 C567.31,523.86 567.82,523.84 568.34,523.83 C568.86,523.82 569.64,523.81 569.9,523.8" fill="none" stroke="#000" stroke-width="1.6" stroke-linejoin="round" stroke-linecap="round"/><g fill="#000" fill-opacity="0.32"><circle cx="420.09" cy="546.82" r="2.75"/><circle cx="427.02" cy="546.73" r="2.75"/><circle cx="430.01" cy="546.67" r="2.75"/><circle cx="430.87" cy="546.66" r="2.75"/><circle cx="431.72" cy="546.64" r="2.75"/><circle cx="432.58" cy="546.62" r="2.75"/><circle cx="433.43" cy="546.6" r="2.75"/><circle cx="434.29" cy="546.57" r="2.75"/><circle cx="435.14" cy="546.54" r="2.75"/><circle cx="436" cy="546.52" r="2.75"/><circle cx="436.85" cy="546.49" r="2.75"/><circle cx="437.71" cy="546.47" r="2.75"/><circle cx="438.56" cy="546.43" r="2.75"/><circle cx="439.42" cy="546.39" r="2.75"/><circle cx="440.27" cy="546.35" r="2.75"/><circle cx="441.13" cy="546.31" r="2.75"/><circle cx="441.98" cy="546.27" r="2.75"/><circle cx="442.84" cy="546.23" r="2.75"/><circle cx="443.69" cy="546.19" r="2.75"/><circle cx="444.55" cy="546.15" r="2.75"/><circle cx="445.4" cy="546.1" r="2.75"/><circle cx="446.26" cy="546.05" r="2.75"/><circle cx="447.11" cy="545.99" r="2.75"/><circle cx="447.97" cy="545.94" r="2.75"/><circle cx="448.82" cy="545.88" r="2.75"/><circle cx="449.68" cy="545.83" r="2.75"/><circle cx="450.53" cy="545.77" r="2.75"/><circle cx="451.39" cy="545.72" r="2.75"/><circle cx="452.24" cy="545.66" r="2.75"/><circle cx="453.1" cy="545.6" r="2.75"/><circle cx="453.95" cy="545.53" r="2.75"/><circle cx="454.81" cy="545.47" r="2.75"/><circle cx="455.66" cy="545.41" r="2.75"/><circle cx="456.52" cy="545.35" r="2.75"/><circle cx="457.37" cy="545.29" r="2.75"/><circle cx="458.23" cy="545.22" r="2.75"/><circle cx="459.08" cy="545.16" r="2.75"/><circle cx="459.94" cy="545.09" r="2.75"/><circle cx="460.79" cy="545.02" r="2.75"/><circle cx="461.65" cy="544.95" r="2.75"/><circle cx="462.5" cy="544.88" r="2.75"/><circle cx="463.36" cy="544.81" r="2.75"/><circle cx="464.21" cy="544.74" r="2.75"/><circle cx="465.07" cy="544.66" r="2.75"/><circle cx="465.92" cy="544.55" r="2.75"/><circle cx="466.78" cy="544.45" r="2.75"/><circle cx="467.63" cy="544.35" r="2.75"/><circle cx="468.49" cy="544.24" r="2.75"/><circle cx="469.34" cy="544.14" r="2.75"/><circle cx="470.2" cy="544.04" r="2.75"/><circle cx="471.05" cy="543.93" r="2.75"/><circle cx="471.91" cy="543.82" r="2.75"/><circle cx="472.76" cy="543.69" r="2.75"/><circle cx="473.62" cy="543.57" r="2.75"/><circle cx="474.47" cy="543.44" r="2.75"/><circle cx="475.33" cy="543.31" r="2.75"/><circle cx="476.18" cy="543.18" r="2.75"/><circle cx="477.04" cy="543.05" r="2.75"/><circle cx="477.89" cy="542.92" r="2.75"/><circle cx="478.75" cy="542.79" r="2.75"/><circle cx="479.6" cy="542.66" r="2.75"/><circle cx="480.46" cy="542.5" r="2.75"/><circle cx="481.31" cy="542.32" r="2.75"/><circle cx="482.17" cy="542.14" r="2.75"/><circle cx="483.02" cy="541.95" r="2.75"/><circle cx="483.88" cy="541.77" r="2.75"/><circle cx="484.73" cy="541.55" r="2.75"/><circle cx="485.59" cy="541.29" r="2.75"/><circle cx="486.44" cy="541.02" r="2.75"/><circle cx="487.3" cy="540.76" r="2.75"/><circle cx="488.15" cy="540.49" r="2.75"/><circle cx="489.01" cy="540.22" r="2.75"/><circle cx="489.86" cy="539.95" r="2.75"/><circle cx="490.72" cy="539.69" r="2.75"/><circle cx="491.57" cy="539.43" r="2.75"/><circle cx="492.43" cy="539.18" r="2.75"/><circle cx="493.28" cy="538.93" r="2.75"/><circle cx="494.14" cy="538.68" r="2.75"/><circle cx="494.99" cy="538.47" r="2.75"/><circle cx="495.85" cy="538.28" r="2.75"/><circle cx="496.7" cy="538.1" r="2.75"/><circle cx="497.56" cy="537.91" r="2.75"/><circle cx="498.41" cy="537.69" r="2.75"/><circle cx="499.27" cy="537.43" r="2.75"/><circle cx="500.12" cy="537.17" r="2.75"/><circle cx="500.98" cy="536.91" r="2.75"/><circle cx="501.83" cy="536.66" r="2.75"/><circle cx="502.69" cy="536.26" r="2.75"/><circle cx="503.54" cy="535.85" r="2.75"/><circle cx="504.4" cy="535.44" r="2.75"/><circle cx="505.25" cy="535.1" r="2.75"/></g>
</g>
<rect x="412.4" y="450.42" width="175.5" height="100.4" fill="none" stroke="#333333" stroke-width="1.0"/>
<g clip-path="url(#cp50)">
<line x1="47" x2="222.5" y1="642.72" y2="642.72" stroke="#EBEBEB" stroke-width="0.7"/>
<line x1="47" x2="222.5" y1="619.77" y2="619.77" stroke="#EBEBEB" stroke-width="0.7"/>
<line x1="47" x2="222.5" y1="596.82" y2="596.82" stroke="#EBEBEB" stroke-width="0.7"/>
<line x1="47" x2="222.5" y1="573.87" y2="573.87" stroke="#EBEBEB" stroke-width="0.7"/>
<line x1="114.2" x2="114.2" y1="557.8" y2="658.2" stroke="#EBEBEB" stroke-width="0.7"/>
<line x1="192.01" x2="192.01" y1="557.8" y2="658.2" stroke="#EBEBEB" stroke-width="0.7"/>
<line x1="47" x2="222.5" y1="654.2" y2="654.2" stroke="#EBEBEB" stroke-width="1.4"/>
<line x1="47" x2="222.5" y1="631.25" y2="631.25" stroke="#EBEBEB" stroke-width="1.4"/>
<line x1="47" x2="222.5" y1="608.29" y2="608.29" stroke="#EBEBEB" stroke-width="1.4"/>
<line x1="47" x2="222.5" y1="585.34" y2="585.34" stroke="#EBEBEB" stroke-width="1.4"/>
<line x1="47" x2="222.5" y1="562.39" y2="562.39" stroke="#EBEBEB" stroke-width="1.4"/>
<line x1="75.3" x2="75.3" y1="557.8" y2="658.2" stroke="#EBEBEB" stroke-width="1.4"/>
<line x1="153.1" x2="153.1" y1="557.8" y2="658.2" stroke="#EBEBEB" stroke-width="1.4"/>
<path d="M156.7,622.3 C156.96,622.1 157.74,621.37 158.26,621.09 C158.78,620.8 159.3,620.74 159.82,620.58 C160.34,620.41 160.86,620.26 161.38,620.12 C161.91,619.97 162.43,619.83 162.95,619.69 C163.47,619.55 163.99,619.42 164.52,619.29 C165.04,619.16 165.57,619.03 166.09,618.91 C166.61,618.79 167.14,618.67 167.66,618.55 C168.19,618.43 168.71,618.32 169.24,618.21 C169.76,618.09 170.29,617.98 170.81,617.88 C171.34,617.77 171.87,617.67 172.39,617.56 C172.92,617.46 173.45,617.36 173.97,617.27 C174.5,617.17 175.03,617.07 175.56,616.98 C176.08,616.89 176.61,616.8 177.14,616.71 C177.67,616.62 178.2,616.53 178.72,616.45 C179.25,616.36 179.78,616.28 180.31,616.2 C180.84,616.12 181.37,616.04 181.9,615.96 C182.43,615.88 182.96,615.81 183.49,615.73 C184.02,615.66 184.55,615.59 185.08,615.51 C185.61,615.44 186.14,615.38 186.67,615.31 C187.2,615.24 187.73,615.18 188.26,615.11 C188.79,615.05 189.32,614.98 189.85,614.92 C190.38,614.86 190.91,614.8 191.44,614.74 C191.98,614.69 192.51,614.63 193.04,614.57 C193.57,614.52 194.1,614.47 194.63,614.41 C195.16,614.36 195.7,614.31 196.23,614.26 C196.76,614.21 197.29,614.16 197.82,614.11 C198.35,614.07 198.88,614.02 199.42,613.97 C199.95,613.93 200.48,613.89 201.01,613.84 C201.54,613.8 202.07,613.76 202.61,613.72 C203.14,613.68 203.93,613.62 204.2,613.6 L204.2,619.6 C203.93,619.61 203.14,619.63 202.61,619.64 C202.07,619.66 201.54,619.67 201.01,619.69 C200.48,619.71 199.95,619.72 199.42,619.74 C198.88,619.76 198.35,619.78 197.82,619.8 C197.29,619.82 196.76,619.84 196.23,619.86 C195.7,619.89 195.16,619.91 194.63,619.93 C194.1,619.96 193.57,619.98 193.04,620.01 C192.51,620.04 191.98,620.06 191.44,620.09 C190.91,620.12 190.38,620.15 189.85,620.18 C189.32,620.21 188.79,620.25 188.26,620.28 C187.73,620.31 187.2,620.35 186.67,620.38 C186.14,620.42 185.61,620.46 185.08,620.49 C184.55,620.53 184.02,620.57 183.49,620.61 C182.96,620.65 182.43,620.69 181.9,620.74 C181.37,620.78 180.84,620.82 180.31,620.87 C179.78,620.92 179.25,620.96 178.72,621.01 C178.2,621.06 177.67,621.11 177.14,621.16 C176.61,621.21 176.08,621.26 175.56,621.32 C175.03,621.37 174.5,621.42 173.97,621.48 C173.45,621.54 172.92,621.59 172.39,621.65 C171.87,621.71 171.34,621.77 170.81,621.83 C170.29,621.89 169.76,621.95 169.24,622.02 C168.71,622.08 168.19,622.15 167.66,622.21 C167.14,622.28 166.61,622.34 166.09,622.41 C165.57,622.48 165.04,622.55 164.52,622.62 C163.99,622.68 163.47,622.75 162.95,622.82 C162.43,622.89 161.91,622.96 161.38,623.03 C160.86,623.1 160.34,623.17 159.82,623.23 C159.3,623.29 158.78,623.46 158.26,623.4 C157.74,623.35 156.96,622.98 156.7,622.9 Z" fill="#7F7F7F" fill-opacity="0.3"/><path d="M157.12,621.74 C157.41,621.66 158.26,621.44 158.83,621.29 C159.4,621.13 160.14,620.93 160.54,620.83 C160.94,620.72 161.11,620.67 161.23,620.64" fill="none" stroke="#5C5C5C" stroke-width="2.1" stroke-linejoin="round" stroke-linecap="round"/><path d="M54.52,654.2 C54.95,654.2 56.23,654.2 57.09,654.2 C57.94,654.2 58.8,654.2 59.65,654.2 C60.51,654.2 61.36,654.2 62.22,654.19 C63.07,654.18 63.93,654.18 64.78,654.16 C65.64,654.14 66.49,654.1 67.35,654.06 C68.2,654.02 69.06,653.99 69.91,653.94 C70.77,653.89 71.62,653.84 72.48,653.78 C73.33,653.71 74.19,653.7 75.04,653.54 C75.9,653.38 76.75,653.06 77.61,652.82 C78.46,652.58 79.32,652.35 80.17,652.1 C81.03,651.86 81.88,651.61 82.74,651.33 C83.59,651.06 84.45,650.76 85.3,650.45 C86.16,650.14 87.01,649.8 87.87,649.48 C88.72,649.16 89.58,648.86 90.43,648.55 C91.29,648.25 92.14,647.97 93,647.67 C93.85,647.37 94.71,647.07 95.56,646.75 C96.42,646.42 97.27,646.04 98.13,645.71 C98.98,645.37 99.84,645.06 100.69,644.73 C101.55,644.4 102.4,644.06 103.26,643.74 C104.11,643.42 104.97,643.13 105.82,642.8 C106.68,642.48 107.53,642.12 108.39,641.8 C109.24,641.48 110.1,641.19 110.95,640.9 C111.81,640.61 112.66,640.34 113.52,640.04 C114.37,639.73 115.23,639.38 116.08,639.04 C116.94,638.71 117.79,638.37 118.65,638.03 C119.5,637.69 120.36,637.36 121.21,637.01 C122.07,636.66 122.92,636.36 123.78,635.95 C124.63,635.54 125.49,634.99 126.34,634.55 C127.2,634.1 128.05,633.67 128.91,633.27 C129.76,632.87 130.62,632.51 131.47,632.14 C132.33,631.78 133.18,631.49 134.04,631.09 C134.89,630.7 135.75,630.21 136.6,629.78 C137.46,629.36 138.31,628.96 139.17,628.56 C140.02,628.15 140.88,627.75 141.73,627.35 C142.59,626.95 143.44,626.55 144.3,626.15 C145.15,625.76 146.01,625.34 146.86,624.97 C147.72,624.6 148.57,624.25 149.43,623.91 C150.28,623.57 150.78,623.17 151.99,622.95 C153.21,622.73 155.66,622.72 156.7,622.6 C157.74,622.48 157.74,622.36 158.26,622.24 C158.78,622.13 159.3,622.01 159.82,621.9 C160.34,621.79 160.86,621.68 161.38,621.57 C161.91,621.47 162.43,621.36 162.95,621.26 C163.47,621.15 163.99,621.05 164.52,620.95 C165.04,620.85 165.57,620.76 166.09,620.66 C166.61,620.57 167.14,620.47 167.66,620.38 C168.19,620.29 168.71,620.2 169.24,620.11 C169.76,620.02 170.29,619.94 170.81,619.85 C171.34,619.77 171.87,619.69 172.39,619.61 C172.92,619.53 173.45,619.45 173.97,619.37 C174.5,619.3 175.03,619.22 175.56,619.15 C176.08,619.07 176.61,619 177.14,618.93 C177.67,618.86 178.2,618.79 178.72,618.73 C179.25,618.66 179.78,618.6 180.31,618.53 C180.84,618.47 181.37,618.41 181.9,618.35 C182.43,618.29 182.96,618.23 183.49,618.17 C184.02,618.11 184.55,618.06 185.08,618 C185.61,617.95 186.14,617.9 186.67,617.85 C187.2,617.79 187.73,617.74 188.26,617.7 C188.79,617.65 189.32,617.6 189.85,617.55 C190.38,617.51 190.91,617.46 191.44,617.42 C191.98,617.38 192.51,617.33 193.04,617.29 C193.57,617.25 194.1,617.21 194.63,617.17 C195.16,617.14 195.7,617.1 196.23,617.06 C196.76,617.03 197.29,616.99 197.82,616.96 C198.35,616.92 198.88,616.89 199.42,616.86 C199.95,616.83 200.48,616.8 201.01,616.77 C201.54,616.74 202.07,616.71 202.61,616.68 C203.14,616.65 203.93,616.61 204.2,616.6" fill="none" stroke="#000" stroke-width="1.6" stroke-linejoin="round" stroke-linecap="round"/><g fill="#000" fill-opacity="0.32"><circle cx="54.52" cy="654.2" r="2.75"/><circle cx="61.62" cy="654.2" r="2.75"/><circle cx="64.61" cy="654.16" r="2.75"/><circle cx="65.47" cy="654.14" r="2.75"/><circle cx="66.32" cy="654.1" r="2.75"/><circle cx="67.18" cy="654.07" r="2.75"/><circle cx="68.03" cy="654.03" r="2.75"/><circle cx="68.89" cy="653.99" r="2.75"/><circle cx="69.74" cy="653.95" r="2.75"/><circle cx="70.6" cy="653.9" r="2.75"/><circle cx="71.45" cy="653.86" r="2.75"/><circle cx="72.31" cy="653.79" r="2.75"/><circle cx="73.16" cy="653.71" r="2.75"/><circle cx="74.02" cy="653.63" r="2.75"/><circle cx="74.87" cy="653.55" r="2.75"/><circle cx="75.73" cy="653.38" r="2.75"/><circle cx="76.58" cy="653.12" r="2.75"/><circle cx="77.44" cy="652.87" r="2.75"/><circle cx="78.29" cy="652.63" r="2.75"/><circle cx="79.15" cy="652.39" r="2.75"/><circle cx="80" cy="652.15" r="2.75"/><circle cx="80.86" cy="651.91" r="2.75"/><circle cx="81.71" cy="651.68" r="2.75"/><circle cx="82.57" cy="651.39" r="2.75"/><circle cx="83.42" cy="651.11" r="2.75"/><circle cx="84.28" cy="650.82" r="2.75"/><circle cx="85.13" cy="650.52" r="2.75"/><circle cx="85.99" cy="650.19" r="2.75"/><circle cx="86.84" cy="649.87" r="2.75"/><circle cx="87.7" cy="649.54" r="2.75"/><circle cx="88.55" cy="649.22" r="2.75"/><circle cx="89.41" cy="648.91" r="2.75"/><circle cx="90.26" cy="648.61" r="2.75"/><circle cx="91.12" cy="648.32" r="2.75"/><circle cx="91.97" cy="648.02" r="2.75"/><circle cx="92.83" cy="647.73" r="2.75"/><circle cx="93.68" cy="647.43" r="2.75"/><circle cx="94.54" cy="647.14" r="2.75"/><circle cx="95.39" cy="646.82" r="2.75"/><circle cx="96.25" cy="646.47" r="2.75"/><circle cx="97.1" cy="646.11" r="2.75"/><circle cx="97.96" cy="645.77" r="2.75"/><circle cx="98.81" cy="645.45" r="2.75"/><circle cx="99.67" cy="645.12" r="2.75"/><circle cx="100.52" cy="644.8" r="2.75"/><circle cx="101.38" cy="644.47" r="2.75"/><circle cx="102.23" cy="644.14" r="2.75"/><circle cx="103.09" cy="643.81" r="2.75"/><circle cx="103.94" cy="643.49" r="2.75"/><circle cx="104.8" cy="643.18" r="2.75"/><circle cx="105.65" cy="642.87" r="2.75"/><circle cx="106.51" cy="642.56" r="2.75"/><circle cx="107.36" cy="642.22" r="2.75"/><circle cx="108.22" cy="641.87" r="2.75"/><circle cx="109.07" cy="641.52" r="2.75"/><circle cx="109.93" cy="641.22" r="2.75"/><circle cx="110.78" cy="640.95" r="2.75"/><circle cx="111.64" cy="640.69" r="2.75"/><circle cx="112.49" cy="640.43" r="2.75"/><circle cx="113.35" cy="640.1" r="2.75"/><circle cx="114.2" cy="639.77" r="2.75"/><circle cx="115.06" cy="639.44" r="2.75"/><circle cx="115.91" cy="639.11" r="2.75"/><circle cx="116.77" cy="638.77" r="2.75"/><circle cx="117.62" cy="638.44" r="2.75"/><circle cx="118.48" cy="638.1" r="2.75"/><circle cx="119.33" cy="637.74" r="2.75"/><circle cx="120.19" cy="637.39" r="2.75"/><circle cx="121.04" cy="637.07" r="2.75"/><circle cx="121.9" cy="636.77" r="2.75"/><circle cx="122.75" cy="636.48" r="2.75"/><circle cx="123.61" cy="636.04" r="2.75"/><circle cx="124.46" cy="635.55" r="2.75"/><circle cx="125.32" cy="635.06" r="2.75"/><circle cx="126.17" cy="634.63" r="2.75"/><circle cx="127.03" cy="634.21" r="2.75"/><circle cx="127.88" cy="633.79" r="2.75"/><circle cx="128.74" cy="633.36" r="2.75"/><circle cx="129.59" cy="632.93" r="2.75"/><circle cx="130.45" cy="632.55" r="2.75"/><circle cx="131.3" cy="632.21" r="2.75"/><circle cx="132.16" cy="631.87" r="2.75"/><circle cx="133.01" cy="631.53" r="2.75"/><circle cx="133.87" cy="631.17" r="2.75"/><circle cx="134.72" cy="630.8" r="2.75"/><circle cx="135.58" cy="630.36" r="2.75"/><circle cx="136.43" cy="629.88" r="2.75"/><circle cx="137.29" cy="629.44" r="2.75"/><circle cx="138.14" cy="629.04" r="2.75"/><circle cx="139" cy="628.64" r="2.75"/><circle cx="139.85" cy="628.23" r="2.75"/><circle cx="140.71" cy="627.83" r="2.75"/><circle cx="141.56" cy="627.43" r="2.75"/><circle cx="142.42" cy="627.02" r="2.75"/><circle cx="143.27" cy="626.63" r="2.75"/><circle cx="144.13" cy="626.23" r="2.75"/><circle cx="144.98" cy="625.84" r="2.75"/><circle cx="145.84" cy="625.44" r="2.75"/><circle cx="146.69" cy="625.04" r="2.75"/><circle cx="147.55" cy="624.69" r="2.75"/><circle cx="148.4" cy="624.33" r="2.75"/><circle cx="149.26" cy="623.98" r="2.75"/><circle cx="150.11" cy="623.63" r="2.75"/><circle cx="150.97" cy="623.27" r="2.75"/><circle cx="151.82" cy="623" r="2.75"/><circle cx="152.68" cy="622.75" r="2.75"/><circle cx="153.53" cy="622.51" r="2.75"/><circle cx="154.39" cy="622.31" r="2.75"/><circle cx="155.24" cy="622.13" r="2.75"/><circle cx="156.1" cy="621.95" r="2.75"/><circle cx="156.95" cy="621.77" r="2.75"/></g>
</g>
<rect x="47" y="557.8" width="175.5" height="100.4" fill="none" stroke="#333333" stroke-width="1.0"/>
<g clip-path="url(#cp51)">
<line x1="229.7" x2="405.2" y1="642.72" y2="642.72" stroke="#EBEBEB" stroke-width="0.7"/>
<line x1="229.7" x2="405.2" y1="619.77" y2="619.77" stroke="#EBEBEB" stroke-width="0.7"/>
<line x1="229.7" x2="405.2" y1="596.82" y2="596.82" stroke="#EBEBEB" stroke-width="0.7"/>
<line x1="229.7" x2="405.2" y1="573.87" y2="573.87" stroke="#EBEBEB" stroke-width="0.7"/>
<line x1="296.9" x2="296.9" y1="557.8" y2="658.2" stroke="#EBEBEB" stroke-width="0.7"/>
<line x1="374.71" x2="374.71" y1="557.8" y2="658.2" stroke="#EBEBEB" stroke-width="0.7"/>
<line x1="229.7" x2="405.2" y1="654.2" y2="654.2" stroke="#EBEBEB" stroke-width="1.4"/>
<line x1="229.7" x2="405.2" y1="631.25" y2="631.25" stroke="#EBEBEB" stroke-width="1.4"/>
<line x1="229.7" x2="405.2" y1="608.29" y2="608.29" stroke="#EBEBEB" stroke-width="1.4"/>
<line x1="229.7" x2="405.2" y1="585.34" y2="585.34" stroke="#EBEBEB" stroke-width="1.4"/>
<line x1="229.7" x2="405.2" y1="562.39" y2="562.39" stroke="#EBEBEB" stroke-width="1.4"/>
<line x1="258" x2="258" y1="557.8" y2="658.2" stroke="#EBEBEB" stroke-width="1.4"/>
<line x1="335.81" x2="335.81" y1="557.8" y2="658.2" stroke="#EBEBEB" stroke-width="1.4"/>
<path d="M341,638.7 C341.26,638.71 342.03,638.78 342.55,638.79 C343.07,638.8 343.59,638.76 344.1,638.75 C344.62,638.73 345.14,638.72 345.66,638.71 C346.17,638.7 346.69,638.69 347.21,638.68 C347.73,638.67 348.25,638.66 348.76,638.65 C349.28,638.64 349.8,638.64 350.32,638.63 C350.83,638.62 351.35,638.61 351.87,638.61 C352.39,638.6 352.9,638.59 353.42,638.59 C353.94,638.58 354.46,638.58 354.97,638.57 C355.49,638.57 356.01,638.56 356.53,638.56 C357.04,638.55 357.56,638.55 358.08,638.55 C358.6,638.54 359.11,638.54 359.63,638.54 C360.15,638.53 360.67,638.53 361.18,638.53 C361.7,638.52 362.22,638.52 362.74,638.52 C363.25,638.51 363.77,638.51 364.29,638.51 C364.81,638.51 365.33,638.51 365.84,638.5 C366.36,638.5 366.88,638.5 367.4,638.5 C367.91,638.5 368.43,638.5 368.95,638.49 C369.47,638.49 369.98,638.49 370.5,638.49 C371.02,638.49 371.54,638.49 372.05,638.49 C372.57,638.49 373.09,638.49 373.61,638.48 C374.13,638.48 374.64,638.48 375.16,638.48 C375.68,638.48 376.2,638.48 376.71,638.48 C377.23,638.48 377.75,638.48 378.27,638.48 C378.78,638.48 379.3,638.47 379.82,638.47 C380.34,638.47 380.85,638.47 381.37,638.47 C381.89,638.47 382.41,638.47 382.92,638.47 C383.44,638.47 383.96,638.46 384.48,638.46 C385,638.46 385.51,638.46 386.03,638.46 C386.55,638.46 387.07,638.46 387.58,638.45 C388.1,638.45 388.62,638.45 389.14,638.45 C389.65,638.44 390.17,638.44 390.69,638.44 C391.21,638.44 391.72,638.43 392.24,638.43 C392.76,638.43 393.28,638.43 393.79,638.42 C394.31,638.42 394.83,638.42 395.35,638.41 C395.86,638.41 396.64,638.4 396.9,638.4 L396.9,639.4 C396.64,639.4 395.86,639.4 395.35,639.4 C394.83,639.4 394.31,639.4 393.79,639.4 C393.28,639.4 392.76,639.4 392.24,639.4 C391.72,639.4 391.21,639.4 390.69,639.4 C390.17,639.4 389.65,639.39 389.14,639.39 C388.62,639.39 388.1,639.39 387.58,639.39 C387.07,639.39 386.55,639.38 386.03,639.38 C385.51,639.38 385,639.38 384.48,639.37 C383.96,639.37 383.44,639.37 382.92,639.37 C382.41,639.36 381.89,639.36 381.37,639.36 C380.85,639.35 380.34,639.35 379.82,639.35 C379.3,639.35 378.78,639.34 378.27,639.34 C377.75,639.34 377.23,639.33 376.71,639.33 C376.2,639.33 375.68,639.32 375.16,639.32 C374.64,639.31 374.13,639.31 373.61,639.31 C373.09,639.3 372.57,639.3 372.05,639.3 C371.54,639.29 371.02,639.29 370.5,639.29 C369.98,639.28 369.47,639.28 368.95,639.27 C368.43,639.27 367.91,639.27 367.4,639.26 C366.88,639.26 366.36,639.26 365.84,639.25 C365.33,639.25 364.81,639.25 364.29,639.24 C363.77,639.24 363.25,639.24 362.74,639.24 C362.22,639.23 361.7,639.23 361.18,639.23 C360.67,639.22 360.15,639.22 359.63,639.22 C359.11,639.22 358.6,639.21 358.08,639.21 C357.56,639.21 357.04,639.21 356.53,639.2 C356.01,639.2 355.49,639.2 354.97,639.2 C354.46,639.2 353.94,639.19 353.42,639.19 C352.9,639.19 352.39,639.19 351.87,639.19 C351.35,639.19 350.83,639.19 350.32,639.18 C349.8,639.18 349.28,639.18 348.76,639.18 C348.25,639.18 347.73,639.18 347.21,639.18 C346.69,639.18 346.17,639.18 345.66,639.18 C345.14,639.18 344.62,639.18 344.1,639.17 C343.59,639.17 343.07,639.15 342.55,639.17 C342.03,639.19 341.26,639.28 341,639.3 Z" fill="#7F7F7F" fill-opacity="0.3"/><path d="M248.59,654.18 C249.02,654.18 250.31,654.16 251.16,654.14 C252.01,654.12 252.87,654.1 253.72,654.06 C254.58,654.03 255.44,654.01 256.29,653.92 C257.15,653.84 258,653.69 258.86,653.53 C259.71,653.38 260.56,653.2 261.42,653.02 C262.28,652.84 263.13,652.68 263.99,652.46 C264.84,652.25 265.69,651.99 266.55,651.73 C267.41,651.48 268.26,651.22 269.12,650.92 C269.97,650.62 270.82,650.27 271.68,649.94 C272.54,649.6 273.39,649.25 274.25,648.91 C275.1,648.57 275.95,648.21 276.81,647.88 C277.67,647.55 278.52,647.25 279.38,646.94 C280.23,646.63 281.08,646.31 281.94,646.01 C282.8,645.7 283.65,645.38 284.5,645.1 C285.36,644.83 286.21,644.6 287.07,644.36 C287.93,644.13 288.78,643.89 289.63,643.69 C290.49,643.48 291.34,643.3 292.2,643.14 C293.06,642.98 293.91,642.85 294.76,642.72 C295.62,642.6 296.47,642.49 297.33,642.38 C298.19,642.27 299.04,642.16 299.89,642.05 C300.75,641.95 301.6,641.84 302.46,641.74 C303.31,641.64 304.17,641.53 305.02,641.44 C305.88,641.34 306.73,641.25 307.59,641.16 C308.44,641.07 309.3,640.97 310.15,640.89 C311.01,640.81 311.87,640.75 312.72,640.69 C313.58,640.62 314.43,640.55 315.28,640.49 C316.14,640.42 317,640.35 317.85,640.29 C318.71,640.22 319.56,640.16 320.42,640.1 C321.27,640.04 322.12,639.98 322.98,639.93 C323.84,639.87 324.69,639.81 325.55,639.76 C326.4,639.71 327.25,639.65 328.11,639.61 C328.97,639.56 329.82,639.53 330.68,639.48 C331.53,639.44 332.38,639.41 333.24,639.36 C334.1,639.32 334.95,639.28 335.81,639.22 C336.66,639.17 337.5,639.09 338.37,639.06 C339.24,639.02 340.3,639.01 341,639 C341.7,638.99 342.03,638.99 342.55,638.98 C343.07,638.97 343.59,638.97 344.1,638.96 C344.62,638.95 345.14,638.95 345.66,638.94 C346.17,638.94 346.69,638.93 347.21,638.93 C347.73,638.93 348.25,638.92 348.76,638.92 C349.28,638.91 349.8,638.91 350.32,638.91 C350.83,638.9 351.35,638.9 351.87,638.9 C352.39,638.9 352.9,638.89 353.42,638.89 C353.94,638.89 354.46,638.89 354.97,638.89 C355.49,638.88 356.01,638.88 356.53,638.88 C357.04,638.88 357.56,638.88 358.08,638.88 C358.6,638.88 359.11,638.88 359.63,638.88 C360.15,638.88 360.67,638.88 361.18,638.88 C361.7,638.88 362.22,638.88 362.74,638.88 C363.25,638.88 363.77,638.88 364.29,638.88 C364.81,638.88 365.33,638.88 365.84,638.88 C366.36,638.88 366.88,638.88 367.4,638.88 C367.91,638.88 368.43,638.88 368.95,638.88 C369.47,638.89 369.98,638.89 370.5,638.89 C371.02,638.89 371.54,638.89 372.05,638.89 C372.57,638.89 373.09,638.89 373.61,638.9 C374.13,638.9 374.64,638.9 375.16,638.9 C375.68,638.9 376.2,638.9 376.71,638.9 C377.23,638.91 377.75,638.91 378.27,638.91 C378.78,638.91 379.3,638.91 379.82,638.91 C380.34,638.91 380.85,638.91 381.37,638.91 C381.89,638.92 382.41,638.92 382.92,638.92 C383.44,638.92 383.96,638.92 384.48,638.92 C385,638.92 385.51,638.92 386.03,638.92 C386.55,638.92 387.07,638.92 387.58,638.92 C388.1,638.92 388.62,638.92 389.14,638.92 C389.65,638.92 390.17,638.92 390.69,638.92 C391.21,638.92 391.72,638.92 392.24,638.92 C392.76,638.91 393.28,638.91 393.79,638.91 C394.31,638.91 394.83,638.91 395.35,638.91 C395.86,638.9 396.64,638.9 396.9,638.9" fill="none" stroke="#000" stroke-width="1.6" stroke-linejoin="round" stroke-linecap="round"/><g fill="#000" fill-opacity="0.32"><circle cx="247.74" cy="654.2" r="2.75"/><circle cx="248.59" cy="654.18" r="2.75"/><circle cx="249.45" cy="654.17" r="2.75"/><circle cx="250.31" cy="654.15" r="2.75"/><circle cx="251.16" cy="654.14" r="2.75"/><circle cx="252.01" cy="654.12" r="2.75"/><circle cx="252.87" cy="654.11" r="2.75"/><circle cx="253.72" cy="654.06" r="2.75"/><circle cx="254.58" cy="654.02" r="2.75"/><circle cx="255.44" cy="653.97" r="2.75"/><circle cx="256.29" cy="653.92" r="2.75"/><circle cx="257.14" cy="653.88" r="2.75"/><circle cx="258" cy="653.71" r="2.75"/><circle cx="258.86" cy="653.53" r="2.75"/><circle cx="259.71" cy="653.36" r="2.75"/><circle cx="260.56" cy="653.19" r="2.75"/><circle cx="261.42" cy="653.02" r="2.75"/><circle cx="262.27" cy="652.84" r="2.75"/><circle cx="263.13" cy="652.65" r="2.75"/><circle cx="263.99" cy="652.46" r="2.75"/><circle cx="264.84" cy="652.27" r="2.75"/><circle cx="265.69" cy="652" r="2.75"/><circle cx="266.55" cy="651.73" r="2.75"/><circle cx="267.4" cy="651.46" r="2.75"/><circle cx="268.26" cy="651.19" r="2.75"/><circle cx="269.12" cy="650.92" r="2.75"/><circle cx="269.97" cy="650.6" r="2.75"/><circle cx="270.82" cy="650.27" r="2.75"/><circle cx="271.68" cy="649.94" r="2.75"/><circle cx="272.54" cy="649.61" r="2.75"/><circle cx="273.39" cy="649.26" r="2.75"/><circle cx="274.25" cy="648.91" r="2.75"/><circle cx="275.1" cy="648.56" r="2.75"/><circle cx="275.95" cy="648.21" r="2.75"/><circle cx="276.81" cy="647.88" r="2.75"/><circle cx="277.67" cy="647.56" r="2.75"/><circle cx="278.52" cy="647.25" r="2.75"/><circle cx="279.38" cy="646.94" r="2.75"/><circle cx="280.23" cy="646.63" r="2.75"/><circle cx="281.08" cy="646.32" r="2.75"/><circle cx="281.94" cy="646.01" r="2.75"/><circle cx="282.8" cy="645.7" r="2.75"/><circle cx="283.65" cy="645.39" r="2.75"/><circle cx="284.5" cy="645.1" r="2.75"/><circle cx="285.36" cy="644.86" r="2.75"/><circle cx="286.21" cy="644.61" r="2.75"/><circle cx="287.07" cy="644.36" r="2.75"/><circle cx="287.93" cy="644.12" r="2.75"/><circle cx="288.78" cy="643.87" r="2.75"/><circle cx="289.63" cy="643.69" r="2.75"/><circle cx="290.49" cy="643.5" r="2.75"/><circle cx="291.35" cy="643.32" r="2.75"/><circle cx="292.2" cy="643.14" r="2.75"/><circle cx="293.06" cy="642.95" r="2.75"/><circle cx="293.91" cy="642.84" r="2.75"/><circle cx="294.76" cy="642.72" r="2.75"/><circle cx="295.62" cy="642.61" r="2.75"/><circle cx="296.48" cy="642.49" r="2.75"/><circle cx="297.33" cy="642.38" r="2.75"/><circle cx="298.19" cy="642.26" r="2.75"/><circle cx="299.04" cy="642.16" r="2.75"/><circle cx="299.89" cy="642.05" r="2.75"/><circle cx="300.75" cy="641.95" r="2.75"/><circle cx="301.61" cy="641.84" r="2.75"/><circle cx="302.46" cy="641.74" r="2.75"/><circle cx="303.31" cy="641.64" r="2.75"/><circle cx="304.17" cy="641.53" r="2.75"/><circle cx="305.02" cy="641.44" r="2.75"/><circle cx="305.88" cy="641.35" r="2.75"/><circle cx="306.74" cy="641.25" r="2.75"/><circle cx="307.59" cy="641.16" r="2.75"/><circle cx="308.44" cy="641.07" r="2.75"/><circle cx="309.3" cy="640.98" r="2.75"/><circle cx="310.15" cy="640.89" r="2.75"/><circle cx="311.01" cy="640.82" r="2.75"/><circle cx="311.87" cy="640.75" r="2.75"/><circle cx="312.72" cy="640.69" r="2.75"/><circle cx="313.57" cy="640.62" r="2.75"/><circle cx="314.43" cy="640.55" r="2.75"/><circle cx="315.28" cy="640.49" r="2.75"/><circle cx="316.14" cy="640.42" r="2.75"/><circle cx="317" cy="640.35" r="2.75"/><circle cx="317.85" cy="640.29" r="2.75"/><circle cx="318.7" cy="640.22" r="2.75"/><circle cx="319.56" cy="640.15" r="2.75"/><circle cx="320.42" cy="640.1" r="2.75"/><circle cx="321.27" cy="640.04" r="2.75"/><circle cx="322.12" cy="639.98" r="2.75"/><circle cx="322.98" cy="639.93" r="2.75"/><circle cx="323.83" cy="639.87" r="2.75"/><circle cx="324.69" cy="639.82" r="2.75"/><circle cx="325.55" cy="639.76" r="2.75"/><circle cx="326.4" cy="639.7" r="2.75"/><circle cx="327.25" cy="639.65" r="2.75"/><circle cx="328.11" cy="639.61" r="2.75"/><circle cx="328.97" cy="639.57" r="2.75"/><circle cx="329.82" cy="639.53" r="2.75"/><circle cx="330.68" cy="639.48" r="2.75"/><circle cx="331.53" cy="639.44" r="2.75"/><circle cx="332.38" cy="639.4" r="2.75"/><circle cx="333.24" cy="639.36" r="2.75"/><circle cx="334.1" cy="639.32" r="2.75"/><circle cx="334.95" cy="639.28" r="2.75"/><circle cx="335.81" cy="639.22" r="2.75"/><circle cx="336.66" cy="639.17" r="2.75"/><circle cx="337.51" cy="639.11" r="2.75"/><circle cx="338.37" cy="639.06" r="2.75"/><circle cx="339.23" cy="639" r="2.75"/><circle cx="340.08" cy="638.94" r="2.75"/><circle cx="340.94" cy="638.89" r="2.75"/><circle cx="341.79" cy="638.83" r="2.75"/><circle cx="342.64" cy="638.77" r="2.75"/><circle cx="343.5" cy="638.72" r="2.75"/></g>
</g>
<rect x="229.7" y="557.8" width="175.5" height="100.4" fill="none" stroke="#333333" stroke-width="1.0"/>
<g clip-path="url(#cp52)">
<line x1="412.4" x2="587.9" y1="642.72" y2="642.72" stroke="#EBEBEB" stroke-width="0.7"/>
<line x1="412.4" x2="587.9" y1="619.77" y2="619.77" stroke="#EBEBEB" stroke-width="0.7"/>
<line x1="412.4" x2="587.9" y1="596.82" y2="596.82" stroke="#EBEBEB" stroke-width="0.7"/>
<line x1="412.4" x2="587.9" y1="573.87" y2="573.87" stroke="#EBEBEB" stroke-width="0.7"/>
<line x1="479.6" x2="479.6" y1="557.8" y2="658.2" stroke="#EBEBEB" stroke-width="0.7"/>
<line x1="557.41" x2="557.41" y1="557.8" y2="658.2" stroke="#EBEBEB" stroke-width="0.7"/>
<line x1="412.4" x2="587.9" y1="654.2" y2="654.2" stroke="#EBEBEB" stroke-width="1.4"/>
<line x1="412.4" x2="587.9" y1="631.25" y2="631.25" stroke="#EBEBEB" stroke-width="1.4"/>
<line x1="412.4" x2="587.9" y1="608.29" y2="608.29" stroke="#EBEBEB" stroke-width="1.4"/>
<line x1="412.4" x2="587.9" y1="585.34" y2="585.34" stroke="#EBEBEB" stroke-width="1.4"/>
<line x1="412.4" x2="587.9" y1="562.39" y2="562.39" stroke="#EBEBEB" stroke-width="1.4"/>
<line x1="440.7" x2="440.7" y1="557.8" y2="658.2" stroke="#EBEBEB" stroke-width="1.4"/>
<line x1="518.5" x2="518.5" y1="557.8" y2="658.2" stroke="#EBEBEB" stroke-width="1.4"/>
<path d="M522,636.7 C522.24,636.46 522.97,635.62 523.45,635.27 C523.94,634.91 524.42,634.8 524.91,634.58 C525.39,634.35 525.88,634.14 526.36,633.92 C526.85,633.71 527.33,633.5 527.82,633.29 C528.3,633.08 528.79,632.87 529.28,632.67 C529.76,632.46 530.25,632.26 530.73,632.06 C531.22,631.86 531.71,631.66 532.19,631.46 C532.68,631.26 533.17,631.06 533.65,630.87 C534.14,630.67 534.63,630.47 535.11,630.28 C535.6,630.09 536.09,629.9 536.58,629.71 C537.07,629.51 537.56,629.33 538.04,629.14 C538.53,628.95 539.02,628.76 539.51,628.58 C540,628.4 540.49,628.21 540.98,628.03 C541.47,627.85 541.96,627.67 542.46,627.5 C542.95,627.32 543.44,627.14 543.93,626.97 C544.42,626.8 544.92,626.63 545.41,626.46 C545.9,626.29 546.4,626.12 546.89,625.96 C547.39,625.79 547.88,625.63 548.38,625.47 C548.87,625.31 549.37,625.15 549.86,625 C550.36,624.84 550.86,624.69 551.36,624.54 C551.85,624.39 552.35,624.25 552.85,624.1 C553.35,623.96 553.85,623.82 554.35,623.68 C554.85,623.54 555.35,623.41 555.85,623.27 C556.36,623.14 556.86,623.01 557.36,622.89 C557.87,622.76 558.37,622.64 558.87,622.52 C559.38,622.4 559.88,622.29 560.39,622.18 C560.9,622.07 561.41,621.96 561.91,621.86 C562.42,621.75 562.93,621.65 563.44,621.56 C563.95,621.46 564.46,621.37 564.97,621.28 C565.48,621.19 566,621.11 566.51,621.03 C567.02,620.95 567.54,620.87 568.05,620.8 C568.57,620.73 569.34,620.63 569.6,620.6 L569.6,627 C569.34,627.02 568.57,627.08 568.05,627.12 C567.54,627.17 567.02,627.22 566.51,627.27 C566,627.32 565.48,627.38 564.97,627.44 C564.46,627.5 563.95,627.57 563.44,627.63 C562.93,627.7 562.42,627.77 561.91,627.85 C561.41,627.93 560.9,628.01 560.39,628.09 C559.88,628.17 559.38,628.26 558.87,628.35 C558.37,628.44 557.87,628.53 557.36,628.63 C556.86,628.72 556.36,628.82 555.85,628.92 C555.35,629.02 554.85,629.13 554.35,629.24 C553.85,629.34 553.35,629.45 552.85,629.57 C552.35,629.68 551.85,629.79 551.36,629.91 C550.86,630.03 550.36,630.15 549.86,630.27 C549.37,630.39 548.87,630.52 548.38,630.64 C547.88,630.77 547.39,630.9 546.89,631.03 C546.4,631.16 545.9,631.29 545.41,631.42 C544.92,631.56 544.42,631.69 543.93,631.83 C543.44,631.96 542.95,632.1 542.46,632.24 C541.96,632.38 541.47,632.52 540.98,632.66 C540.49,632.81 540,632.95 539.51,633.09 C539.02,633.24 538.53,633.38 538.04,633.52 C537.56,633.67 537.07,633.82 536.58,633.96 C536.09,634.11 535.6,634.25 535.11,634.4 C534.63,634.55 534.14,634.69 533.65,634.84 C533.17,634.99 532.68,635.13 532.19,635.28 C531.71,635.43 531.22,635.57 530.73,635.72 C530.25,635.86 529.76,636 529.28,636.15 C528.79,636.29 528.3,636.43 527.82,636.57 C527.33,636.71 526.85,636.84 526.36,636.98 C525.88,637.11 525.39,637.24 524.91,637.36 C524.42,637.48 523.94,637.72 523.45,637.71 C522.97,637.7 522.24,637.37 522,637.3 Z" fill="#7F7F7F" fill-opacity="0.3"/><path d="M522.69,637.12 C522.98,637.03 523.83,636.78 524.4,636.61 C524.97,636.44 525.73,636.22 526.11,636.11 C526.5,635.99 526.61,635.96 526.71,635.93" fill="none" stroke="#5C5C5C" stroke-width="2.1" stroke-linejoin="round" stroke-linecap="round"/><path d="M420.09,654.2 C420.52,654.19 421.8,654.18 422.66,654.17 C423.51,654.15 424.37,654.14 425.22,654.13 C426.08,654.12 426.93,654.11 427.79,654.09 C428.64,654.08 429.5,654.07 430.35,654.05 C431.21,654.03 432.06,654.02 432.92,653.99 C433.77,653.97 434.63,653.94 435.48,653.91 C436.34,653.89 437.19,653.87 438.05,653.84 C438.9,653.8 439.76,653.76 440.61,653.72 C441.47,653.68 442.32,653.64 443.18,653.6 C444.03,653.55 444.89,653.51 445.74,653.46 C446.6,653.41 447.45,653.35 448.31,653.3 C449.16,653.24 450.02,653.19 450.87,653.13 C451.73,653.07 452.58,653.01 453.44,652.95 C454.29,652.89 455.15,652.83 456,652.77 C456.86,652.71 457.71,652.64 458.57,652.58 C459.42,652.51 460.28,652.44 461.13,652.37 C461.99,652.3 462.84,652.24 463.7,652.16 C464.55,652.08 465.41,651.99 466.26,651.89 C467.12,651.8 467.97,651.69 468.83,651.58 C469.68,651.48 470.54,651.39 471.39,651.27 C472.25,651.16 473.1,651.02 473.96,650.9 C474.81,650.77 475.67,650.64 476.52,650.51 C477.38,650.38 478.23,650.27 479.09,650.12 C479.94,649.97 480.8,649.8 481.65,649.63 C482.51,649.45 483.36,649.3 484.22,649.08 C485.07,648.86 485.93,648.56 486.78,648.3 C487.64,648.03 488.49,647.76 489.35,647.5 C490.2,647.23 491.06,646.97 491.91,646.71 C492.77,646.46 493.62,646.18 494.48,645.96 C495.33,645.74 496.19,645.61 497.04,645.4 C497.9,645.2 498.75,644.96 499.61,644.71 C500.46,644.46 501.32,644.22 502.17,643.89 C503.03,643.55 503.88,643.05 504.74,642.68 C505.59,642.31 506.45,642.01 507.3,641.68 C508.16,641.35 509.01,641.02 509.87,640.69 C510.72,640.36 511.58,640.03 512.43,639.73 C513.29,639.43 514.14,639.12 515,638.89 C515.85,638.65 516.4,638.64 517.56,638.33 C518.73,638.02 521.02,637.31 522,637 C522.98,636.69 522.97,636.66 523.45,636.49 C523.94,636.31 524.42,636.14 524.91,635.97 C525.39,635.8 525.88,635.62 526.36,635.45 C526.85,635.28 527.33,635.1 527.82,634.93 C528.3,634.76 528.79,634.58 529.28,634.41 C529.76,634.23 530.25,634.06 530.73,633.89 C531.22,633.71 531.71,633.54 532.19,633.37 C532.68,633.2 533.17,633.02 533.65,632.85 C534.14,632.68 534.63,632.51 535.11,632.34 C535.6,632.17 536.09,632 536.58,631.83 C537.07,631.67 537.56,631.5 538.04,631.33 C538.53,631.17 539.02,631 539.51,630.84 C540,630.67 540.49,630.51 540.98,630.35 C541.47,630.19 541.96,630.03 542.46,629.87 C542.95,629.71 543.44,629.55 543.93,629.4 C544.42,629.24 544.92,629.09 545.41,628.94 C545.9,628.79 546.4,628.64 546.89,628.49 C547.39,628.34 547.88,628.2 548.38,628.06 C548.87,627.91 549.37,627.77 549.86,627.63 C550.36,627.5 550.86,627.36 551.36,627.23 C551.85,627.09 552.35,626.96 552.85,626.83 C553.35,626.71 553.85,626.58 554.35,626.46 C554.85,626.33 555.35,626.21 555.85,626.1 C556.36,625.98 556.86,625.87 557.36,625.76 C557.87,625.65 558.37,625.54 558.87,625.44 C559.38,625.33 559.88,625.23 560.39,625.13 C560.9,625.04 561.41,624.94 561.91,624.85 C562.42,624.76 562.93,624.68 563.44,624.59 C563.95,624.51 564.46,624.43 564.97,624.36 C565.48,624.28 566,624.21 566.51,624.15 C567.02,624.08 567.54,624.02 568.05,623.96 C568.57,623.9 569.34,623.83 569.6,623.8" fill="none" stroke="#000" stroke-width="1.6" stroke-linejoin="round" stroke-linecap="round"/><g fill="#000" fill-opacity="0.32"><circle cx="420.09" cy="654.2" r="2.75"/><circle cx="427.02" cy="654.11" r="2.75"/><circle cx="430.01" cy="654.05" r="2.75"/><circle cx="430.87" cy="654.04" r="2.75"/><circle cx="431.72" cy="654.02" r="2.75"/><circle cx="432.58" cy="654" r="2.75"/><circle cx="433.43" cy="653.98" r="2.75"/><circle cx="434.29" cy="653.95" r="2.75"/><circle cx="435.14" cy="653.92" r="2.75"/><circle cx="436" cy="653.9" r="2.75"/><circle cx="436.85" cy="653.87" r="2.75"/><circle cx="437.71" cy="653.85" r="2.75"/><circle cx="438.56" cy="653.81" r="2.75"/><circle cx="439.42" cy="653.77" r="2.75"/><circle cx="440.27" cy="653.73" r="2.75"/><circle cx="441.13" cy="653.69" r="2.75"/><circle cx="441.98" cy="653.65" r="2.75"/><circle cx="442.84" cy="653.61" r="2.75"/><circle cx="443.69" cy="653.57" r="2.75"/><circle cx="444.55" cy="653.53" r="2.75"/><circle cx="445.4" cy="653.48" r="2.75"/><circle cx="446.26" cy="653.43" r="2.75"/><circle cx="447.11" cy="653.37" r="2.75"/><circle cx="447.97" cy="653.32" r="2.75"/><circle cx="448.82" cy="653.26" r="2.75"/><circle cx="449.68" cy="653.21" r="2.75"/><circle cx="450.53" cy="653.15" r="2.75"/><circle cx="451.39" cy="653.1" r="2.75"/><circle cx="452.24" cy="653.04" r="2.75"/><circle cx="453.1" cy="652.98" r="2.75"/><circle cx="453.95" cy="652.91" r="2.75"/><circle cx="454.81" cy="652.85" r="2.75"/><circle cx="455.66" cy="652.79" r="2.75"/><circle cx="456.52" cy="652.73" r="2.75"/><circle cx="457.37" cy="652.67" r="2.75"/><circle cx="458.23" cy="652.6" r="2.75"/><circle cx="459.08" cy="652.54" r="2.75"/><circle cx="459.94" cy="652.47" r="2.75"/><circle cx="460.79" cy="652.4" r="2.75"/><circle cx="461.65" cy="652.33" r="2.75"/><circle cx="462.5" cy="652.26" r="2.75"/><circle cx="463.36" cy="652.19" r="2.75"/><circle cx="464.21" cy="652.12" r="2.75"/><circle cx="465.07" cy="652.04" r="2.75"/><circle cx="465.92" cy="651.93" r="2.75"/><circle cx="466.78" cy="651.83" r="2.75"/><circle cx="467.63" cy="651.73" r="2.75"/><circle cx="468.49" cy="651.62" r="2.75"/><circle cx="469.34" cy="651.52" r="2.75"/><circle cx="470.2" cy="651.42" r="2.75"/><circle cx="471.05" cy="651.31" r="2.75"/><circle cx="471.91" cy="651.2" r="2.75"/><circle cx="472.76" cy="651.07" r="2.75"/><circle cx="473.62" cy="650.95" r="2.75"/><circle cx="474.47" cy="650.82" r="2.75"/><circle cx="475.33" cy="650.69" r="2.75"/><circle cx="476.18" cy="650.56" r="2.75"/><circle cx="477.04" cy="650.43" r="2.75"/><circle cx="477.89" cy="650.3" r="2.75"/><circle cx="478.75" cy="650.17" r="2.75"/><circle cx="479.6" cy="650.04" r="2.75"/><circle cx="480.46" cy="649.88" r="2.75"/><circle cx="481.31" cy="649.7" r="2.75"/><circle cx="482.17" cy="649.52" r="2.75"/><circle cx="483.02" cy="649.33" r="2.75"/><circle cx="483.88" cy="649.15" r="2.75"/><circle cx="484.73" cy="648.93" r="2.75"/><circle cx="485.59" cy="648.67" r="2.75"/><circle cx="486.44" cy="648.4" r="2.75"/><circle cx="487.3" cy="648.14" r="2.75"/><circle cx="488.15" cy="647.87" r="2.75"/><circle cx="489.01" cy="647.6" r="2.75"/><circle cx="489.86" cy="647.33" r="2.75"/><circle cx="490.72" cy="647.07" r="2.75"/><circle cx="491.57" cy="646.81" r="2.75"/><circle cx="492.43" cy="646.56" r="2.75"/><circle cx="493.28" cy="646.31" r="2.75"/><circle cx="494.14" cy="646.06" r="2.75"/><circle cx="494.99" cy="645.85" r="2.75"/><circle cx="495.85" cy="645.66" r="2.75"/><circle cx="496.7" cy="645.48" r="2.75"/><circle cx="497.56" cy="645.29" r="2.75"/><circle cx="498.41" cy="645.07" r="2.75"/><circle cx="499.27" cy="644.81" r="2.75"/><circle cx="500.12" cy="644.55" r="2.75"/><circle cx="500.98" cy="644.29" r="2.75"/><circle cx="501.83" cy="644.04" r="2.75"/><circle cx="502.69" cy="643.64" r="2.75"/><circle cx="503.54" cy="643.23" r="2.75"/><circle cx="504.4" cy="642.82" r="2.75"/><circle cx="505.25" cy="642.48" r="2.75"/><circle cx="506.11" cy="642.15" r="2.75"/><circle cx="506.96" cy="641.81" r="2.75"/><circle cx="507.82" cy="641.48" r="2.75"/><circle cx="508.67" cy="641.15" r="2.75"/><circle cx="509.53" cy="640.82" r="2.75"/><circle cx="510.38" cy="640.5" r="2.75"/><circle cx="511.24" cy="640.18" r="2.75"/><circle cx="512.09" cy="639.85" r="2.75"/><circle cx="512.95" cy="639.53" r="2.75"/><circle cx="513.8" cy="639.21" r="2.75"/><circle cx="514.66" cy="638.96" r="2.75"/><circle cx="515.51" cy="638.78" r="2.75"/><circle cx="516.37" cy="638.59" r="2.75"/><circle cx="517.22" cy="638.41" r="2.75"/><circle cx="518.08" cy="638.22" r="2.75"/><circle cx="518.93" cy="638.03" r="2.75"/><circle cx="519.79" cy="637.84" r="2.75"/><circle cx="520.64" cy="637.65" r="2.75"/><circle cx="521.5" cy="637.46" r="2.75"/><circle cx="522.35" cy="637.22" r="2.75"/></g>
</g>
<rect x="412.4" y="557.8" width="175.5" height="100.4" fill="none" stroke="#333333" stroke-width="1.0"/>
<rect x="47" y="0.6" width="175.5" height="20.3" fill="#D9D9D9" stroke="#333333" stroke-width="1.0"/>
<text x="135.15" y="14.7" text-anchor="middle" class="st">All of South Dakota</text>
<rect x="229.7" y="0.6" width="175.5" height="20.3" fill="#D9D9D9" stroke="#333333" stroke-width="1.0"/>
<text x="317.85" y="14.7" text-anchor="middle" class="st">Minnehaha County</text>
<rect x="412.4" y="0.6" width="175.5" height="20.3" fill="#D9D9D9" stroke="#333333" stroke-width="1.0"/>
<text x="500.55" y="14.7" text-anchor="middle" class="st">Outside of Minnehaha</text>
<rect x="587.9" y="20.9" width="21" height="100.4" fill="#D9D9D9" stroke="#333333" stroke-width="1.0"/>
<text transform="translate(595.1,71.1) rotate(90)" text-anchor="middle" class="st">20</text>
<rect x="587.9" y="128.28" width="21" height="100.4" fill="#D9D9D9" stroke="#333333" stroke-width="1.0"/>
<text transform="translate(595.1,178.48) rotate(90)" text-anchor="middle" class="st">40</text>
<rect x="587.9" y="235.66" width="21" height="100.4" fill="#D9D9D9" stroke="#333333" stroke-width="1.0"/>
<text transform="translate(595.1,285.86) rotate(90)" text-anchor="middle" class="st">60</text>
<rect x="587.9" y="343.04" width="21" height="100.4" fill="#D9D9D9" stroke="#333333" stroke-width="1.0"/>
<text transform="translate(595.1,393.24) rotate(90)" text-anchor="middle" class="st">80</text>
<rect x="587.9" y="450.42" width="21" height="100.4" fill="#D9D9D9" stroke="#333333" stroke-width="1.0"/>
<text transform="translate(595.1,500.62) rotate(90)" text-anchor="middle" class="st">100</text>
<rect x="587.9" y="557.8" width="21" height="100.4" fill="#D9D9D9" stroke="#333333" stroke-width="1.0"/>
<text transform="translate(595.1,608) rotate(90)" text-anchor="middle" class="st">120</text>
<line x1="43.2" x2="47" y1="117.3" y2="117.3" stroke="#333333" stroke-width="1.1"/>
<text x="40.5" y="121.55" text-anchor="end" class="ax">0</text>
<line x1="43.2" x2="47" y1="94.35" y2="94.35" stroke="#333333" stroke-width="1.1"/>
<text x="40.5" y="98.6" text-anchor="end" class="ax">500</text>
<line x1="43.2" x2="47" y1="71.39" y2="71.39" stroke="#333333" stroke-width="1.1"/>
<text x="40.5" y="75.64" text-anchor="end" class="ax">1000</text>
<line x1="43.2" x2="47" y1="48.44" y2="48.44" stroke="#333333" stroke-width="1.1"/>
<text x="40.5" y="52.69" text-anchor="end" class="ax">1500</text>
<line x1="43.2" x2="47" y1="25.49" y2="25.49" stroke="#333333" stroke-width="1.1"/>
<text x="40.5" y="29.74" text-anchor="end" class="ax">2000</text>
<line x1="43.2" x2="47" y1="224.68" y2="224.68" stroke="#333333" stroke-width="1.1"/>
<text x="40.5" y="228.93" text-anchor="end" class="ax">0</text>
<line x1="43.2" x2="47" y1="201.73" y2="201.73" stroke="#333333" stroke-width="1.1"/>
<text x="40.5" y="205.98" text-anchor="end" class="ax">500</text>
<line x1="43.2" x2="47" y1="178.78" y2="178.78" stroke="#333333" stroke-width="1.1"/>
<text x="40.5" y="183.03" text-anchor="end" class="ax">1000</text>
<line x1="43.2" x2="47" y1="155.82" y2="155.82" stroke="#333333" stroke-width="1.1"/>
<text x="40.5" y="160.07" text-anchor="end" class="ax">1500</text>
<line x1="43.2" x2="47" y1="132.87" y2="132.87" stroke="#333333" stroke-width="1.1"/>
<text x="40.5" y="137.12" text-anchor="end" class="ax">2000</text>
<line x1="43.2" x2="47" y1="332.06" y2="332.06" stroke="#333333" stroke-width="1.1"/>
<text x="40.5" y="336.31" text-anchor="end" class="ax">0</text>
<line x1="43.2" x2="47" y1="309.11" y2="309.11" stroke="#333333" stroke-width="1.1"/>
<text x="40.5" y="313.36" text-anchor="end" class="ax">500</text>
<line x1="43.2" x2="47" y1="286.15" y2="286.15" stroke="#333333" stroke-width="1.1"/>
<text x="40.5" y="290.4" text-anchor="end" class="ax">1000</text>
<line x1="43.2" x2="47" y1="263.2" y2="263.2" stroke="#333333" stroke-width="1.1"/>
<text x="40.5" y="267.45" text-anchor="end" class="ax">1500</text>
<line x1="43.2" x2="47" y1="240.25" y2="240.25" stroke="#333333" stroke-width="1.1"/>
<text x="40.5" y="244.5" text-anchor="end" class="ax">2000</text>
<line x1="43.2" x2="47" y1="439.44" y2="439.44" stroke="#333333" stroke-width="1.1"/>
<text x="40.5" y="443.69" text-anchor="end" class="ax">0</text>
<line x1="43.2" x2="47" y1="416.49" y2="416.49" stroke="#333333" stroke-width="1.1"/>
<text x="40.5" y="420.74" text-anchor="end" class="ax">500</text>
<line x1="43.2" x2="47" y1="393.53" y2="393.53" stroke="#333333" stroke-width="1.1"/>
<text x="40.5" y="397.78" text-anchor="end" class="ax">1000</text>
<line x1="43.2" x2="47" y1="370.58" y2="370.58" stroke="#333333" stroke-width="1.1"/>
<text x="40.5" y="374.83" text-anchor="end" class="ax">1500</text>
<line x1="43.2" x2="47" y1="347.63" y2="347.63" stroke="#333333" stroke-width="1.1"/>
<text x="40.5" y="351.88" text-anchor="end" class="ax">2000</text>
<line x1="43.2" x2="47" y1="546.82" y2="546.82" stroke="#333333" stroke-width="1.1"/>
<text x="40.5" y="551.07" text-anchor="end" class="ax">0</text>
<line x1="43.2" x2="47" y1="523.87" y2="523.87" stroke="#333333" stroke-width="1.1"/>
<text x="40.5" y="528.12" text-anchor="end" class="ax">500</text>
<line x1="43.2" x2="47" y1="500.91" y2="500.91" stroke="#333333" stroke-width="1.1"/>
<text x="40.5" y="505.16" text-anchor="end" class="ax">1000</text>
<line x1="43.2" x2="47" y1="477.96" y2="477.96" stroke="#333333" stroke-width="1.1"/>
<text x="40.5" y="482.21" text-anchor="end" class="ax">1500</text>
<line x1="43.2" x2="47" y1="455.01" y2="455.01" stroke="#333333" stroke-width="1.1"/>
<text x="40.5" y="459.26" text-anchor="end" class="ax">2000</text>
<line x1="43.2" x2="47" y1="654.2" y2="654.2" stroke="#333333" stroke-width="1.1"/>
<text x="40.5" y="658.45" text-anchor="end" class="ax">0</text>
<line x1="43.2" x2="47" y1="631.25" y2="631.25" stroke="#333333" stroke-width="1.1"/>
<text x="40.5" y="635.5" text-anchor="end" class="ax">500</text>
<line x1="43.2" x2="47" y1="608.29" y2="608.29" stroke="#333333" stroke-width="1.1"/>
<text x="40.5" y="612.54" text-anchor="end" class="ax">1000</text>
<line x1="43.2" x2="47" y1="585.34" y2="585.34" stroke="#333333" stroke-width="1.1"/>
<text x="40.5" y="589.59" text-anchor="end" class="ax">1500</text>
<line x1="43.2" x2="47" y1="562.39" y2="562.39" stroke="#333333" stroke-width="1.1"/>
<text x="40.5" y="566.64" text-anchor="end" class="ax">2000</text>
<line x1="75.3" x2="75.3" y1="658.2" y2="661.8" stroke="#333333" stroke-width="1.1"/>
<text x="75.3" y="672.6" text-anchor="middle" class="ax">Apr</text>
<line x1="153.1" x2="153.1" y1="658.2" y2="661.8" stroke="#333333" stroke-width="1.1"/>
<text x="153.1" y="672.6" text-anchor="middle" class="ax">Jul</text>
<line x1="258" x2="258" y1="658.2" y2="661.8" stroke="#333333" stroke-width="1.1"/>
<text x="258" y="672.6" text-anchor="middle" class="ax">Apr</text>
<line x1="335.81" x2="335.81" y1="658.2" y2="661.8" stroke="#333333" stroke-width="1.1"/>
<text x="335.81" y="672.6" text-anchor="middle" class="ax">Jul</text>
<line x1="440.7" x2="440.7" y1="658.2" y2="661.8" stroke="#333333" stroke-width="1.1"/>
<text x="440.7" y="672.6" text-anchor="middle" class="ax">Apr</text>
<line x1="518.5" x2="518.5" y1="658.2" y2="661.8" stroke="#333333" stroke-width="1.1"/>
<text x="518.5" y="672.6" text-anchor="middle" class="ax">Jul</text>
<text transform="translate(10.3,339.65) rotate(-90)" text-anchor="middle" class="ti">Cumulative Hospitalizations</text>
<text x="629.5" y="319.7" class="lt">data</text>
<circle cx="639.9" cy="339.0" r="3.2" fill="#AEAEAE"/>
<circle cx="639.9" cy="360.1" r="1.2" fill="#AEAEAE"/>
<text x="657.2" y="343.5" class="lx">fit</text>
<text x="657.2" y="364.0" class="lx">future</text>
</svg></body></html>
